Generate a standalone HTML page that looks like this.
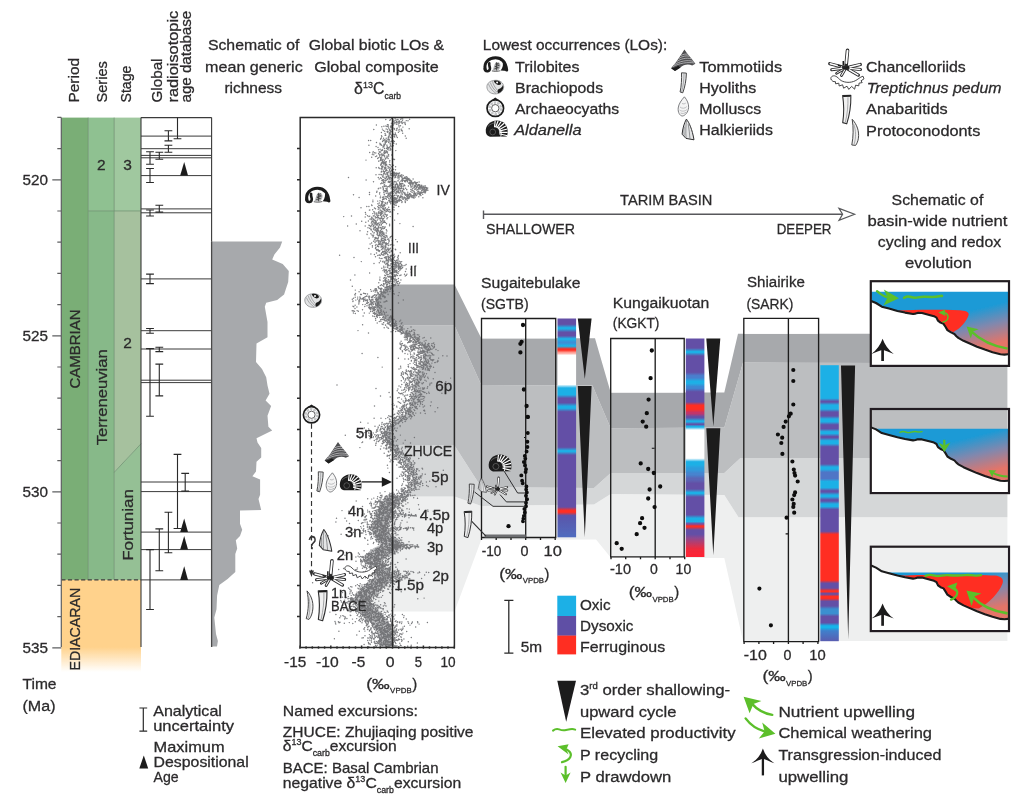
<!DOCTYPE html>
<html lang="en"><head><meta charset="utf-8"><title>Cambrian carbon isotope and Tarim Basin redox figure</title>
<style>
html,body{margin:0;padding:0;background:#fff}
svg{display:block}
text{font-family:"Liberation Sans", sans-serif;fill:#2b2a2b;stroke:#2b2a2b;stroke-width:0.28px}
</style></head><body>
<svg width="1019" height="798" viewBox="0 0 1019 798">
<defs>
<filter id="soft" x="-5%" y="-5%" width="110%" height="110%"><feGaussianBlur stdDeviation="0.45"/></filter>
<linearGradient id="edi" x1="0" y1="0" x2="0" y2="1"><stop offset="0" stop-color="#ffd28c"/><stop offset="0.73" stop-color="#ffd28c"/><stop offset="1" stop-color="#ffd28c" stop-opacity="0"/></linearGradient>
<linearGradient id="cbS" x1="0" y1="0" x2="0" y2="1"><stop offset="0.0078" stop-color="#6350a6"/><stop offset="0.0265" stop-color="#6350a6"/><stop offset="0.0420" stop-color="#1fb0e6"/><stop offset="0.0471" stop-color="#1fb0e6"/><stop offset="0.0626" stop-color="#6350a6"/><stop offset="0.0791" stop-color="#6350a6"/><stop offset="0.0920" stop-color="#1fb0e6"/><stop offset="0.0953" stop-color="#1fb0e6"/><stop offset="0.1075" stop-color="#3d8fd6"/><stop offset="0.1119" stop-color="#3d8fd6"/><stop offset="0.1237" stop-color="#1fb0e6"/><stop offset="0.1268" stop-color="#1fb0e6"/><stop offset="0.1394" stop-color="#ff2d21"/><stop offset="0.1444" stop-color="#ff2d21"/><stop offset="0.1553" stop-color="#ff9c92"/><stop offset="0.1573" stop-color="#ff9c92"/><stop offset="0.1682" stop-color="#ffffff"/><stop offset="0.3016" stop-color="#ffffff"/><stop offset="0.3172" stop-color="#1fb0e6"/><stop offset="0.3487" stop-color="#1fb0e6"/><stop offset="0.3643" stop-color="#6350a6"/><stop offset="0.3853" stop-color="#6350a6"/><stop offset="0.4008" stop-color="#1fb0e6"/><stop offset="0.4104" stop-color="#1fb0e6"/><stop offset="0.4260" stop-color="#6350a6"/><stop offset="0.5882" stop-color="#6350a6"/><stop offset="0.6036" stop-color="#1fb0e6"/><stop offset="0.6084" stop-color="#1fb0e6"/><stop offset="0.6239" stop-color="#6350a6"/><stop offset="0.8615" stop-color="#6350a6"/><stop offset="0.8771" stop-color="#ff2d21"/><stop offset="0.8853" stop-color="#ff2d21"/><stop offset="0.9008" stop-color="#5b55aa"/><stop offset="1.0000" stop-color="#4f6cbf"/></linearGradient>
<linearGradient id="cbK" x1="0" y1="0" x2="0" y2="1"><stop offset="0.0078" stop-color="#6350a6"/><stop offset="0.0439" stop-color="#6350a6"/><stop offset="0.0594" stop-color="#1fb0e6"/><stop offset="0.0642" stop-color="#1fb0e6"/><stop offset="0.0796" stop-color="#6350a6"/><stop offset="0.1547" stop-color="#6350a6"/><stop offset="0.1703" stop-color="#4a7fce"/><stop offset="0.1799" stop-color="#4a7fce"/><stop offset="0.1954" stop-color="#1fb0e6"/><stop offset="0.2050" stop-color="#1fb0e6"/><stop offset="0.2206" stop-color="#3f86d2"/><stop offset="0.2279" stop-color="#3f86d2"/><stop offset="0.2435" stop-color="#6350a6"/><stop offset="0.2902" stop-color="#6350a6"/><stop offset="0.3057" stop-color="#ff2d21"/><stop offset="0.3240" stop-color="#ff2d21"/><stop offset="0.3388" stop-color="#c2356a"/><stop offset="0.3432" stop-color="#c2356a"/><stop offset="0.3579" stop-color="#6350a6"/><stop offset="0.3629" stop-color="#6350a6"/><stop offset="0.3773" stop-color="#1fb0e6"/><stop offset="0.3815" stop-color="#1fb0e6"/><stop offset="0.3914" stop-color="#6350a6"/><stop offset="0.3935" stop-color="#6350a6"/><stop offset="0.4022" stop-color="#1fb0e6"/><stop offset="0.4056" stop-color="#1fb0e6"/><stop offset="0.4188" stop-color="#ffffff"/><stop offset="0.5483" stop-color="#ffffff"/><stop offset="0.5638" stop-color="#1fb0e6"/><stop offset="0.5780" stop-color="#1fb0e6"/><stop offset="0.5936" stop-color="#2f9bdc"/><stop offset="0.6009" stop-color="#2f9bdc"/><stop offset="0.6165" stop-color="#4684cf"/><stop offset="0.6238" stop-color="#4684cf"/><stop offset="0.6394" stop-color="#5a66b6"/><stop offset="0.6467" stop-color="#5a66b6"/><stop offset="0.6622" stop-color="#6350a6"/><stop offset="0.6892" stop-color="#6350a6"/><stop offset="0.7047" stop-color="#1fb0e6"/><stop offset="0.7095" stop-color="#1fb0e6"/><stop offset="0.7249" stop-color="#6350a6"/><stop offset="0.8069" stop-color="#6350a6"/><stop offset="0.8224" stop-color="#1fb0e6"/><stop offset="0.8375" stop-color="#1fb0e6"/><stop offset="0.8477" stop-color="#7a4fa0"/><stop offset="0.8493" stop-color="#7a4fa0"/><stop offset="0.8580" stop-color="#ff2d21"/><stop offset="0.8619" stop-color="#ff2d21"/><stop offset="0.8760" stop-color="#6350a6"/><stop offset="0.8961" stop-color="#6350a6"/><stop offset="0.9117" stop-color="#8a4a92"/><stop offset="0.9634" stop-color="#f02a3c"/><stop offset="1.0000" stop-color="#ff2233"/></linearGradient>
<linearGradient id="cbR" x1="0" y1="0" x2="0" y2="1"><stop offset="0.0054" stop-color="#1fb0e6"/><stop offset="0.1199" stop-color="#1fb0e6"/><stop offset="0.1305" stop-color="#6350a6"/><stop offset="0.1337" stop-color="#6350a6"/><stop offset="0.1442" stop-color="#1fb0e6"/><stop offset="0.1587" stop-color="#1fb0e6"/><stop offset="0.1696" stop-color="#6350a6"/><stop offset="0.1841" stop-color="#6350a6"/><stop offset="0.1949" stop-color="#1fb0e6"/><stop offset="0.2051" stop-color="#1fb0e6"/><stop offset="0.2159" stop-color="#6350a6"/><stop offset="0.2301" stop-color="#6350a6"/><stop offset="0.2409" stop-color="#1fb0e6"/><stop offset="0.2475" stop-color="#1fb0e6"/><stop offset="0.2583" stop-color="#6350a6"/><stop offset="0.2627" stop-color="#6350a6"/><stop offset="0.2736" stop-color="#1fb0e6"/><stop offset="0.2844" stop-color="#1fb0e6"/><stop offset="0.2953" stop-color="#6350a6"/><stop offset="0.3580" stop-color="#6350a6"/><stop offset="0.3688" stop-color="#1fb0e6"/><stop offset="0.3768" stop-color="#1fb0e6"/><stop offset="0.3877" stop-color="#4f74c6"/><stop offset="0.4105" stop-color="#4f74c6"/><stop offset="0.4214" stop-color="#1fb0e6"/><stop offset="0.4438" stop-color="#1fb0e6"/><stop offset="0.4547" stop-color="#6350a6"/><stop offset="0.4594" stop-color="#6350a6"/><stop offset="0.4703" stop-color="#1fb0e6"/><stop offset="0.4764" stop-color="#1fb0e6"/><stop offset="0.4873" stop-color="#6350a6"/><stop offset="0.4920" stop-color="#6350a6"/><stop offset="0.5029" stop-color="#1fb0e6"/><stop offset="0.5120" stop-color="#1fb0e6"/><stop offset="0.5228" stop-color="#6350a6"/><stop offset="0.6018" stop-color="#6350a6"/><stop offset="0.6127" stop-color="#ff2d21"/><stop offset="0.7793" stop-color="#ff2d21"/><stop offset="0.7902" stop-color="#6350a6"/><stop offset="0.8076" stop-color="#6350a6"/><stop offset="0.8174" stop-color="#ff2d21"/><stop offset="0.8202" stop-color="#ff2d21"/><stop offset="0.8277" stop-color="#6350a6"/><stop offset="0.8296" stop-color="#6350a6"/><stop offset="0.8380" stop-color="#ff2d21"/><stop offset="0.8446" stop-color="#ff2d21"/><stop offset="0.8554" stop-color="#6350a6"/><stop offset="0.8725" stop-color="#6350a6"/><stop offset="0.8833" stop-color="#3a8fd0"/><stop offset="0.8996" stop-color="#3a8fd0"/><stop offset="0.9105" stop-color="#6350a6"/><stop offset="0.9333" stop-color="#6350a6"/><stop offset="0.9442" stop-color="#12b4ea"/><stop offset="0.9511" stop-color="#12b4ea"/><stop offset="0.9620" stop-color="#3f80cc"/><stop offset="1.0000" stop-color="#5a5db0"/></linearGradient>
<linearGradient id="sea0" gradientUnits="userSpaceOnUse" x1="930" y1="291.8" x2="946" y2="356.0"><stop offset="0" stop-color="#1b9ad6"/><stop offset="0.42" stop-color="#1b9ad6"/><stop offset="0.7" stop-color="#8088ae"/><stop offset="1" stop-color="#e47468"/></linearGradient>
<linearGradient id="sea1" gradientUnits="userSpaceOnUse" x1="930" y1="418.2" x2="946" y2="482.4"><stop offset="0" stop-color="#1b9ad6"/><stop offset="0.42" stop-color="#1b9ad6"/><stop offset="0.7" stop-color="#8088ae"/><stop offset="1" stop-color="#e47468"/></linearGradient>
<linearGradient id="sea2" gradientUnits="userSpaceOnUse" x1="930" y1="556.4" x2="946" y2="620.6"><stop offset="0" stop-color="#1b9ad6"/><stop offset="0.42" stop-color="#1b9ad6"/><stop offset="0.7" stop-color="#8088ae"/><stop offset="1" stop-color="#e47468"/></linearGradient>
<marker id="gh" viewBox="0 0 10 10" refX="5" refY="5" markerWidth="4.2" markerHeight="4.2" orient="auto-start-reverse"><path d="M0 0L10 5L0 10L2.8 5Z" fill="#5bbf2b"/></marker>
<clipPath id="domeclip"><path d="M0.6 12.4C-0.6 5.6 5 0.4 11.6 0.4C18 0.4 22.4 5.2 22.4 11.6C22.4 13.6 22 15.2 21.4 16.4L4.6 16.6C2.4 16 1 14.6 0.6 12.4Z"/></clipPath>
</defs>
<rect width="1019" height="798" fill="#fff"/>
<g filter="url(#soft)">
<g id="bands">
<path d="M368.8 611.4 L367.1 609.4 L365.3 607.4 L364.0 605.4 L362.7 603.3 L361.5 601.3 L361.3 599.3 L362.8 597.3 L364.3 595.3 L365.8 593.3 L368.2 591.2 L370.7 589.2 L373.3 587.2 L375.8 585.2 L378.3 583.2 L380.8 581.2 L383.1 579.1 L385.3 577.1 L383.7 575.1 L382.1 573.1 L380.5 571.1 L378.9 569.1 L377.6 567.1 L376.6 565.0 L375.5 563.0 L374.7 561.0 L374.0 559.0 L373.3 557.0 L375.3 555.0 L379.6 552.9 L384.0 550.9 L388.9 548.9 L394.2 546.9 L394.1 544.9 L391.2 542.9 L388.0 540.8 L384.5 538.8 L382.7 536.8 L381.5 534.8 L380.7 532.8 L380.3 530.8 L380.1 528.8 L380.4 526.7 L380.6 524.7 L380.9 522.7 L381.5 520.7 L382.3 518.7 L383.1 516.7 L383.8 514.6 L384.5 512.6 L385.1 510.6 L385.8 508.6 L387.0 506.6 L388.4 504.6 L389.8 502.5 L391.7 500.5 L394.7 498.5 L397.8 496.5 L454.5 496.5 L481.3 506.0 L594.0 504.5 L610.7 494.0 L724.3 495.0 L738.5 517.2 L1007.4 517.2 L1007.4 641.0 L743.0 641.0 L724.3 558.0 L610.7 557.6 L596.0 539.6 L481.3 539.8 L454.5 611.4Z" fill="#eeefef"/>
<path d="M397.8 496.5 L400.9 494.5 L404.2 492.4 L407.5 490.4 L410.3 488.3 L411.8 486.3 L413.3 484.3 L413.4 482.2 L413.0 480.2 L412.6 478.1 L412.2 476.1 L411.6 474.1 L410.8 472.0 L410.0 470.0 L409.2 467.9 L408.3 465.9 L406.4 463.9 L404.6 461.8 L402.7 459.8 L400.9 457.7 L399.2 455.7 L397.5 453.7 L395.7 451.6 L393.6 449.6 L391.6 447.5 L389.6 445.5 L454.5 445.5 L481.3 487.2 L594.0 488.0 L610.7 473.0 L724.3 473.0 L740.5 458.0 L1007.4 458.0 L1007.4 517.2 L738.5 517.2 L724.3 495.0 L610.7 494.0 L594.0 504.5 L481.3 506.0 L454.5 496.5Z" fill="#d5d7d8"/>
<path d="M389.6 445.5 L388.2 443.5 L386.8 441.5 L385.4 439.5 L385.3 437.5 L385.2 435.5 L385.0 433.5 L385.5 431.5 L386.2 429.5 L386.9 427.5 L389.3 425.5 L392.1 423.5 L394.9 421.5 L397.7 419.5 L400.5 417.5 L403.2 415.5 L406.0 413.5 L407.2 411.5 L407.9 409.5 L408.7 407.5 L409.4 405.5 L410.2 403.5 L411.1 401.5 L411.9 399.5 L412.8 397.5 L413.6 395.5 L413.8 393.5 L413.8 391.5 L413.9 389.5 L414.0 387.5 L414.0 385.4 L413.9 383.4 L413.8 381.4 L413.8 379.4 L413.8 377.4 L415.0 375.4 L416.1 373.4 L417.2 371.4 L418.3 369.4 L419.5 367.4 L420.7 365.4 L421.9 363.4 L422.6 361.4 L422.7 359.4 L422.8 357.4 L422.9 355.4 L423.0 353.4 L422.6 351.4 L422.0 349.4 L421.4 347.4 L420.9 345.4 L418.9 343.4 L416.3 341.4 L413.7 339.4 L411.1 337.4 L408.5 335.4 L405.6 333.4 L402.6 331.4 L399.6 329.4 L396.6 327.4 L393.7 325.4 L454.5 325.4 L481.3 385.1 L592.5 385.6 L610.7 428.3 L724.3 427.5 L743.0 362.6 L1007.4 363.2 L1007.4 458.0 L740.5 458.0 L724.3 473.0 L610.7 473.0 L594.0 488.0 L481.3 487.2 L454.5 445.5Z" fill="#bcbec0"/>
<path d="M393.7 325.4 L391.1 323.3 L388.4 321.3 L385.9 319.2 L383.4 317.2 L381.2 315.1 L379.3 313.1 L377.5 311.0 L376.2 309.0 L375.6 306.9 L375.0 304.9 L374.6 302.8 L375.4 300.8 L376.3 298.8 L377.3 296.7 L379.4 294.6 L381.4 292.6 L383.5 290.5 L385.6 288.5 L387.8 286.4 L390.1 284.4 L454.5 284.4 L481.3 338.3 L595.0 338.3 L610.7 392.6 L724.3 392.6 L738.0 333.8 L1007.4 333.8 L1007.4 363.2 L743.0 362.6 L724.3 427.5 L610.7 428.3 L592.5 385.6 L481.3 385.1 L454.5 325.4Z" fill="#a7a9ac"/>
</g>
<g id="timescale">
<rect x="61.3" y="117.6" width="26.9" height="462.3" fill="#7aae76"/>
<rect x="88.2" y="117.6" width="26" height="93.3" fill="#8fc191"/>
<rect x="88.2" y="210.9" width="26" height="369.0" fill="#87b989"/>
<rect x="114.2" y="117.6" width="26.8" height="93.3" fill="#a0c89f"/>
<path d="M114.2 210.9H141V443.8L114.2 472.3Z" fill="#a6c19e"/>
<path d="M114.2 472.3L141 443.8V579.9H114.2Z" fill="#95c095"/>
<rect x="61.3" y="579.9" width="79.7" height="92.1" fill="url(#edi)"/>
<g stroke="#6f9070" stroke-width="0.8" fill="none"><path d="M88.2 117.6V579.9M114.2 117.6V579.9M88.2 210.9H141M114.2 472.3L141 443.8"/></g>
<path d="M61.3 579.9H141" stroke="#3d3d3d" stroke-width="1.1" stroke-dasharray="4.2 2.4" fill="none"/>
<path d="M61.3 117.6V646.9M57.3 117.4H61.3M57.3 148.6H61.3M52.3 179.8H61.3M57.3 211.0H61.3M57.3 242.2H61.3M57.3 273.4H61.3M57.3 304.6H61.3M52.3 335.8H61.3M57.3 367.0H61.3M57.3 398.2H61.3M57.3 429.4H61.3M57.3 460.6H61.3M52.3 491.8H61.3M57.3 523.0H61.3M57.3 554.2H61.3M57.3 585.4H61.3M57.3 616.6H61.3M52.3 647.8H61.3" stroke="#5e5f61" stroke-width="1.2" fill="none"/>
<text x="22.5" y="185.1" font-size="15.2" textLength="25.5" lengthAdjust="spacingAndGlyphs">520</text>
<text x="22.5" y="341.1" font-size="15.2" textLength="25.5" lengthAdjust="spacingAndGlyphs">525</text>
<text x="22.5" y="497.1" font-size="15.2" textLength="25.5" lengthAdjust="spacingAndGlyphs">530</text>
<text x="22.5" y="653.1" font-size="15.2" textLength="25.5" lengthAdjust="spacingAndGlyphs">535</text>
<text x="22.5" y="689.0" font-size="15.2" textLength="34.0" lengthAdjust="spacingAndGlyphs">Time</text>
<text x="22.5" y="710.5" font-size="15.2" textLength="33.0" lengthAdjust="spacingAndGlyphs">(Ma)</text>
<text x="79.4" y="102.5" font-size="15" textLength="44.6" lengthAdjust="spacingAndGlyphs" transform="rotate(-90 79.4 102.5)">Period</text>
<text x="106.6" y="102.5" font-size="15" textLength="41.3" lengthAdjust="spacingAndGlyphs" transform="rotate(-90 106.6 102.5)">Series</text>
<text x="130.8" y="102.5" font-size="15" textLength="36.8" lengthAdjust="spacingAndGlyphs" transform="rotate(-90 130.8 102.5)">Stage</text>
<text x="162.3" y="102.5" font-size="15" textLength="44.0" lengthAdjust="spacingAndGlyphs" transform="rotate(-90 162.3 102.5)">Global</text>
<text x="177.6" y="102.5" font-size="15" textLength="91.7" lengthAdjust="spacingAndGlyphs" transform="rotate(-90 177.6 102.5)">radioisotopic</text>
<text x="191.2" y="102.5" font-size="15" textLength="91.7" lengthAdjust="spacingAndGlyphs" transform="rotate(-90 191.2 102.5)">age database</text>
<text x="80.3" y="388.5" font-size="15" textLength="79.0" lengthAdjust="spacingAndGlyphs" transform="rotate(-90 80.3 388.5)">CAMBRIAN</text>
<text x="80.3" y="670.6" font-size="15" textLength="83.0" lengthAdjust="spacingAndGlyphs" transform="rotate(-90 80.3 670.6)">EDIACARAN</text>
<text x="106.6" y="445.3" font-size="15.5" textLength="96.0" lengthAdjust="spacingAndGlyphs" transform="rotate(-90 106.6 445.3)">Terreneuvian</text>
<text x="132.8" y="560.8" font-size="15.5" textLength="71.8" lengthAdjust="spacingAndGlyphs" transform="rotate(-90 132.8 560.8)">Fortunian</text>
<text x="101.2" y="170.2" font-size="15.5" text-anchor="middle">2</text>
<text x="127.6" y="170.2" font-size="15.5" text-anchor="middle">3</text>
<text x="127.6" y="348.0" font-size="15.5" text-anchor="middle">2</text>
<g stroke="#3a3a3a" stroke-width="1.1" fill="none">
<path d="M141 117.6V646.9M211.6 117.6V646.9M141 117.6H211.6"/>
<path d="M141 136.1H211.6M141 148.7H211.6M141 155.4H211.6M141 157.8H211.6M141 175.6H211.6M141 208.9H211.6M141 212.8H211.6M141 278.9H211.6M141 330.7H211.6M141 349H211.6M141 380.2H211.6M141 382.6H211.6M141 482H211.6M141 491.6H211.6M141 532.1H211.6M141 549.6H211.6M141 579.9H211.6" stroke-width="1.0"/>
<path d="M177.5 117.6V138.7M173.6 138.7H181.4M168.4 130.7V140.9M164.5 140.9H172.3M164.5 130.7H172.3M168.4 145.2V152.3M164.5 152.3H172.3M164.5 145.2H172.3M159.3 152.3V159.2M155.4 159.2H163.20000000000002M155.4 152.3H163.20000000000002M150 151.7V164.2M146.1 164.2H153.9M146.1 151.7H153.9M150 168.5V182.5M146.1 182.5H153.9M146.1 168.5H153.9M159.3 205.2V212.1M155.4 212.1H163.20000000000002M155.4 205.2H163.20000000000002M150 210V216M146.1 216H153.9M146.1 210H153.9M150 274.1V283.6M146.1 283.6H153.9M146.1 274.1H153.9M150 328.5V333.3M146.1 333.3H153.9M146.1 328.5H153.9M159.3 347.3V351.6M155.4 351.6H163.20000000000002M155.4 347.3H163.20000000000002M150 348.6V416.2M146.1 416.2H153.9M146.1 348.6H153.9M159.3 364.1V395.9M155.4 395.9H163.20000000000002M155.4 364.1H163.20000000000002M177.5 454.4V528.5M173.6 528.5H181.4M173.6 454.4H181.4M185.2 473.4V491.1M181.29999999999998 491.1H189.1M181.29999999999998 473.4H189.1M168.4 512.3V552.8M164.5 552.8H172.3M164.5 512.3H172.3M159.3 528.9V570.7M155.4 570.7H163.20000000000002M155.4 528.9H163.20000000000002M150 549.6V609.5M146.1 609.5H153.9M146.1 549.6H153.9" stroke-width="1.1" stroke="#2a2a2a"/>
</g>
<path d="M180.2 175.6L184.2 162.0L188 175.6Z" fill="#1a1a1a"/>
<path d="M180.2 532.1L184.2 518.5L188 532.1Z" fill="#1a1a1a"/>
<path d="M180.2 549.6L184.2 536.0L188 549.6Z" fill="#1a1a1a"/>
<path d="M180.2 579.9L184.2 566.3L188 579.9Z" fill="#1a1a1a"/>
<path d="M211 241.5 L282.2 241.5 L280 247.6 L274.4 254.5 L272.2 259.4 L282.7 264.1 L288.8 271 L288.2 282 L284.1 294.4 L277.2 300 L266.2 302.7 L264.8 306.8 L267.5 322 L267.5 337.2 L256.5 343.5 L256 362 L262 368.9 L266.2 377.2 L267.5 385.4 L269.5 393.7 L265.6 400.6 L271.1 406.1 L267.5 415.8 L268.4 426.8 L272.2 430.5 L256.5 438.3 L257.5 442.4 L261.2 448 L261.2 457.6 L256.5 461.7 L256 471.4 L252.4 476.3 L260.1 479.6 L260.1 494.8 L258.5 499 L261.2 510 L240 510.5 L240 523.7 L242.2 529.8 L240 536.1 L235.8 540.3 L237.2 548.6 L235.3 554 L235.3 572 L227.6 578.9 L219.3 585 L217.1 595.4 L216.5 609.2 L214.3 617.5 L216 634 L217.9 640.9 L217 646.6 L211 646.6Z" fill="#a7a9ac"/>
<path d="M211.6 241.5V646.9" stroke="#4a4a4a" stroke-width="1.3"/>
<text x="207.9" y="50.2" font-size="15" textLength="91.5" lengthAdjust="spacingAndGlyphs">Schematic of</text>
<text x="205.1" y="72.2" font-size="15" textLength="97.6" lengthAdjust="spacingAndGlyphs">mean generic</text>
<text x="224.4" y="92.8" font-size="15" textLength="57.7" lengthAdjust="spacingAndGlyphs">richness</text>
</g>
<g id="chart">
<path d="M397.0 497 L392.5 500 L389.5 503 L387.4 506 L385.7 509 L384.7 512 L383.7 515 L382.6 518 L381.4 521 L380.7 524 L380.3 527 L380.1 530 L380.8 533 L382.2 536 L384.8 539 L390.0 542 L394.3 545 L391.3 548 L383.8 551 L377.3 554 L373.3 557 L374.3 560 L375.5 563 L377.1 566 L378.9 569 L381.2 572 L383.6 575 L384.5 578 L381.0 581 L377.3 584 L373.5 587 L369.8 590 L366.0 593 L363.8 596 L361.5 599 L361.9 602 L363.8 605 L365.9 608 L368.5 611 L371.0 614 L374.6 617 L378.3 620 L380.1 623 L382.0 626 L383.5 629 L384.9 632 L385.7 635 L386.2 638 L386.6 641 L386.9 644 L387.2 647" stroke="#808285" stroke-opacity="0.5" stroke-width="14" stroke-linejoin="round" fill="none"/>
<path d="M401.9 118.7h0M395.1 118.7h0M391.9 118.7h0M391.6 118.6h0M409.6 119.2h0M400.6 119.2h0M402.8 119.0h0M385.8 119.5h0M398.1 119.8h0M390.4 119.7h0M397.1 119.5h0M395.8 120.3h0M393.2 120.0h0M389.8 120.3h0M408.0 120.8h0M406.3 120.6h0M402.5 120.6h0M399.5 120.9h0M396.6 121.4h0M394.4 121.0h0M399.1 121.3h0M401.6 121.8h0M399.9 121.7h0M399.6 121.5h0M393.3 121.8h0M405.0 122.3h0M399.4 122.0h0M396.0 122.3h0M398.1 122.0h0M397.0 122.7h0M401.1 122.6h0M394.7 122.8h0M403.1 122.5h0M391.4 123.3h0M404.8 123.0h0M393.1 123.1h0M399.2 122.9h0M394.9 123.8h0M399.1 123.5h0M402.2 123.5h0M393.0 123.8h0M393.3 123.9h0M398.2 124.1h0M396.6 124.2h0M405.4 124.1h0M387.4 124.7h0M405.3 124.4h0M388.0 124.9h0M391.4 125.1h0M388.3 124.9h0M393.1 125.3h0M391.0 125.9h0M400.5 125.8h0M398.9 125.8h0M390.5 126.2h0M385.9 125.9h0M383.9 126.3h0M390.6 126.3h0M381.8 126.8h0M391.6 126.5h0M387.0 126.6h0M388.1 126.4h0M399.2 127.0h0M402.9 127.1h0M392.9 127.1h0M391.4 127.9h0M390.7 127.6h0M392.1 127.6h0M397.2 128.3h0M392.7 128.1h0M388.5 128.0h0M396.7 128.8h0M394.5 128.6h0M394.2 128.4h0M409.2 128.7h0M401.6 129.1h0M386.2 129.0h0M389.7 129.2h0M399.8 129.3h0M373.8 129.5h0M394.3 129.5h0M391.2 129.6h0M387.7 129.8h0M401.5 130.4h0M398.2 130.0h0M396.3 130.2h0M390.0 130.8h0M390.6 130.6h0M389.8 130.8h0M402.4 131.0h0M384.7 131.2h0M399.6 131.1h0M387.1 131.6h0M390.7 131.8h0M392.0 131.4h0M387.9 131.5h0M398.4 132.2h0M387.4 132.3h0M381.4 132.4h0M388.0 132.0h0M390.7 132.7h0M389.6 132.7h0M395.3 132.9h0M385.1 133.4h0M390.1 133.2h0M402.7 133.2h0M392.7 133.8h0M390.1 133.6h0M389.2 133.6h0M390.0 133.9h0M395.4 134.3h0M389.2 134.1h0M393.0 134.4h0M393.3 134.3h0M390.6 134.6h0M395.9 134.7h0M394.6 134.7h0M385.8 135.2h0M391.6 135.2h0M385.6 135.0h0M385.1 135.3h0M389.2 135.5h0M381.5 135.6h0M392.8 135.9h0M405.3 136.0h0M396.5 136.0h0M394.3 136.3h0M389.1 136.1h0M388.4 136.9h0M381.8 136.5h0M389.0 136.7h0M394.7 137.0h0M390.4 137.2h0M391.6 137.0h0M397.3 137.4h0M381.4 137.9h0M390.7 137.6h0M388.3 137.6h0M388.4 137.8h0M386.2 138.3h0M406.2 138.2h0M383.6 138.3h0M383.6 138.2h0M391.9 138.8h0M388.1 138.9h0M380.7 138.6h0M389.1 139.2h0M380.6 139.3h0M387.7 139.1h0M388.2 139.7h0M386.0 139.9h0M384.6 139.7h0M383.4 140.4h0M368.6 140.4h0M383.1 140.0h0M389.5 139.9h0M391.7 140.9h0M393.4 140.7h0M386.5 140.7h0M370.7 140.4h0M384.9 141.0h0M388.0 141.2h0M382.6 141.4h0M390.0 141.5h0M385.8 141.7h0M394.4 141.4h0M391.6 141.4h0M393.3 142.3h0M388.7 142.4h0M386.5 142.1h0M376.5 142.5h0M385.4 142.6h0M385.1 142.8h0M385.4 143.0h0M390.2 143.2h0M390.2 143.1h0M379.9 143.2h0M390.2 143.9h0M393.8 143.5h0M392.7 143.7h0M380.8 144.2h0M383.9 144.3h0M396.3 144.0h0M385.2 143.9h0M384.7 144.6h0M384.8 144.4h0M380.1 144.7h0M384.2 144.6h0M386.9 145.3h0M384.4 145.3h0M387.0 145.3h0M390.5 145.3h0M383.1 145.9h0M390.8 145.9h0M393.4 145.6h0M390.9 146.2h0M383.3 146.2h0M393.1 146.0h0M383.3 145.9h0M392.4 146.5h0M384.0 146.8h0M387.2 146.7h0M389.6 146.9h0M382.9 147.1h0M388.0 147.4h0M383.3 147.1h0M383.1 147.1h0M387.1 147.7h0M388.6 147.7h0M378.0 147.5h0M384.4 148.4h0M390.2 148.3h0M387.3 147.9h0M390.3 148.8h0M388.1 148.8h0M386.4 148.5h0M392.3 149.1h0M382.2 149.4h0M380.1 149.3h0M387.7 149.6h0M378.6 149.8h0M390.8 149.8h0M382.7 150.3h0M389.0 150.1h0M390.4 150.1h0M381.2 150.6h0M395.8 150.6h0M384.7 150.7h0M381.5 150.6h0M386.5 150.9h0M386.0 151.0h0M384.6 151.2h0M386.8 151.8h0M386.1 151.7h0M379.3 151.8h0M373.2 151.6h0M380.6 151.9h0M379.7 152.3h0M387.5 152.0h0M383.9 152.2h0M384.3 152.8h0M385.1 152.7h0M385.9 152.5h0M374.4 152.7h0M372.8 153.0h0M387.4 152.9h0M375.8 152.9h0M378.6 153.4h0M384.3 153.7h0M384.8 153.6h0M379.1 154.3h0M381.1 154.2h0M383.2 154.1h0M381.9 153.9h0M388.4 154.7h0M372.3 154.6h0M373.8 154.7h0M388.6 154.5h0M391.7 154.9h0M383.3 155.2h0M380.0 155.1h0M382.8 155.1h0M383.2 155.5h0M379.7 155.7h0M384.6 155.6h0M382.0 155.4h0M376.7 156.0h0M388.7 155.9h0M387.0 156.0h0M387.0 156.6h0M384.6 156.7h0M375.5 156.6h0M379.8 157.1h0M371.7 157.2h0M381.8 156.9h0M387.4 157.0h0M386.6 157.8h0M378.3 157.8h0M380.6 157.7h0M388.1 158.4h0M385.4 158.3h0M381.3 158.2h0M377.7 158.5h0M380.6 158.9h0M392.5 158.6h0M392.4 158.9h0M383.0 159.2h0M393.7 159.3h0M385.5 159.0h0M380.6 159.7h0M380.8 159.5h0M394.5 159.5h0M383.0 159.6h0M366.0 160.1h0M381.5 160.0h0M384.4 160.2h0M380.3 160.5h0M382.3 160.4h0M389.8 160.5h0M382.4 161.2h0M384.0 161.3h0M378.8 161.3h0M378.6 161.1h0M386.3 161.7h0M383.3 161.9h0M385.4 161.9h0M382.0 162.3h0M389.7 162.0h0M382.9 162.2h0M385.0 162.5h0M384.2 162.6h0M385.8 162.9h0M385.3 163.1h0M381.2 163.2h0M384.8 162.9h0M382.0 163.4h0M383.5 163.5h0M385.7 163.8h0M385.4 164.2h0M384.7 164.1h0M389.4 164.4h0M383.6 164.0h0M386.6 164.5h0M380.8 164.5h0M386.4 164.9h0M390.5 164.9h0M380.8 165.3h0M393.4 165.3h0M382.9 165.9h0M385.2 165.6h0M385.9 165.5h0M387.7 166.1h0M382.0 166.3h0M383.0 166.4h0M395.6 166.7h0M391.6 166.7h0M381.7 166.4h0M382.6 166.8h0M384.9 167.3h0M388.4 167.0h0M389.8 167.4h0M385.9 167.1h0M378.8 167.5h0M382.7 167.7h0M376.2 167.7h0M384.6 167.7h0M388.1 168.3h0M390.3 168.1h0M385.9 168.3h0M381.8 168.0h0M379.2 168.4h0M381.0 168.8h0M390.3 168.5h0M385.7 168.6h0M390.0 168.9h0M382.0 169.3h0M384.6 169.0h0M386.5 169.7h0M392.3 169.7h0M389.6 169.5h0M385.8 170.3h0M383.4 170.1h0M391.5 170.4h0M387.0 170.5h0M389.4 170.8h0M386.4 170.5h0M385.9 170.5h0M385.2 171.3h0M381.6 171.2h0M390.3 171.1h0M383.5 171.4h0M384.6 171.6h0M384.2 171.7h0M390.4 171.7h0M381.8 171.8h0M383.9 172.0h0M388.7 172.0h0M381.2 172.0h0M387.0 172.4h0M384.5 172.5h0M387.5 172.6h0M387.8 172.4h0M390.1 172.9h0M393.6 173.1h0M396.9 173.3h0M391.2 173.4h0M386.8 172.9h0M384.7 173.8h0M397.0 173.5h0M392.4 173.4h0M383.6 173.6h0M385.9 174.3h0M387.8 174.0h0M390.9 174.1h0M387.4 174.3h0M379.1 174.4h0M381.7 174.8h0M380.9 174.5h0M376.0 174.7h0M387.8 175.3h0M394.7 175.1h0M383.3 174.9h0M390.2 175.0h0M391.2 175.6h0M394.1 175.4h0M391.4 175.6h0M393.1 175.7h0M386.0 176.1h0M388.8 175.9h0M382.6 176.2h0M388.2 175.9h0M386.9 176.7h0M395.7 176.6h0M382.9 176.9h0M393.0 176.8h0M383.9 177.1h0M390.0 177.3h0M390.7 177.4h0M388.4 177.1h0M389.2 177.5h0M378.3 177.5h0M386.3 177.5h0M380.6 177.7h0M385.8 178.4h0M391.6 178.1h0M384.9 178.2h0M389.6 178.4h0M385.3 178.7h0M388.1 178.5h0M381.3 178.5h0M385.3 178.5h0M388.0 179.0h0M379.2 179.0h0M391.1 179.0h0M392.3 179.3h0M389.8 179.6h0M387.3 179.5h0M383.7 179.8h0M383.2 179.8h0M386.2 180.3h0M382.6 180.0h0M366.1 180.0h0M381.9 180.4h0M384.9 180.6h0M383.1 180.9h0M385.9 180.4h0M391.5 180.8h0M388.7 181.2h0M385.2 181.1h0M398.0 181.0h0M390.3 181.2h0M373.5 181.7h0M390.1 181.5h0M391.2 181.5h0M388.4 181.5h0M390.0 182.2h0M383.8 182.0h0M389.6 181.9h0M388.3 182.3h0M391.3 182.9h0M383.5 182.8h0M389.7 182.6h0M384.9 182.7h0M382.9 183.3h0M393.7 183.1h0M381.6 182.9h0M393.9 183.0h0M400.4 183.7h0M402.8 183.4h0M391.8 183.8h0M380.8 183.8h0M400.5 184.4h0M397.5 184.3h0M396.7 184.4h0M390.6 184.1h0M384.5 184.8h0M395.5 184.5h0M393.8 184.6h0M392.4 184.5h0M391.0 185.2h0M392.1 185.1h0M384.1 184.9h0M389.7 185.2h0M386.0 185.8h0M398.3 185.9h0M391.0 185.9h0M395.4 185.5h0M388.4 186.4h0M393.1 186.4h0M384.3 186.2h0M395.5 186.2h0M382.8 186.7h0M389.7 186.8h0M387.0 186.6h0M385.0 186.5h0M397.4 187.2h0M391.4 187.2h0M393.4 187.4h0M394.9 187.3h0M380.7 187.9h0M396.1 187.9h0M394.1 187.5h0M383.1 187.8h0M399.9 188.4h0M394.1 188.0h0M379.0 188.1h0M387.3 188.0h0M391.1 188.7h0M383.4 188.8h0M378.3 188.8h0M386.0 188.5h0M383.4 188.9h0M398.7 189.0h0M394.1 189.1h0M383.4 188.9h0M395.9 189.7h0M383.3 189.7h0M387.0 189.4h0M393.6 189.5h0M395.4 190.0h0M395.6 190.0h0M385.5 190.4h0M386.2 190.4h0M387.3 190.6h0M394.6 190.7h0M384.3 190.8h0M392.7 190.9h0M385.4 191.0h0M387.2 191.0h0M377.0 191.2h0M392.9 191.3h0M385.4 191.4h0M391.4 191.9h0M387.3 191.7h0M385.7 191.5h0M383.7 192.1h0M397.8 192.2h0M391.1 191.9h0M387.8 192.1h0M379.8 192.6h0M384.0 192.7h0M390.2 192.6h0M404.0 192.7h0M386.3 193.3h0M391.1 193.3h0M389.1 193.1h0M392.9 193.0h0M388.8 193.6h0M393.0 193.4h0M395.9 193.8h0M387.9 193.8h0M379.6 193.9h0M389.9 194.4h0M388.2 194.2h0M390.1 194.0h0M384.3 194.7h0M384.3 194.4h0M388.5 194.5h0M390.1 194.4h0M394.6 195.3h0M396.9 195.3h0M400.8 195.1h0M391.0 195.3h0M387.7 195.8h0M388.9 195.7h0M391.5 195.9h0M394.0 195.8h0M390.1 196.0h0M380.5 196.1h0M389.0 196.4h0M393.0 196.2h0M385.2 196.5h0M383.2 196.6h0M391.6 196.6h0M386.6 196.7h0M392.6 197.0h0M391.3 197.1h0M387.4 197.3h0M359.1 197.4h0M380.3 197.7h0M382.4 197.6h0M383.4 197.6h0M390.4 197.8h0M388.7 198.3h0M384.2 198.3h0M390.6 197.9h0M385.7 198.3h0M392.1 198.7h0M395.2 198.8h0M390.1 198.9h0M396.3 198.4h0M384.0 199.3h0M399.9 199.2h0M386.4 199.3h0M383.4 199.3h0M391.8 199.6h0M395.4 199.4h0M394.5 199.7h0M382.6 199.5h0M400.2 200.0h0M388.9 200.2h0M372.9 200.1h0M389.6 200.2h0M380.0 200.7h0M393.4 200.8h0M388.8 200.7h0M392.1 200.6h0M377.7 201.1h0M382.3 201.2h0M383.0 201.4h0M394.6 201.0h0M396.4 201.5h0M390.9 201.8h0M372.9 201.7h0M381.4 201.6h0M390.5 202.3h0M389.6 201.9h0M382.0 202.2h0M385.1 202.4h0M387.5 202.4h0M382.8 202.7h0M387.3 202.5h0M379.3 202.9h0M385.4 203.4h0M381.9 203.3h0M393.2 203.0h0M387.3 203.0h0M385.6 203.6h0M390.7 203.7h0M393.1 203.5h0M377.9 203.7h0M394.3 204.2h0M381.5 203.9h0M387.0 204.1h0M382.2 204.1h0M381.2 204.7h0M383.7 204.9h0M384.6 204.9h0M384.2 204.5h0M381.5 205.4h0M396.2 205.2h0M371.6 204.9h0M378.8 205.3h0M382.1 205.4h0M384.9 205.6h0M384.0 205.5h0M380.0 205.4h0M382.4 206.4h0M384.2 206.1h0M398.7 206.4h0M383.1 206.3h0M377.8 206.6h0M380.4 206.7h0M366.8 206.4h0M368.9 206.5h0M382.1 207.3h0M378.4 207.3h0M393.9 206.9h0M388.7 207.3h0M394.0 207.6h0M385.3 207.7h0M381.7 207.6h0M378.8 207.8h0M374.5 208.0h0M385.5 208.0h0M379.9 208.0h0M383.6 208.0h0M382.6 208.6h0M375.5 208.7h0M383.9 208.8h0M387.6 208.9h0M388.9 209.4h0M383.1 209.3h0M384.9 209.1h0M378.2 209.2h0M389.7 209.8h0M383.9 209.4h0M386.5 209.5h0M394.1 209.9h0M380.0 210.0h0M369.8 210.0h0M380.8 210.3h0M369.4 210.1h0M385.7 210.9h0M384.3 210.4h0M387.6 210.5h0M387.4 210.7h0M384.8 210.7h0M381.6 211.1h0M378.9 211.4h0M382.2 211.2h0M388.3 211.3h0M381.1 211.3h0M383.1 211.9h0M381.9 211.6h0M386.4 211.5h0M390.3 211.4h0M373.8 211.8h0M381.9 211.9h0M381.3 211.9h0M389.5 212.1h0M374.6 212.1h0M390.8 212.1h0M385.0 212.6h0M379.2 212.8h0M365.4 212.5h0M380.6 212.5h0M378.7 212.5h0M379.6 212.9h0M375.0 213.1h0M378.7 213.2h0M376.8 212.9h0M381.2 213.2h0M372.8 213.6h0M381.8 213.5h0M382.2 213.4h0M376.8 213.8h0M374.8 213.9h0M380.4 214.1h0M384.2 214.0h0M375.0 214.0h0M385.5 214.3h0M365.8 214.2h0M381.2 214.8h0M377.0 214.6h0M386.7 214.9h0M381.1 214.8h0M387.4 214.9h0M376.7 215.0h0M378.5 215.3h0M383.2 215.3h0M386.3 215.2h0M386.3 215.3h0M367.5 215.8h0M374.1 215.6h0M383.1 215.6h0M380.3 215.5h0M377.4 215.8h0M373.3 216.0h0M384.2 216.2h0M377.7 216.4h0M369.0 216.4h0M369.8 216.1h0M390.2 216.6h0M381.8 216.6h0M381.7 216.5h0M386.4 216.6h0M375.2 216.4h0M384.6 217.1h0M365.2 217.0h0M381.5 217.1h0M371.6 217.3h0M376.4 217.4h0M375.3 217.9h0M378.4 217.4h0M377.7 217.7h0M387.8 217.6h0M377.2 217.7h0M372.8 218.1h0M380.7 218.3h0M379.5 218.2h0M372.3 218.0h0M382.1 218.1h0M387.0 218.7h0M381.2 218.4h0M383.7 218.4h0M381.1 218.5h0M371.1 218.8h0M379.1 219.0h0M382.9 219.0h0M373.4 219.1h0M380.7 219.0h0M369.9 219.1h0M374.1 219.6h0M374.1 219.8h0M382.7 219.6h0M373.9 219.8h0M371.3 219.8h0M382.8 220.3h0M375.0 220.2h0M372.8 220.0h0M383.1 220.2h0M377.4 219.9h0M374.8 220.5h0M375.1 220.9h0M384.6 220.9h0M380.4 220.8h0M375.5 220.7h0M368.4 221.0h0M361.7 221.2h0M373.0 221.3h0M381.8 221.3h0M376.2 221.2h0M383.9 221.7h0M372.2 221.8h0M372.6 221.5h0M373.5 221.9h0M371.6 221.9h0M384.7 222.2h0M373.9 222.3h0M365.8 222.2h0M383.1 222.0h0M381.0 222.3h0M375.4 222.4h0M376.4 222.8h0M383.6 222.4h0M379.0 222.8h0M385.5 222.6h0M374.5 223.1h0M382.4 223.2h0M377.4 223.4h0M380.8 223.0h0M371.3 223.1h0M378.8 223.7h0M375.6 223.6h0M372.9 223.8h0M399.9 223.6h0M386.5 223.7h0M356.3 223.9h0M389.6 224.2h0M377.6 223.9h0M377.3 224.0h0M375.0 224.2h0M372.1 224.7h0M376.8 224.6h0M381.4 224.4h0M376.4 224.7h0M379.5 224.6h0M377.1 225.3h0M369.0 225.2h0M371.7 225.1h0M381.1 225.2h0M373.8 225.3h0M379.1 225.4h0M369.4 225.5h0M373.5 225.8h0M369.1 225.6h0M389.6 225.7h0M365.2 225.9h0M370.6 226.4h0M375.2 226.3h0M413.1 226.4h0M370.8 226.0h0M382.3 226.9h0M370.9 226.8h0M373.1 226.6h0M378.4 226.7h0M383.0 226.6h0M378.7 226.9h0M385.2 226.9h0M384.1 227.1h0M375.3 227.2h0M375.7 227.3h0M368.0 227.8h0M380.5 227.5h0M377.9 227.9h0M378.9 227.5h0M374.1 227.7h0M369.6 228.2h0M384.4 228.3h0M381.4 228.1h0M376.6 228.4h0M378.9 227.9h0M381.2 228.8h0M373.6 228.7h0M373.5 228.6h0M383.8 228.6h0M382.8 228.4h0M376.9 229.2h0M370.9 229.0h0M377.5 229.2h0M377.1 229.0h0M375.2 228.9h0M370.9 229.8h0M371.3 229.8h0M386.3 229.8h0M381.5 229.4h0M373.7 229.4h0M380.4 230.4h0M378.3 230.0h0M375.5 230.0h0M375.1 230.2h0M371.6 230.0h0M375.0 230.4h0M377.4 230.5h0M378.4 230.7h0M380.5 230.7h0M376.7 230.8h0M382.3 231.4h0M379.0 231.3h0M381.1 231.2h0M376.3 231.3h0M386.9 231.0h0M376.8 231.7h0M367.6 231.8h0M372.5 231.8h0M381.5 231.9h0M382.4 231.5h0M377.1 232.2h0M382.9 232.0h0M382.4 232.3h0M377.7 232.2h0M380.3 232.3h0M379.6 232.4h0M382.2 232.9h0M377.2 232.4h0M374.2 232.8h0M373.9 232.9h0M380.7 233.3h0M384.0 233.2h0M386.2 233.0h0M383.9 233.0h0M379.6 233.3h0M383.1 233.9h0M382.2 233.6h0M370.9 233.8h0M377.6 233.5h0M377.4 233.4h0M383.8 234.2h0M384.0 234.1h0M377.0 234.2h0M367.0 234.2h0M383.1 234.2h0M367.1 234.6h0M379.3 234.7h0M381.4 234.7h0M379.8 234.7h0M377.2 234.8h0M384.8 235.1h0M373.7 235.1h0M378.1 235.4h0M380.2 235.2h0M372.0 235.0h0M382.4 235.5h0M379.2 235.8h0M379.7 235.6h0M386.1 235.5h0M373.0 235.7h0M391.5 236.2h0M383.1 236.0h0M386.9 236.0h0M381.0 236.4h0M386.3 236.0h0M381.3 236.9h0M390.5 236.7h0M384.8 236.7h0M373.2 236.8h0M383.7 236.7h0M384.7 237.0h0M383.8 237.1h0M387.3 237.1h0M378.4 237.2h0M373.0 236.9h0M376.1 237.6h0M375.2 237.5h0M385.5 237.7h0M385.7 237.7h0M390.0 237.7h0M369.1 238.1h0M376.4 238.1h0M375.4 238.3h0M382.6 238.2h0M374.9 238.0h0M383.9 238.8h0M377.4 238.5h0M381.5 238.7h0M378.2 238.8h0M375.9 238.8h0M384.8 239.1h0M387.7 239.3h0M381.3 239.1h0M388.5 239.0h0M384.4 238.9h0M385.6 239.6h0M381.2 239.9h0M384.9 239.9h0M374.6 239.8h0M381.9 239.7h0M381.6 240.4h0M389.2 240.3h0M377.5 240.1h0M383.9 240.2h0M385.8 240.2h0M382.8 240.7h0M388.9 240.5h0M392.2 240.6h0M376.1 240.6h0M378.5 240.6h0M378.1 240.9h0M379.7 240.9h0M373.6 241.3h0M376.1 241.2h0M380.1 241.1h0M389.1 241.5h0M397.3 241.7h0M381.1 241.6h0M384.3 241.8h0M380.3 241.8h0M383.0 242.0h0M384.6 242.4h0M378.4 242.0h0M384.4 242.3h0M374.9 242.1h0M383.0 242.7h0M375.1 242.6h0M380.3 242.6h0M382.3 242.6h0M386.1 242.8h0M382.3 243.0h0M379.0 243.3h0M383.7 242.9h0M379.8 243.0h0M371.6 243.0h0M379.8 243.8h0M387.5 243.6h0M386.3 243.5h0M370.1 243.9h0M385.4 243.5h0M381.7 244.1h0M380.4 244.3h0M378.6 244.3h0M380.8 243.9h0M386.6 244.4h0M382.3 244.4h0M391.2 244.5h0M376.1 244.4h0M385.9 244.7h0M379.7 244.4h0M377.9 245.0h0M388.1 245.0h0M393.8 245.1h0M383.8 245.1h0M390.2 244.9h0M388.5 245.6h0M385.4 245.7h0M372.4 245.8h0M375.4 245.6h0M381.2 245.8h0M377.3 246.3h0M377.7 245.9h0M386.0 246.1h0M381.7 246.0h0M382.4 246.1h0M378.3 246.5h0M384.0 246.8h0M378.7 246.8h0M382.5 246.4h0M381.7 246.6h0M385.5 247.0h0M382.0 247.0h0M380.9 247.1h0M372.4 247.1h0M375.9 247.4h0M375.7 247.5h0M385.6 247.6h0M386.0 247.6h0M383.9 247.8h0M383.8 247.4h0M387.9 248.0h0M392.7 248.4h0M382.3 248.3h0M382.9 248.2h0M390.5 248.1h0M385.1 248.9h0M388.1 248.9h0M390.2 248.8h0M375.5 248.4h0M385.0 248.8h0M382.9 249.1h0M376.5 249.4h0M387.1 249.2h0M395.3 249.2h0M389.3 249.3h0M381.5 249.6h0M378.0 249.4h0M385.0 249.5h0M388.5 249.7h0M395.7 249.7h0M386.2 250.2h0M392.2 250.1h0M388.4 250.2h0M376.8 250.2h0M378.5 250.3h0M378.9 250.4h0M379.8 250.7h0M388.7 250.4h0M378.2 250.7h0M391.3 250.8h0M384.8 250.9h0M390.8 251.1h0M385.0 251.2h0M382.9 251.1h0M387.0 251.1h0M387.9 251.9h0M391.8 251.4h0M383.9 251.8h0M391.7 251.5h0M382.7 251.4h0M389.5 252.3h0M385.7 252.3h0M383.9 252.3h0M386.3 252.4h0M382.5 252.2h0M381.6 252.9h0M385.6 252.6h0M385.7 252.7h0M389.9 252.7h0M400.2 252.7h0M376.5 253.0h0M384.1 252.9h0M385.2 253.4h0M386.0 253.3h0M386.0 252.9h0M385.2 253.6h0M386.7 253.4h0M385.3 253.9h0M384.0 253.8h0M381.4 253.8h0M383.9 254.0h0M387.3 254.1h0M381.2 253.9h0M394.1 254.3h0M370.9 254.0h0M381.8 254.5h0M387.6 254.5h0M387.9 254.6h0M382.9 254.9h0M374.4 254.5h0M379.9 255.3h0M391.7 255.2h0M379.2 255.0h0M393.4 255.4h0M383.9 255.1h0M398.4 255.5h0M390.3 255.4h0M380.2 255.5h0M390.4 255.4h0M377.8 255.4h0M391.2 256.0h0M394.8 256.3h0M387.8 256.3h0M388.3 256.2h0M391.2 256.0h0M386.3 256.7h0M388.8 256.9h0M375.5 256.8h0M398.2 256.8h0M390.7 256.5h0M388.2 257.2h0M386.1 257.0h0M385.8 257.2h0M389.6 257.3h0M385.3 257.0h0M384.4 257.8h0M379.4 257.9h0M390.0 257.8h0M384.7 257.4h0M393.1 257.6h0M388.6 258.4h0M393.0 258.3h0M386.6 257.9h0M385.9 258.4h0M388.6 257.9h0M393.0 258.6h0M380.9 258.6h0M390.8 258.4h0M382.0 258.5h0M390.7 258.4h0M391.3 259.3h0M386.6 259.3h0M388.6 259.3h0M388.5 259.2h0M388.3 259.1h0M389.9 259.7h0M391.7 259.6h0M392.6 259.5h0M386.5 259.8h0M390.2 259.7h0M398.0 260.0h0M390.5 260.0h0M386.1 260.2h0M397.4 260.1h0M388.3 260.2h0M387.4 260.4h0M388.2 260.8h0M390.1 260.8h0M396.1 260.8h0M380.5 260.9h0M383.1 261.1h0M391.3 261.2h0M399.2 261.3h0M386.9 260.9h0M395.6 261.2h0M388.4 261.7h0M384.9 261.5h0M401.7 261.6h0M382.6 261.7h0M395.8 261.6h0M400.7 262.0h0M397.7 262.0h0M395.2 262.2h0M384.2 262.2h0M392.8 262.1h0M379.3 262.8h0M384.5 262.7h0M388.0 262.5h0M396.6 262.8h0M398.9 262.9h0M391.8 263.1h0M384.9 262.9h0M387.9 263.3h0M386.4 263.3h0M387.8 263.2h0M391.3 263.7h0M387.3 263.6h0M390.9 263.7h0M395.5 263.5h0M374.0 263.5h0M391.1 263.9h0M385.9 264.4h0M395.8 264.0h0M395.2 264.1h0M391.3 264.1h0M387.6 264.7h0M406.1 264.5h0M401.6 264.8h0M396.0 264.5h0M388.2 264.5h0M396.4 265.2h0M395.6 265.3h0M390.2 265.2h0M392.6 265.0h0M388.2 265.0h0M388.9 265.8h0M396.3 265.7h0M403.0 265.7h0M415.8 265.9h0M404.9 265.5h0M400.0 265.9h0M398.8 265.9h0M395.8 266.4h0M383.8 266.3h0M387.5 266.0h0M399.9 266.5h0M391.2 266.6h0M392.1 266.5h0M392.9 266.5h0M395.4 266.7h0M402.6 267.4h0M387.7 267.4h0M396.0 266.9h0M396.4 267.0h0M394.7 267.0h0M399.2 267.6h0M400.9 267.7h0M391.0 267.7h0M383.9 267.5h0M398.7 267.5h0M398.9 268.0h0M399.5 268.1h0M381.8 268.3h0M399.9 268.1h0M399.9 268.2h0M401.8 268.6h0M391.0 268.6h0M393.9 268.5h0M389.2 268.5h0M390.7 268.6h0M389.8 269.0h0M394.3 269.4h0M398.5 269.3h0M400.6 269.0h0M406.2 268.9h0M386.1 269.8h0M394.3 269.4h0M392.0 269.8h0M384.0 269.5h0M393.5 269.7h0M386.6 270.0h0M392.9 270.2h0M384.9 270.2h0M399.8 270.3h0M395.2 270.3h0M385.6 270.5h0M388.7 270.5h0M389.5 270.6h0M390.2 270.6h0M383.0 270.6h0M394.4 271.2h0M384.5 271.3h0M386.3 271.1h0M396.7 271.3h0M387.1 271.2h0M396.9 271.6h0M393.1 271.9h0M405.5 271.5h0M395.4 271.5h0M398.7 271.7h0M384.5 271.9h0M395.9 272.1h0M389.8 272.0h0M387.5 271.9h0M390.4 272.1h0M396.3 272.7h0M391.3 272.7h0M393.0 272.9h0M392.3 272.6h0M386.2 272.8h0M385.8 273.1h0M390.9 273.1h0M369.6 273.0h0M392.3 273.1h0M391.2 273.2h0M389.7 273.8h0M392.1 273.9h0M390.4 273.5h0M390.9 273.6h0M398.2 273.6h0M392.1 274.1h0M387.7 274.3h0M404.5 274.3h0M386.8 274.2h0M407.0 274.1h0M387.7 274.4h0M396.3 274.7h0M394.0 274.7h0M401.0 274.9h0M388.2 274.5h0M406.3 275.2h0M397.5 275.4h0M395.6 275.1h0M394.7 275.2h0M394.2 275.1h0M399.9 275.5h0M394.2 275.5h0M395.8 275.8h0M394.6 275.5h0M385.7 275.7h0M394.2 276.1h0M390.6 276.2h0M405.2 275.9h0M387.7 276.2h0M389.5 276.2h0M391.4 276.7h0M395.4 276.8h0M394.2 276.5h0M389.8 276.6h0M393.3 276.9h0M384.4 277.4h0M390.6 277.1h0M389.8 277.1h0M388.5 277.0h0M390.9 277.1h0M392.3 277.5h0M385.5 277.9h0M386.7 277.9h0M392.6 277.6h0M391.3 277.5h0M383.8 278.3h0M392.0 278.2h0M385.7 278.2h0M392.9 278.0h0M390.8 278.3h0M392.1 278.7h0M395.0 278.9h0M398.4 278.5h0M393.1 278.5h0M393.7 278.7h0M379.8 279.1h0M395.6 279.1h0M391.3 279.3h0M394.1 279.3h0M392.1 279.0h0M388.5 279.7h0M384.9 279.6h0M396.7 279.6h0M385.7 279.4h0M390.7 279.8h0M388.2 280.0h0M394.9 280.4h0M392.5 280.3h0M400.9 279.9h0M380.0 280.2h0M396.2 280.7h0M383.3 280.9h0M385.2 280.6h0M384.1 280.9h0M386.3 280.8h0M398.4 281.2h0M389.6 281.3h0M387.8 281.2h0M392.9 281.1h0M390.6 281.2h0M392.9 281.8h0M390.1 281.4h0M397.4 281.8h0M391.0 281.4h0M385.7 281.7h0M386.8 282.2h0M394.8 282.0h0M396.4 282.2h0M387.8 282.0h0M388.5 282.0h0M378.8 282.8h0M388.5 282.8h0M388.9 282.5h0M388.9 282.4h0M399.9 282.6h0M386.0 283.1h0M385.6 283.0h0M383.6 283.4h0M397.3 283.4h0M390.0 283.1h0M389.6 283.7h0M399.1 283.4h0M395.7 283.9h0M391.8 283.4h0M384.0 283.7h0M395.7 284.0h0M393.4 284.4h0M387.7 284.0h0M384.3 284.0h0M386.2 284.1h0M381.5 284.6h0M383.7 284.6h0M386.9 284.9h0M387.5 284.4h0M394.3 284.4h0M393.8 285.2h0M398.2 285.3h0M392.9 285.0h0M398.3 285.2h0M395.5 285.1h0M389.7 285.9h0M391.5 285.7h0M380.3 285.5h0M394.7 285.7h0M382.2 285.5h0M383.7 286.2h0M383.8 286.0h0M386.6 285.9h0M386.9 286.4h0M387.5 286.4h0M387.4 286.6h0M393.2 286.5h0M388.4 286.5h0M378.4 286.8h0M387.5 286.8h0M385.1 287.3h0M389.8 287.0h0M378.1 287.0h0M387.0 287.4h0M386.5 287.2h0M378.8 287.7h0M390.5 287.7h0M385.0 287.7h0M386.2 287.8h0M386.2 287.7h0M391.9 288.1h0M391.2 287.9h0M381.4 288.2h0M381.9 288.4h0M388.9 288.1h0M378.9 288.4h0M390.4 288.5h0M375.2 288.6h0M376.3 288.8h0M380.2 288.4h0M384.9 289.2h0M380.5 289.4h0M390.5 289.4h0M388.6 289.4h0M387.5 289.0h0M386.3 289.6h0M381.0 289.4h0M375.9 289.7h0M370.6 289.6h0M385.4 289.8h0M375.6 290.4h0M376.2 289.9h0M374.5 290.0h0M376.9 290.3h0M381.1 290.0h0M387.2 290.4h0M385.8 290.6h0M376.0 290.4h0M373.3 290.9h0M376.9 290.7h0M389.9 291.4h0M381.1 291.0h0M383.8 291.0h0M393.4 291.1h0M383.5 291.0h0M381.7 291.8h0M380.1 291.5h0M381.5 291.4h0M387.6 291.7h0M380.4 291.6h0M384.8 292.0h0M384.7 292.1h0M377.3 292.1h0M375.2 292.0h0M386.2 292.1h0M399.1 292.6h0M381.2 292.5h0M384.4 292.7h0M383.2 292.5h0M385.2 292.8h0M385.6 292.9h0M381.9 292.9h0M383.4 293.0h0M378.6 293.0h0M377.8 293.0h0M381.6 293.8h0M393.3 293.6h0M364.8 293.5h0M378.6 293.8h0M380.9 293.8h0M394.4 294.0h0M360.9 294.3h0M377.1 294.4h0M388.1 294.1h0M382.2 294.4h0M375.1 294.6h0M379.3 294.4h0M379.4 294.8h0M378.9 294.4h0M388.1 294.4h0M374.5 295.0h0M383.4 295.1h0M379.0 295.0h0M376.8 295.2h0M380.7 295.3h0M376.7 295.6h0M373.7 295.8h0M376.2 295.8h0M384.0 295.9h0M398.3 295.5h0M372.5 296.1h0M384.4 296.3h0M382.3 296.1h0M380.2 296.2h0M375.8 296.0h0M385.4 296.9h0M372.0 296.8h0M372.7 296.4h0M380.3 296.9h0M382.9 296.5h0M380.0 297.2h0M384.3 297.0h0M379.2 297.1h0M378.4 297.1h0M375.9 297.3h0M374.3 297.6h0M384.8 297.7h0M376.2 297.6h0M372.2 297.5h0M363.5 297.7h0M376.0 298.3h0M380.0 298.0h0M369.3 297.9h0M369.2 298.2h0M375.9 298.3h0M381.1 298.7h0M380.1 298.6h0M378.7 298.7h0M376.4 298.7h0M376.3 298.4h0M377.1 299.1h0M373.0 299.3h0M359.5 299.3h0M381.0 299.1h0M375.5 299.4h0M372.3 299.6h0M372.5 299.5h0M378.0 299.7h0M377.1 299.9h0M375.7 299.7h0M377.0 300.2h0M377.4 300.1h0M378.0 300.0h0M376.8 300.4h0M403.3 300.0h0M386.6 300.7h0M373.0 300.6h0M386.1 300.9h0M367.6 300.8h0M365.2 300.6h0M370.2 301.1h0M363.6 301.3h0M376.6 301.0h0M386.9 301.3h0M371.2 301.3h0M378.9 301.7h0M377.1 301.7h0M373.8 301.6h0M385.1 301.8h0M374.4 301.8h0M380.5 302.2h0M367.4 301.9h0M378.4 302.3h0M384.0 302.0h0M372.7 302.2h0M372.5 302.8h0M372.8 302.5h0M368.6 302.6h0M377.2 302.5h0M371.1 302.4h0M378.8 303.3h0M373.2 303.1h0M366.5 303.3h0M398.5 303.0h0M371.0 302.9h0M378.1 303.5h0M375.4 303.6h0M367.4 303.6h0M367.5 303.6h0M372.1 303.7h0M377.4 304.0h0M377.8 304.1h0M373.4 304.4h0M370.3 304.2h0M369.9 304.2h0M369.2 304.7h0M375.5 304.7h0M371.6 304.5h0M362.7 304.6h0M379.0 304.8h0M379.5 305.1h0M377.7 305.1h0M376.7 305.2h0M377.8 305.2h0M368.8 305.1h0M379.3 305.6h0M367.0 305.7h0M377.2 305.8h0M381.4 305.7h0M380.5 305.6h0M353.0 306.3h0M372.5 306.1h0M381.3 306.2h0M369.7 306.1h0M381.4 306.0h0M364.8 306.4h0M373.0 306.8h0M374.8 306.7h0M378.5 306.8h0M377.5 306.9h0M369.8 307.4h0M381.8 307.0h0M371.4 307.3h0M368.7 307.2h0M375.5 307.3h0M374.7 307.8h0M373.9 307.5h0M374.6 307.5h0M379.5 307.7h0M370.7 307.7h0M369.3 308.2h0M385.1 308.3h0M371.1 308.4h0M372.5 308.0h0M372.9 308.2h0M369.7 308.7h0M370.3 308.8h0M374.5 308.6h0M374.2 308.6h0M380.1 308.5h0M375.3 309.4h0M373.1 309.0h0M372.7 309.0h0M372.9 309.1h0M374.4 309.0h0M370.8 309.7h0M390.6 309.8h0M390.3 309.6h0M381.1 309.7h0M370.8 309.6h0M377.6 310.2h0M373.4 310.3h0M377.5 310.0h0M373.7 310.1h0M378.3 310.1h0M374.5 310.5h0M378.3 310.8h0M381.5 310.9h0M380.7 310.6h0M378.4 310.6h0M376.3 311.3h0M378.0 311.3h0M372.4 311.2h0M383.6 311.3h0M358.3 311.3h0M378.0 311.6h0M378.4 311.6h0M370.6 311.5h0M372.7 311.6h0M380.9 311.9h0M386.3 312.2h0M374.3 312.2h0M383.1 312.1h0M380.9 312.3h0M380.6 312.1h0M376.9 312.7h0M384.6 312.6h0M374.9 312.7h0M379.8 312.7h0M378.5 312.6h0M384.6 313.2h0M364.3 312.9h0M373.3 313.2h0M369.3 313.1h0M375.0 313.3h0M375.7 313.8h0M379.8 313.9h0M374.4 313.4h0M379.1 313.5h0M381.7 313.6h0M376.9 314.2h0M374.8 314.4h0M377.9 314.1h0M380.1 314.1h0M382.1 313.9h0M379.3 314.9h0M384.3 314.5h0M382.0 314.6h0M380.2 314.8h0M377.7 314.5h0M377.5 315.2h0M381.1 315.3h0M387.9 315.3h0M385.9 315.3h0M379.1 315.4h0M377.0 315.8h0M377.9 315.5h0M379.7 315.4h0M372.7 315.9h0M376.6 315.5h0M392.5 316.3h0M363.1 316.0h0M385.9 316.2h0M391.1 315.9h0M390.6 315.9h0M377.2 316.9h0M383.4 316.7h0M376.3 316.5h0M374.3 316.5h0M390.7 316.5h0M377.3 317.3h0M390.2 317.0h0M391.3 317.1h0M391.1 317.2h0M391.2 317.4h0M383.0 317.6h0M389.4 317.5h0M392.0 317.8h0M379.9 317.6h0M382.6 317.6h0M385.7 318.1h0M385.0 317.9h0M385.6 318.1h0M383.3 317.9h0M384.7 318.1h0M391.8 318.5h0M389.1 318.8h0M384.9 318.6h0M375.6 318.5h0M391.0 318.6h0M381.4 319.3h0M384.9 319.2h0M394.2 319.4h0M391.2 319.3h0M393.1 319.3h0M388.6 319.8h0M387.1 319.7h0M380.7 319.7h0M382.6 319.5h0M383.8 319.8h0M391.1 320.0h0M400.7 320.1h0M375.7 320.2h0M388.9 320.4h0M389.1 319.9h0M385.1 320.9h0M384.8 320.6h0M385.8 320.6h0M386.8 320.8h0M393.0 320.5h0M399.8 321.1h0M399.8 321.3h0M380.9 321.2h0M393.0 321.4h0M395.7 320.9h0M392.5 321.8h0M396.0 321.4h0M390.2 321.6h0M379.3 321.5h0M387.2 321.6h0M392.9 322.2h0M387.8 322.1h0M395.6 322.3h0M389.7 322.4h0M393.2 322.3h0M383.6 322.8h0M402.0 322.8h0M377.2 322.9h0M393.0 322.9h0M383.7 322.7h0M388.0 323.0h0M388.6 323.2h0M392.7 323.4h0M395.0 323.2h0M392.9 322.9h0M394.0 323.6h0M392.7 323.7h0M387.3 323.6h0M396.4 323.8h0M401.3 323.7h0M389.7 324.2h0M382.1 323.9h0M394.8 323.9h0M388.4 323.9h0M391.5 324.0h0M390.9 324.8h0M394.8 324.4h0M395.0 324.5h0M383.1 324.6h0M362.6 324.7h0M394.5 325.1h0M385.6 325.2h0M393.8 325.3h0M396.8 325.4h0M385.5 325.0h0M403.0 325.6h0M395.1 325.5h0M395.9 325.5h0M390.1 325.6h0M393.4 325.7h0M390.9 326.0h0M392.1 326.0h0M395.9 326.0h0M394.4 326.4h0M400.6 326.0h0M399.9 326.5h0M394.3 326.7h0M400.1 326.7h0M399.6 326.5h0M401.9 326.7h0M386.8 326.9h0M393.5 327.1h0M393.0 326.9h0M402.4 327.2h0M411.0 327.0h0M384.2 327.7h0M401.8 327.4h0M388.0 327.9h0M397.4 327.5h0M396.2 327.5h0M401.1 327.9h0M396.8 328.1h0M388.5 328.2h0M397.9 328.1h0M393.7 328.3h0M394.2 328.8h0M395.5 328.6h0M395.7 328.9h0M397.4 328.8h0M407.8 328.6h0M402.4 329.0h0M400.3 329.2h0M401.9 329.0h0M404.0 329.0h0M402.0 329.2h0M401.8 329.5h0M413.3 329.7h0M396.5 329.4h0M399.4 329.5h0M402.2 329.7h0M393.1 330.4h0M398.3 330.4h0M414.8 330.2h0M401.0 330.0h0M398.0 330.1h0M399.8 330.6h0M400.8 330.4h0M407.2 330.6h0M401.2 330.6h0M397.8 330.5h0M411.7 330.5h0M398.0 331.3h0M411.7 331.2h0M406.3 330.9h0M399.1 331.3h0M402.5 331.0h0M409.2 331.2h0M395.7 331.5h0M391.1 331.7h0M406.5 331.4h0M400.5 331.8h0M410.2 331.7h0M405.9 331.8h0M414.1 332.2h0M407.1 332.1h0M403.4 331.9h0M403.7 332.4h0M400.2 332.0h0M408.7 332.9h0M403.2 332.5h0M401.4 332.7h0M406.6 332.8h0M414.3 332.7h0M409.4 333.3h0M404.4 333.3h0M405.5 333.0h0M407.0 333.1h0M402.1 333.0h0M401.9 333.2h0M409.5 333.8h0M406.7 333.4h0M407.9 333.8h0M414.8 333.9h0M409.0 333.6h0M402.9 333.6h0M410.2 334.3h0M414.0 334.1h0M405.8 334.2h0M401.1 334.0h0M407.0 334.1h0M406.1 334.8h0M410.4 334.6h0M410.0 334.9h0M414.1 334.4h0M407.9 334.7h0M417.3 334.8h0M418.8 335.0h0M406.7 335.0h0M414.8 335.0h0M412.9 334.9h0M404.8 335.0h0M408.2 334.9h0M407.2 335.6h0M408.3 335.7h0M406.7 335.5h0M411.0 335.6h0M410.4 335.4h0M406.1 335.9h0M407.3 336.0h0M408.8 336.0h0M411.3 336.4h0M405.3 336.3h0M409.8 336.2h0M414.9 336.2h0M411.0 336.7h0M415.1 336.8h0M406.7 336.8h0M419.4 336.6h0M414.2 336.9h0M408.1 336.8h0M404.2 337.1h0M406.5 337.4h0M416.1 337.4h0M407.5 337.1h0M414.4 337.2h0M417.8 337.7h0M411.8 337.8h0M424.2 337.5h0M405.2 337.8h0M412.6 337.5h0M419.0 338.4h0M430.8 337.9h0M415.8 338.3h0M422.9 338.1h0M413.1 338.1h0M418.8 337.9h0M409.8 338.6h0M417.2 338.7h0M407.4 338.5h0M410.5 338.5h0M418.4 338.5h0M414.1 339.4h0M417.7 338.9h0M413.5 339.2h0M417.4 339.1h0M412.9 339.2h0M409.5 339.8h0M416.7 339.5h0M417.5 339.5h0M405.1 339.7h0M419.5 339.7h0M416.9 339.6h0M407.5 340.1h0M410.6 340.1h0M426.0 340.4h0M418.5 340.4h0M418.6 340.2h0M415.1 340.1h0M411.9 340.7h0M409.4 340.9h0M409.9 340.4h0M417.9 340.6h0M411.1 340.9h0M415.3 341.1h0M424.2 341.1h0M411.4 341.0h0M416.9 341.4h0M414.1 340.9h0M413.2 341.7h0M410.8 341.7h0M408.8 341.5h0M418.1 341.7h0M415.5 341.4h0M408.6 342.2h0M410.3 342.1h0M420.2 342.3h0M408.6 342.1h0M416.6 342.3h0M419.3 342.4h0M419.2 342.4h0M407.7 342.8h0M422.0 342.6h0M415.2 342.5h0M416.4 342.5h0M419.2 343.0h0M433.3 343.3h0M418.9 343.2h0M433.8 342.9h0M419.4 343.2h0M425.3 343.6h0M417.8 343.8h0M421.9 343.5h0M429.1 343.6h0M428.4 343.4h0M420.5 344.3h0M416.3 344.0h0M412.9 344.4h0M416.2 344.2h0M422.5 344.0h0M420.0 344.4h0M434.5 344.7h0M424.7 344.7h0M422.7 344.7h0M427.5 344.7h0M422.2 345.0h0M428.9 345.3h0M424.0 345.0h0M421.8 345.1h0M421.0 345.1h0M413.2 345.6h0M414.7 345.9h0M418.2 345.7h0M418.9 345.7h0M412.2 345.9h0M432.7 346.3h0M415.5 346.1h0M409.9 346.3h0M424.1 346.2h0M425.0 346.0h0M434.4 346.5h0M413.8 346.8h0M411.9 346.4h0M424.9 346.8h0M427.7 346.9h0M429.7 346.8h0M434.2 347.4h0M424.1 347.4h0M419.4 347.3h0M424.8 347.1h0M407.6 347.1h0M416.6 347.4h0M416.5 347.7h0M421.1 347.5h0M411.3 347.7h0M410.7 347.4h0M419.0 347.9h0M426.4 347.5h0M415.6 347.9h0M417.6 347.9h0M413.8 348.1h0M424.9 347.9h0M433.3 348.0h0M410.5 348.9h0M413.7 348.5h0M417.1 348.4h0M421.8 348.4h0M418.6 348.8h0M418.8 349.3h0M432.1 349.1h0M412.7 349.1h0M430.8 349.4h0M428.8 349.3h0M427.8 349.9h0M436.0 349.4h0M407.1 349.7h0M414.5 349.6h0M413.3 349.6h0M405.6 350.4h0M420.3 349.9h0M411.6 350.0h0M422.4 350.2h0M414.9 350.1h0M420.3 350.0h0M427.2 350.7h0M408.9 350.6h0M438.0 350.6h0M429.0 350.6h0M423.6 350.6h0M421.7 351.2h0M424.6 351.3h0M418.1 350.9h0M427.5 351.1h0M423.3 351.4h0M422.4 351.4h0M420.7 351.5h0M422.1 351.5h0M423.2 351.6h0M420.0 351.4h0M424.3 351.5h0M424.4 351.4h0M418.3 352.4h0M420.2 352.1h0M421.4 352.3h0M427.4 352.3h0M430.0 352.2h0M422.7 352.2h0M424.2 352.6h0M422.8 352.7h0M427.8 352.8h0M418.4 352.6h0M419.3 352.7h0M420.7 353.2h0M414.0 353.0h0M418.8 353.1h0M431.5 353.3h0M431.7 353.2h0M421.1 353.2h0M362.1 353.5h0M422.1 353.6h0M432.2 353.7h0M425.2 353.7h0M414.5 353.9h0M407.7 354.1h0M425.3 354.1h0M419.8 354.1h0M419.1 354.2h0M432.4 354.3h0M425.8 354.8h0M410.7 354.7h0M424.1 354.8h0M417.9 354.4h0M432.5 354.7h0M426.7 355.4h0M433.8 354.9h0M429.2 355.3h0M425.6 354.9h0M416.8 354.9h0M413.0 355.1h0M423.1 355.8h0M430.8 355.8h0M416.7 355.5h0M442.8 355.7h0M421.1 355.7h0M418.0 355.6h0M447.0 355.9h0M425.5 355.9h0M418.0 355.9h0M418.5 356.4h0M428.0 356.0h0M424.2 356.4h0M421.1 356.8h0M418.4 356.5h0M413.9 356.8h0M412.0 356.6h0M411.0 356.8h0M419.8 357.2h0M423.5 357.4h0M429.8 357.3h0M377.9 357.4h0M412.7 357.1h0M429.9 357.0h0M416.2 357.8h0M416.3 357.7h0M425.0 357.7h0M421.3 357.4h0M421.0 357.5h0M419.2 358.0h0M424.2 358.3h0M418.3 358.3h0M425.5 358.1h0M430.4 357.9h0M438.6 358.1h0M429.6 358.5h0M414.6 358.8h0M425.9 358.6h0M408.4 358.9h0M413.1 358.5h0M421.8 358.6h0M415.6 359.1h0M408.6 359.1h0M404.9 359.0h0M421.3 359.3h0M420.4 359.1h0M425.7 359.3h0M427.9 359.8h0M430.7 359.7h0M416.9 359.7h0M432.2 359.8h0M421.3 359.5h0M433.7 359.8h0M431.5 359.9h0M425.4 359.9h0M415.1 359.9h0M433.2 360.0h0M426.1 360.1h0M415.6 360.4h0M432.6 360.7h0M420.5 360.5h0M411.4 360.5h0M437.9 360.5h0M428.2 360.7h0M418.9 361.4h0M416.7 361.0h0M428.7 361.2h0M414.3 361.0h0M411.3 361.0h0M426.3 361.2h0M426.1 361.8h0M420.9 361.5h0M424.7 361.6h0M421.9 361.5h0M426.7 361.7h0M420.7 362.0h0M435.2 362.4h0M437.1 362.0h0M414.8 362.2h0M422.4 361.9h0M428.4 362.3h0M423.9 362.5h0M427.2 362.9h0M422.1 362.4h0M434.7 362.6h0M419.3 362.6h0M427.1 362.5h0M423.7 363.4h0M413.4 363.1h0M426.0 363.1h0M420.3 363.4h0M431.9 363.1h0M420.5 363.2h0M418.9 363.5h0M410.0 363.6h0M416.4 363.8h0M418.9 363.8h0M428.0 363.6h0M424.7 364.3h0M425.6 364.2h0M423.6 364.4h0M429.4 364.0h0M419.6 364.0h0M414.6 364.6h0M420.3 364.6h0M424.5 364.8h0M415.9 364.9h0M416.3 364.5h0M408.2 364.6h0M417.9 365.4h0M425.2 365.3h0M416.6 365.3h0M430.8 365.2h0M421.1 365.0h0M426.0 365.4h0M416.8 365.6h0M427.6 365.9h0M421.3 365.7h0M416.7 365.8h0M422.6 365.5h0M426.6 365.9h0M431.2 366.4h0M429.4 366.2h0M419.1 366.1h0M417.3 366.1h0M408.4 366.3h0M423.7 366.2h0M408.2 366.4h0M420.2 366.7h0M430.2 366.7h0M430.8 366.8h0M418.8 366.7h0M433.5 367.3h0M417.4 367.2h0M382.2 367.1h0M416.8 367.3h0M408.5 367.1h0M423.9 367.0h0M427.0 367.5h0M413.7 367.5h0M423.1 367.5h0M418.9 367.4h0M421.7 367.5h0M411.2 367.5h0M400.8 368.0h0M430.0 368.3h0M425.4 368.3h0M412.6 368.1h0M427.8 368.3h0M414.2 368.3h0M399.0 368.9h0M423.4 368.7h0M422.8 368.7h0M423.4 368.4h0M428.3 368.4h0M412.2 368.7h0M416.2 369.2h0M422.5 369.3h0M414.4 369.4h0M415.5 369.0h0M413.7 369.3h0M423.2 369.1h0M429.2 369.6h0M428.2 369.5h0M414.2 369.5h0M425.3 369.7h0M414.6 369.8h0M415.0 370.3h0M406.3 370.0h0M418.4 370.3h0M427.2 370.0h0M428.4 370.0h0M418.3 370.4h0M429.4 370.5h0M410.7 370.6h0M408.3 370.7h0M418.8 370.4h0M411.7 371.0h0M411.0 371.2h0M406.6 371.4h0M418.9 371.4h0M411.7 371.0h0M414.0 371.6h0M420.5 371.8h0M409.3 371.5h0M410.1 371.8h0M402.6 371.8h0M406.8 371.7h0M416.2 372.1h0M422.9 372.0h0M420.8 372.1h0M405.3 372.4h0M419.5 372.2h0M415.5 371.9h0M416.9 372.8h0M417.0 372.8h0M411.5 372.7h0M422.5 372.9h0M413.6 372.6h0M403.5 372.9h0M424.1 373.2h0M410.1 373.1h0M405.5 373.4h0M418.0 373.0h0M401.4 372.9h0M424.2 373.5h0M411.5 373.8h0M406.5 373.6h0M426.5 373.7h0M401.7 373.8h0M411.6 373.7h0M412.7 374.0h0M418.8 374.3h0M415.0 374.2h0M407.3 374.4h0M411.0 374.1h0M413.4 374.7h0M418.2 374.5h0M422.8 374.8h0M403.2 374.5h0M423.9 374.5h0M410.2 374.4h0M401.4 375.3h0M401.1 375.2h0M423.5 375.3h0M410.6 375.2h0M410.5 375.4h0M407.7 375.1h0M415.1 375.6h0M419.8 375.7h0M411.4 375.5h0M416.1 375.6h0M421.8 375.9h0M420.2 376.0h0M412.5 376.1h0M417.3 375.9h0M412.8 376.2h0M425.4 375.9h0M420.3 376.8h0M411.1 376.6h0M423.9 376.7h0M422.2 376.6h0M402.4 376.8h0M420.0 377.3h0M408.2 377.0h0M410.6 376.9h0M409.5 377.4h0M427.8 377.2h0M421.7 377.7h0M424.5 377.4h0M407.2 377.7h0M403.1 377.5h0M417.6 377.7h0M414.2 377.9h0M421.1 378.1h0M410.0 378.3h0M450.6 378.1h0M419.9 378.3h0M403.4 378.1h0M428.2 378.6h0M433.3 378.7h0M413.0 378.9h0M407.8 378.5h0M413.4 378.8h0M405.8 378.7h0M403.6 379.0h0M409.0 379.1h0M419.8 379.0h0M413.1 378.9h0M411.8 378.9h0M405.7 379.8h0M416.1 379.4h0M417.6 379.6h0M421.1 379.5h0M420.3 379.6h0M420.4 380.1h0M420.6 380.2h0M413.9 380.1h0M425.0 380.3h0M408.2 380.1h0M417.7 380.5h0M401.3 380.8h0M413.0 380.7h0M414.8 380.8h0M409.5 380.9h0M417.6 380.6h0M426.3 381.1h0M410.0 381.0h0M409.4 381.1h0M409.7 381.3h0M404.9 381.0h0M409.8 381.3h0M410.5 381.8h0M412.1 381.5h0M412.2 381.8h0M411.9 381.4h0M445.8 381.8h0M418.5 381.5h0M411.5 382.3h0M410.3 382.1h0M416.4 382.2h0M414.4 382.1h0M419.6 382.3h0M409.3 382.9h0M419.2 382.5h0M406.5 382.7h0M418.0 382.6h0M423.4 382.7h0M410.6 382.6h0M418.6 383.3h0M418.0 382.9h0M417.0 383.1h0M431.7 383.0h0M430.1 383.2h0M421.9 383.1h0M422.1 383.7h0M422.3 383.8h0M407.5 383.8h0M416.5 383.6h0M416.0 383.5h0M416.7 383.9h0M417.0 384.0h0M415.7 384.1h0M412.4 384.0h0M409.3 383.9h0M405.6 384.1h0M417.0 384.4h0M406.4 384.8h0M401.8 384.5h0M412.8 384.7h0M429.9 384.6h0M411.7 384.6h0M405.5 385.3h0M429.8 385.1h0M407.3 385.2h0M418.3 385.0h0M409.3 385.1h0M413.1 385.3h0M414.8 385.5h0M408.7 385.6h0M413.0 385.7h0M413.3 385.9h0M418.0 385.6h0M411.0 386.2h0M399.0 386.0h0M415.9 386.0h0M407.4 385.9h0M413.5 386.1h0M419.1 386.3h0M427.7 386.7h0M415.9 386.5h0M415.5 386.4h0M412.4 386.7h0M406.0 386.6h0M416.5 387.0h0M408.2 387.1h0M409.1 387.0h0M415.3 386.9h0M410.8 387.1h0M400.7 387.0h0M413.2 387.9h0M409.6 387.5h0M422.4 387.9h0M404.8 387.8h0M406.4 387.8h0M420.3 388.1h0M412.5 388.0h0M423.7 388.3h0M413.3 388.0h0M424.4 388.0h0M424.5 388.1h0M418.8 388.7h0M408.3 388.7h0M408.1 388.4h0M410.0 388.8h0M414.5 388.7h0M423.8 389.1h0M409.1 389.2h0M416.1 389.3h0M397.9 388.9h0M404.6 389.3h0M422.9 389.3h0M411.5 389.9h0M404.1 389.5h0M412.8 389.6h0M414.4 389.9h0M412.0 389.7h0M401.9 390.3h0M403.6 390.1h0M408.6 389.9h0M420.8 390.1h0M406.1 390.2h0M419.3 390.7h0M408.7 390.8h0M415.5 390.8h0M397.2 390.7h0M417.6 390.4h0M416.5 391.1h0M417.9 391.4h0M417.2 391.2h0M421.0 390.9h0M414.6 391.0h0M418.1 391.1h0M405.3 391.8h0M423.5 391.9h0M413.2 391.8h0M415.1 391.5h0M422.7 391.5h0M416.7 391.7h0M389.1 392.4h0M418.1 392.0h0M428.7 392.1h0M419.9 392.3h0M419.6 392.1h0M418.3 392.2h0M425.0 392.4h0M424.6 392.4h0M398.7 392.7h0M403.8 392.6h0M411.2 392.5h0M420.0 392.6h0M415.7 393.2h0M429.2 393.3h0M412.3 393.0h0M402.2 393.3h0M441.9 393.3h0M400.7 393.8h0M420.8 393.8h0M401.5 393.5h0M399.9 393.5h0M426.7 393.5h0M412.8 393.8h0M413.3 393.9h0M421.7 394.3h0M419.5 394.4h0M420.7 394.3h0M410.8 394.3h0M420.5 394.2h0M403.0 394.8h0M413.1 394.6h0M413.7 394.8h0M410.1 394.6h0M413.3 394.9h0M406.0 395.3h0M415.9 395.0h0M418.9 395.0h0M415.9 395.3h0M407.6 395.0h0M413.1 395.6h0M420.7 395.8h0M404.4 395.9h0M413.0 395.9h0M410.9 395.8h0M420.3 396.2h0M404.6 396.3h0M417.8 395.9h0M409.7 396.4h0M415.5 396.3h0M422.0 396.2h0M423.5 396.4h0M411.7 396.5h0M411.1 396.6h0M412.2 396.6h0M422.1 396.5h0M416.1 396.4h0M411.8 397.1h0M424.6 397.0h0M419.6 397.0h0M411.4 397.4h0M390.2 397.0h0M416.4 397.1h0M419.6 397.5h0M416.5 397.6h0M405.3 397.9h0M399.1 397.4h0M418.5 397.5h0M397.7 397.9h0M414.9 398.2h0M411.0 398.3h0M415.3 398.1h0M412.1 398.0h0M413.0 398.4h0M405.8 398.7h0M423.8 398.8h0M405.8 398.6h0M410.4 398.6h0M421.0 399.3h0M401.6 399.1h0M418.2 398.9h0M422.3 399.1h0M414.1 399.4h0M418.8 399.8h0M406.1 399.7h0M408.5 399.8h0M408.8 399.7h0M417.4 399.6h0M413.3 399.5h0M410.1 400.0h0M419.6 400.3h0M411.7 400.1h0M411.6 400.3h0M409.3 399.9h0M418.0 399.9h0M405.5 400.4h0M407.4 400.6h0M419.8 400.8h0M406.4 400.8h0M423.8 400.6h0M413.3 401.1h0M418.4 401.2h0M413.8 401.2h0M403.2 400.9h0M409.2 401.0h0M408.4 401.0h0M405.5 401.5h0M419.1 401.8h0M398.2 401.7h0M422.5 401.7h0M420.9 401.6h0M418.2 401.7h0M431.2 401.9h0M420.5 402.2h0M415.1 402.3h0M404.8 402.2h0M420.6 402.0h0M410.8 402.3h0M412.9 402.7h0M414.7 402.6h0M399.5 402.5h0M417.0 402.8h0M404.0 402.6h0M400.7 403.3h0M409.5 403.0h0M410.6 403.4h0M420.7 403.3h0M414.9 403.0h0M415.6 403.3h0M392.8 403.4h0M414.8 403.6h0M410.7 403.7h0M412.4 403.7h0M412.6 403.8h0M420.5 404.1h0M409.3 404.1h0M422.5 404.4h0M407.5 404.0h0M407.0 404.1h0M404.7 404.3h0M406.5 404.6h0M392.3 404.4h0M415.1 404.7h0M411.6 404.6h0M417.7 404.4h0M412.7 405.2h0M394.1 405.3h0M413.6 405.2h0M412.8 405.2h0M410.8 405.2h0M403.1 405.1h0M404.8 405.6h0M406.3 405.6h0M410.8 405.7h0M403.5 405.5h0M413.2 405.6h0M430.5 405.7h0M419.7 406.1h0M424.5 405.9h0M396.7 406.1h0M374.5 406.0h0M402.5 406.1h0M404.8 406.2h0M403.6 406.9h0M401.8 406.7h0M416.0 406.8h0M414.7 406.7h0M416.5 406.8h0M401.8 407.2h0M403.5 407.0h0M396.9 407.1h0M406.6 407.1h0M412.5 407.4h0M423.2 406.9h0M406.5 407.9h0M409.5 407.7h0M437.7 407.7h0M410.7 407.8h0M415.8 407.5h0M400.0 408.3h0M404.6 408.2h0M403.0 408.0h0M415.4 408.0h0M410.9 408.4h0M402.2 408.8h0M416.8 408.4h0M417.3 408.7h0M404.6 408.7h0M408.0 408.5h0M409.8 409.4h0M393.4 409.0h0M407.7 409.2h0M405.1 408.9h0M409.2 409.3h0M401.1 409.8h0M402.1 409.6h0M413.9 409.6h0M404.2 409.7h0M408.5 409.6h0M410.7 410.3h0M405.5 410.3h0M423.8 410.4h0M402.3 410.3h0M424.5 410.3h0M406.1 410.3h0M414.7 410.5h0M407.5 410.5h0M409.2 410.6h0M398.4 410.9h0M401.1 410.9h0M400.0 410.8h0M411.1 411.0h0M424.7 411.1h0M398.2 411.0h0M406.1 411.0h0M408.1 411.1h0M435.1 411.7h0M409.4 411.8h0M405.8 411.8h0M411.9 411.6h0M407.3 411.6h0M411.6 411.4h0M408.7 412.3h0M410.1 411.9h0M403.6 411.9h0M399.1 412.1h0M402.5 412.4h0M405.2 412.2h0M401.9 412.4h0M405.7 412.9h0M410.4 412.6h0M406.3 412.6h0M413.3 412.6h0M420.5 413.0h0M397.3 412.9h0M412.4 413.0h0M400.1 413.0h0M415.8 413.1h0M406.7 413.6h0M425.2 413.4h0M408.6 413.4h0M397.9 413.5h0M402.8 413.9h0M409.3 414.1h0M413.2 414.3h0M398.8 414.2h0M405.6 414.0h0M408.5 414.2h0M394.8 414.1h0M401.4 414.6h0M409.7 414.7h0M410.4 414.8h0M402.2 414.9h0M394.3 414.5h0M402.7 414.6h0M401.6 414.9h0M411.0 415.1h0M393.0 415.1h0M392.9 414.9h0M414.4 415.4h0M411.1 415.9h0M405.4 415.7h0M388.8 415.8h0M410.3 415.6h0M400.1 415.9h0M404.3 416.3h0M391.0 416.2h0M398.9 416.3h0M410.0 416.0h0M397.3 416.2h0M391.3 416.7h0M402.4 416.5h0M412.0 416.5h0M402.9 416.5h0M405.2 416.6h0M403.5 417.2h0M399.3 417.2h0M409.0 416.9h0M411.5 417.0h0M401.4 417.0h0M396.4 417.0h0M405.1 417.6h0M406.0 417.8h0M394.9 417.7h0M394.7 417.4h0M387.8 417.5h0M395.5 418.4h0M400.3 418.0h0M407.2 418.3h0M393.7 418.2h0M381.0 418.3h0M374.1 418.3h0M400.0 418.4h0M385.7 418.6h0M410.8 418.8h0M403.8 418.7h0M402.6 418.6h0M403.0 418.8h0M394.3 419.3h0M401.3 419.3h0M404.5 419.3h0M389.4 419.0h0M398.2 419.0h0M390.0 419.4h0M397.6 419.8h0M397.9 419.6h0M406.5 419.5h0M398.5 419.5h0M405.1 419.5h0M394.1 420.2h0M396.0 420.1h0M394.1 420.3h0M397.0 420.0h0M401.9 420.0h0M400.8 420.3h0M400.4 420.7h0M395.2 420.9h0M396.0 420.5h0M402.1 420.7h0M394.2 420.4h0M393.8 420.6h0M401.5 420.9h0M400.3 421.2h0M390.1 421.0h0M390.7 421.4h0M405.5 421.1h0M399.7 421.7h0M394.9 421.7h0M405.1 421.5h0M389.5 421.8h0M399.2 421.5h0M399.2 422.3h0M393.1 422.0h0M392.4 422.1h0M392.7 422.4h0M360.6 422.3h0M391.1 422.1h0M393.8 422.6h0M402.6 422.6h0M382.1 422.4h0M398.8 422.8h0M394.4 422.9h0M389.1 423.1h0M397.7 423.1h0M396.2 423.0h0M386.9 423.2h0M395.5 423.0h0M398.1 423.8h0M388.0 423.9h0M398.6 423.5h0M386.6 423.6h0M390.5 423.7h0M388.5 423.6h0M381.6 424.1h0M390.7 424.2h0M396.1 424.0h0M383.3 424.2h0M385.4 424.0h0M384.7 424.0h0M395.6 424.8h0M393.1 424.6h0M392.9 424.8h0M393.4 424.8h0M393.4 424.5h0M392.3 424.6h0M393.5 425.1h0M388.0 425.1h0M379.4 425.3h0M392.7 424.9h0M387.6 425.3h0M394.3 425.6h0M390.7 425.7h0M384.4 425.6h0M386.9 425.9h0M400.1 425.7h0M389.4 426.1h0M391.1 426.0h0M393.6 426.4h0M387.4 426.0h0M390.4 426.3h0M381.3 426.4h0M388.0 426.5h0M382.1 426.7h0M382.0 426.5h0M400.1 426.6h0M385.4 426.9h0M390.1 426.9h0M378.1 427.0h0M391.6 427.0h0M388.5 427.1h0M387.7 427.1h0M378.2 427.8h0M385.5 427.5h0M387.6 427.9h0M385.2 427.6h0M388.5 427.6h0M397.2 428.1h0M394.9 428.0h0M382.4 428.4h0M383.8 428.1h0M364.4 427.9h0M380.8 428.1h0M389.9 428.4h0M387.4 428.5h0M384.2 428.7h0M388.6 428.8h0M387.4 428.6h0M387.8 429.1h0M377.6 429.1h0M380.9 429.2h0M392.0 429.0h0M394.0 428.9h0M380.6 428.9h0M383.6 429.6h0M387.3 429.4h0M383.8 429.5h0M387.5 429.7h0M384.5 429.5h0M380.1 429.8h0M390.1 430.1h0M387.2 430.1h0M376.6 429.9h0M389.6 430.1h0M393.0 430.4h0M391.9 430.2h0M395.9 430.5h0M384.9 430.8h0M389.7 430.6h0M376.9 430.9h0M392.7 430.5h0M380.1 430.7h0M396.5 431.0h0M385.3 431.4h0M385.0 431.2h0M377.7 431.1h0M392.2 430.9h0M385.6 431.6h0M382.0 431.5h0M386.8 431.6h0M384.1 431.9h0M386.1 431.8h0M384.3 432.4h0M388.2 432.4h0M385.1 432.2h0M381.1 432.0h0M376.1 432.3h0M381.5 432.8h0M383.4 432.7h0M389.8 432.5h0M390.3 432.8h0M385.0 432.8h0M389.4 433.3h0M383.1 433.0h0M382.7 433.1h0M387.4 432.9h0M381.4 433.0h0M386.5 432.9h0M382.6 433.5h0M390.9 433.7h0M387.0 433.6h0M381.9 433.5h0M393.4 433.6h0M384.2 433.5h0M386.8 434.4h0M384.1 433.9h0M385.5 434.1h0M390.0 434.1h0M386.7 434.2h0M384.9 434.5h0M374.8 434.8h0M389.0 434.4h0M393.2 434.6h0M377.9 434.6h0M380.2 434.7h0M400.4 435.1h0M345.3 435.3h0M386.4 435.2h0M378.4 435.2h0M382.4 435.1h0M376.2 435.1h0M376.6 435.4h0M384.0 435.5h0M385.3 435.7h0M383.7 435.9h0M390.2 435.9h0M386.0 435.5h0M384.6 435.9h0M383.6 436.4h0M387.4 436.0h0M384.4 436.1h0M394.5 436.4h0M389.0 436.5h0M373.4 436.6h0M382.2 436.8h0M375.7 436.7h0M377.8 436.9h0M389.1 436.4h0M392.8 437.0h0M388.2 437.3h0M389.2 437.2h0M395.1 437.2h0M381.3 437.4h0M385.4 437.1h0M379.9 437.8h0M385.7 437.8h0M381.2 437.4h0M386.6 437.8h0M379.1 437.9h0M390.3 438.3h0M376.9 438.2h0M395.0 437.9h0M389.3 437.9h0M388.5 438.1h0M382.2 438.4h0M382.7 438.6h0M386.9 438.6h0M394.1 438.7h0M382.8 438.4h0M389.2 438.4h0M391.7 439.4h0M377.5 438.9h0M390.8 439.4h0M386.6 439.3h0M385.6 439.3h0M397.6 439.6h0M376.1 439.4h0M384.0 439.6h0M380.0 439.8h0M387.0 439.7h0M388.0 440.3h0M383.3 440.3h0M386.1 439.9h0M405.2 440.3h0M384.6 440.4h0M389.5 440.1h0M393.6 440.9h0M387.5 440.7h0M384.9 440.8h0M379.1 440.6h0M389.3 440.4h0M378.6 441.4h0M396.3 441.0h0M385.4 441.3h0M382.7 441.2h0M376.9 441.3h0M392.9 441.2h0M388.6 441.7h0M387.4 441.7h0M389.4 441.5h0M391.2 441.7h0M385.5 441.5h0M388.8 442.4h0M392.8 442.0h0M383.6 442.0h0M393.3 442.0h0M388.5 442.3h0M384.1 442.4h0M389.1 442.7h0M386.5 442.7h0M390.1 442.6h0M361.9 442.6h0M383.1 443.0h0M387.2 443.1h0M387.3 443.3h0M392.9 443.1h0M403.2 443.1h0M390.5 443.0h0M382.1 443.5h0M376.0 443.5h0M390.6 443.6h0M389.3 443.9h0M382.5 443.7h0M389.1 444.0h0M387.8 444.1h0M392.2 444.2h0M390.7 444.2h0M392.9 444.3h0M393.2 444.1h0M393.6 444.6h0M392.4 444.7h0M387.2 444.5h0M393.4 444.7h0M389.5 444.5h0M392.2 445.1h0M396.8 445.3h0M393.7 445.2h0M386.4 445.0h0M394.1 445.3h0M375.7 445.2h0M396.2 445.6h0M397.9 445.8h0M392.1 445.6h0M390.2 445.8h0M386.8 445.8h0M385.6 445.5h0M393.0 446.1h0M389.8 446.3h0M393.2 445.9h0M381.1 446.1h0M395.3 446.0h0M389.4 446.9h0M389.8 446.5h0M394.8 446.9h0M393.0 446.6h0M397.5 446.4h0M390.2 446.5h0M402.2 447.3h0M395.1 447.1h0M388.5 447.2h0M389.6 447.0h0M394.8 447.0h0M386.4 447.1h0M389.9 447.5h0M392.9 447.5h0M391.7 447.6h0M390.8 447.8h0M383.9 447.9h0M397.9 447.7h0M398.7 448.4h0M389.8 448.0h0M386.6 448.4h0M405.4 448.0h0M396.7 448.3h0M388.4 448.0h0M392.1 448.5h0M401.7 448.8h0M385.9 448.8h0M392.8 448.4h0M392.9 448.6h0M386.8 448.9h0M397.2 448.9h0M395.5 449.3h0M397.5 449.3h0M394.0 448.9h0M401.5 449.0h0M392.9 449.6h0M395.0 449.7h0M395.2 449.4h0M392.5 449.8h0M398.9 449.6h0M390.5 449.4h0M397.5 450.0h0M397.8 450.4h0M391.5 450.0h0M396.2 450.1h0M394.8 450.1h0M396.8 450.1h0M395.6 450.6h0M402.3 450.6h0M390.4 450.7h0M392.1 450.8h0M394.6 450.6h0M392.7 450.5h0M388.3 451.3h0M399.5 451.2h0M399.4 451.4h0M390.4 451.0h0M394.1 451.0h0M402.2 451.7h0M395.4 451.6h0M395.4 451.8h0M396.6 451.7h0M399.9 451.8h0M395.1 452.4h0M388.8 452.0h0M397.7 452.3h0M401.2 452.0h0M398.7 452.0h0M398.5 452.4h0M399.9 452.6h0M402.1 452.7h0M393.1 452.7h0M396.5 452.6h0M401.6 452.7h0M395.5 452.6h0M398.6 453.2h0M403.4 453.1h0M384.2 453.3h0M400.7 453.0h0M401.4 453.1h0M401.8 453.3h0M398.6 453.5h0M403.4 453.6h0M395.8 453.8h0M397.0 453.6h0M401.6 453.9h0M403.5 454.0h0M395.8 454.0h0M393.2 453.9h0M400.7 454.2h0M397.3 454.1h0M397.4 454.6h0M390.2 454.7h0M394.4 454.6h0M402.9 454.9h0M405.3 454.5h0M396.7 455.2h0M398.0 455.0h0M399.5 455.3h0M405.8 455.0h0M395.6 455.4h0M387.3 455.3h0M399.6 455.5h0M388.5 455.6h0M389.4 455.7h0M405.7 455.4h0M393.8 455.7h0M395.9 455.8h0M400.1 456.1h0M396.1 456.1h0M398.8 456.4h0M395.3 456.0h0M387.2 456.2h0M396.7 456.5h0M394.7 456.8h0M405.4 456.5h0M395.3 456.8h0M406.0 456.6h0M394.2 456.5h0M398.9 457.2h0M407.2 457.3h0M394.0 457.0h0M398.5 457.1h0M404.4 457.0h0M401.3 457.2h0M393.8 457.7h0M402.9 457.5h0M399.4 457.5h0M406.3 457.8h0M409.9 457.8h0M399.0 457.8h0M405.9 458.0h0M410.3 458.2h0M397.2 457.9h0M389.4 458.3h0M404.4 458.2h0M400.5 458.8h0M398.7 458.9h0M395.9 458.7h0M408.2 458.8h0M408.7 458.8h0M418.8 458.5h0M395.9 459.0h0M406.5 459.3h0M396.5 459.3h0M395.0 458.9h0M393.9 459.2h0M400.8 459.7h0M409.8 459.6h0M408.3 459.5h0M397.0 459.8h0M402.8 459.7h0M402.2 459.5h0M400.4 460.4h0M409.5 460.2h0M407.3 459.9h0M405.8 460.0h0M390.9 459.9h0M400.6 460.2h0M400.0 460.5h0M399.9 460.5h0M402.6 460.5h0M392.4 460.6h0M408.6 460.9h0M402.5 460.7h0M402.9 460.9h0M404.4 461.3h0M405.1 461.1h0M399.3 460.9h0M413.3 460.9h0M400.1 461.5h0M393.3 461.7h0M409.1 461.8h0M408.2 461.4h0M399.7 461.6h0M398.2 462.3h0M398.9 462.2h0M403.8 461.9h0M409.9 462.1h0M410.2 461.9h0M405.2 461.9h0M414.4 462.6h0M411.5 462.8h0M401.1 462.8h0M401.9 462.5h0M399.9 462.4h0M403.7 462.6h0M414.9 463.0h0M405.6 463.2h0M414.5 463.0h0M401.3 463.0h0M399.2 463.2h0M408.1 463.9h0M401.0 463.5h0M400.7 463.7h0M408.1 463.8h0M403.9 463.5h0M407.0 464.3h0M410.0 463.9h0M407.2 464.2h0M412.0 464.4h0M411.9 464.2h0M411.3 464.3h0M413.9 464.5h0M403.9 464.7h0M404.6 464.7h0M401.4 464.5h0M403.8 464.8h0M411.0 464.5h0M406.0 465.3h0M387.4 465.2h0M396.8 465.0h0M405.7 465.2h0M411.7 465.3h0M406.1 465.6h0M405.6 465.8h0M406.1 465.4h0M408.5 465.7h0M402.4 465.9h0M407.0 465.8h0M407.6 466.0h0M407.2 465.9h0M413.5 466.2h0M413.4 466.4h0M411.0 466.0h0M403.3 466.2h0M405.6 466.7h0M410.2 466.5h0M400.7 466.6h0M407.0 466.8h0M405.5 466.6h0M400.7 467.2h0M399.1 467.3h0M402.7 467.4h0M409.1 467.1h0M401.2 467.2h0M412.5 467.8h0M406.1 467.4h0M410.0 467.5h0M404.3 467.6h0M410.8 467.5h0M411.8 467.5h0M408.5 468.3h0M407.7 467.9h0M413.9 468.1h0M404.5 468.1h0M422.1 468.2h0M403.3 468.9h0M417.8 468.9h0M409.9 468.9h0M404.0 468.7h0M407.8 468.5h0M409.2 468.8h0M408.2 469.3h0M407.9 469.1h0M412.2 469.3h0M408.2 469.4h0M411.4 469.2h0M403.5 469.3h0M409.1 469.8h0M407.7 469.5h0M416.7 469.7h0M405.7 469.8h0M405.0 469.6h0M414.3 469.4h0M409.9 470.1h0M408.0 470.1h0M443.3 470.2h0M413.5 470.4h0M409.3 470.1h0M412.1 470.9h0M413.5 470.6h0M416.1 470.6h0M419.1 470.8h0M413.9 470.8h0M405.3 471.4h0M406.4 471.2h0M416.4 471.4h0M406.2 471.3h0M409.9 471.0h0M407.0 471.0h0M413.8 471.8h0M408.9 471.8h0M413.5 471.8h0M402.2 471.9h0M411.2 471.8h0M407.7 472.2h0M403.2 472.3h0M411.2 472.3h0M411.9 472.0h0M404.6 472.1h0M408.6 472.5h0M389.4 472.5h0M413.7 472.8h0M415.6 472.8h0M411.0 472.7h0M408.4 472.7h0M413.1 473.1h0M410.7 473.3h0M414.1 472.9h0M403.6 473.4h0M410.7 473.2h0M408.7 473.5h0M410.1 473.8h0M416.7 473.8h0M413.3 473.5h0M408.5 473.9h0M413.2 474.0h0M422.3 473.9h0M405.0 474.2h0M425.2 474.3h0M401.1 474.3h0M411.4 474.2h0M414.2 474.4h0M417.1 474.5h0M416.0 474.6h0M414.1 474.9h0M415.8 474.7h0M411.3 474.4h0M409.7 475.1h0M405.9 475.2h0M412.3 475.2h0M413.1 475.1h0M403.5 475.2h0M413.2 475.1h0M402.0 475.5h0M408.4 475.8h0M405.5 475.6h0M421.8 475.8h0M409.5 475.7h0M407.5 475.7h0M399.7 476.2h0M410.4 475.9h0M407.4 476.3h0M420.7 476.4h0M405.5 476.2h0M420.4 475.9h0M420.1 476.7h0M416.6 476.7h0M407.5 476.8h0M408.1 476.8h0M412.4 476.5h0M409.0 477.1h0M415.9 477.3h0M420.0 477.3h0M418.6 477.1h0M413.8 477.2h0M414.3 477.7h0M409.1 477.5h0M407.1 477.7h0M409.8 477.8h0M416.7 477.6h0M397.0 478.2h0M413.2 478.1h0M418.9 478.3h0M413.0 477.9h0M421.0 478.0h0M403.3 478.2h0M415.6 478.5h0M408.5 478.8h0M410.0 478.8h0M418.6 478.5h0M415.9 478.4h0M407.8 479.0h0M413.3 479.4h0M419.2 479.3h0M409.1 478.9h0M415.8 479.2h0M405.4 479.4h0M414.4 479.7h0M403.8 479.8h0M413.7 479.4h0M409.7 479.7h0M417.1 479.5h0M415.6 480.4h0M408.0 480.3h0M411.7 480.3h0M407.4 480.0h0M386.4 480.2h0M406.1 480.1h0M407.9 480.5h0M412.1 480.6h0M412.4 480.6h0M412.3 480.4h0M409.0 480.6h0M414.8 480.7h0M413.3 481.1h0M414.7 481.4h0M413.0 481.3h0M421.2 481.0h0M429.7 481.3h0M417.3 481.1h0M410.9 481.7h0M417.7 481.9h0M403.6 481.6h0M416.1 481.8h0M413.1 481.5h0M426.4 481.9h0M421.0 482.0h0M411.6 482.4h0M407.9 482.3h0M410.6 482.1h0M415.7 482.7h0M411.6 482.7h0M409.6 482.5h0M417.2 482.5h0M413.0 482.8h0M420.2 482.4h0M414.1 483.2h0M411.7 483.3h0M420.1 483.3h0M415.3 483.0h0M414.4 483.0h0M408.5 483.3h0M416.0 483.6h0M418.0 483.6h0M422.6 483.4h0M416.8 483.5h0M418.4 483.4h0M416.2 483.9h0M411.6 484.1h0M402.5 484.0h0M410.3 484.0h0M419.8 484.0h0M414.3 484.1h0M412.7 484.8h0M420.2 484.5h0M408.4 484.7h0M415.1 484.8h0M411.0 484.4h0M409.8 484.9h0M406.0 485.2h0M426.7 485.4h0M417.9 485.3h0M414.5 485.2h0M411.0 485.0h0M414.2 485.8h0M401.8 485.5h0M418.0 485.5h0M407.2 485.8h0M411.8 485.4h0M422.8 485.4h0M407.1 486.0h0M408.1 486.2h0M414.7 486.0h0M407.2 486.0h0M414.2 486.1h0M411.7 486.2h0M428.1 486.5h0M408.3 486.6h0M408.9 486.5h0M419.8 486.7h0M407.8 486.8h0M415.5 486.9h0M408.1 487.0h0M415.5 487.3h0M415.6 487.1h0M414.9 487.3h0M410.8 487.0h0M407.7 487.6h0M415.9 487.6h0M408.3 487.4h0M409.5 487.6h0M404.1 487.6h0M409.6 487.5h0M409.9 488.1h0M408.0 487.9h0M402.0 488.2h0M405.5 488.2h0M408.5 488.0h0M414.0 488.4h0M411.4 488.8h0M404.6 488.8h0M415.8 488.8h0M411.7 488.6h0M419.0 489.2h0M415.2 489.3h0M401.9 489.2h0M411.1 489.2h0M413.2 489.1h0M401.0 489.1h0M408.4 489.7h0M402.0 489.5h0M412.8 489.9h0M403.8 489.8h0M416.9 489.4h0M409.7 490.0h0M396.6 490.0h0M411.6 490.2h0M403.1 490.0h0M409.0 490.2h0M405.3 490.6h0M402.1 490.9h0M407.0 490.6h0M407.6 490.4h0M403.3 490.7h0M414.3 490.6h0M398.5 491.1h0M402.9 491.1h0M401.3 490.9h0M407.6 491.2h0M402.7 491.0h0M402.5 491.4h0M405.3 491.6h0M410.1 491.5h0M404.2 491.9h0M401.7 491.6h0M406.1 491.7h0M385.0 491.6h0M407.6 492.2h0M403.8 492.3h0M404.2 491.9h0M403.8 492.2h0M409.8 492.3h0M410.7 492.2h0M399.0 492.8h0M408.1 492.8h0M403.9 492.4h0M406.4 492.5h0M404.4 492.6h0M403.7 493.0h0M389.6 493.1h0M401.9 493.2h0M380.1 492.9h0M397.5 493.4h0M391.1 493.7h0M400.9 493.7h0M404.5 493.8h0M399.7 493.4h0M404.1 493.8h0M400.6 493.7h0M405.0 494.2h0M402.3 494.3h0M394.3 494.3h0M408.2 494.3h0M396.9 493.9h0M404.4 494.2h0M407.8 494.9h0M407.4 494.7h0M389.4 494.7h0M401.7 494.5h0M402.6 494.8h0M393.2 495.0h0M414.9 495.3h0M408.5 495.1h0M381.9 495.3h0M410.7 495.4h0M402.2 495.5h0M398.0 495.5h0M412.9 495.5h0M391.2 495.7h0M400.5 495.7h0M406.3 495.9h0M389.6 495.8h0M395.1 495.7h0M401.4 495.9h0M410.8 495.8h0M406.7 495.6h0M380.7 495.4h0M398.0 496.4h0M386.4 496.0h0M407.9 496.0h0M392.3 496.2h0M397.5 496.0h0M402.8 496.3h0M386.3 495.9h0M404.9 496.2h0M385.8 496.2h0M391.3 495.9h0M391.2 496.2h0M397.0 496.0h0M377.7 496.8h0M392.9 496.8h0M404.2 496.6h0M393.4 496.4h0M394.1 496.6h0M399.6 496.6h0M396.8 496.4h0M381.9 496.7h0M407.9 496.6h0M390.3 496.6h0M405.1 496.8h0M404.7 496.8h0M395.6 497.1h0M395.9 497.1h0M391.6 497.0h0M406.2 497.2h0M401.7 497.1h0M387.4 496.9h0M400.3 497.2h0M403.3 497.3h0M389.7 497.0h0M385.0 496.9h0M401.4 497.3h0M406.5 497.0h0M397.7 497.8h0M379.9 497.5h0M395.5 497.8h0M413.7 497.7h0M397.1 497.4h0M402.7 497.8h0M405.6 497.9h0M397.7 497.5h0M394.4 497.5h0M395.4 497.7h0M401.9 497.5h0M401.9 497.6h0M373.8 498.1h0M403.9 498.0h0M395.8 498.1h0M384.5 498.3h0M398.2 497.9h0M381.1 498.0h0M390.0 498.3h0M388.8 498.4h0M380.9 498.0h0M393.4 498.0h0M385.1 498.1h0M399.4 498.1h0M390.7 498.9h0M390.1 498.5h0M398.0 498.7h0M385.8 498.7h0M404.0 498.5h0M377.3 498.7h0M367.7 498.7h0M395.9 498.8h0M385.4 498.5h0M400.3 498.5h0M387.6 498.8h0M393.7 498.4h0M386.0 499.2h0M400.4 498.9h0M400.1 498.9h0M384.6 499.1h0M371.7 499.1h0M391.5 499.0h0M396.4 499.1h0M402.5 499.3h0M407.4 498.9h0M395.9 499.0h0M404.8 499.0h0M398.0 499.3h0M388.6 499.5h0M400.3 499.6h0M399.3 499.9h0M383.2 499.4h0M387.6 499.7h0M390.9 499.6h0M406.0 499.6h0M388.8 499.8h0M395.9 499.6h0M403.6 499.5h0M395.6 499.7h0M387.0 499.9h0M397.5 500.0h0M379.0 500.0h0M391.2 499.9h0M391.3 500.0h0M389.4 500.3h0M398.6 500.2h0M395.0 500.2h0M389.4 500.3h0M391.3 500.0h0M390.5 499.9h0M380.7 500.0h0M388.4 500.0h0M397.4 500.8h0M379.2 500.8h0M405.0 500.8h0M379.0 500.9h0M396.2 500.6h0M401.4 500.7h0M403.7 500.4h0M387.1 500.8h0M402.7 500.4h0M405.6 500.9h0M389.1 500.5h0M378.8 500.6h0M401.7 501.4h0M393.8 501.0h0M356.2 501.0h0M388.2 501.0h0M384.6 501.3h0M394.2 501.0h0M385.8 501.0h0M401.9 501.1h0M393.0 501.1h0M375.5 500.9h0M394.3 501.1h0M396.1 501.2h0M384.3 501.4h0M379.5 501.7h0M382.6 501.9h0M378.1 501.8h0M389.9 501.7h0M402.8 501.9h0M377.6 501.8h0M393.4 501.8h0M398.8 501.7h0M381.6 501.9h0M380.9 501.5h0M376.7 501.8h0M375.2 502.2h0M382.4 502.3h0M399.2 502.1h0M380.2 501.9h0M375.6 502.3h0M386.6 502.2h0M377.5 502.4h0M370.7 502.1h0M383.8 502.4h0M392.6 502.1h0M390.6 502.3h0M393.5 502.0h0M381.1 502.6h0M392.0 502.8h0M380.3 502.6h0M392.1 502.4h0M387.1 502.8h0M389.2 502.5h0M388.0 502.8h0M396.1 502.5h0M381.5 502.5h0M394.6 502.4h0M407.9 502.7h0M391.3 502.8h0M399.6 503.4h0M395.8 503.3h0M387.6 503.2h0M397.9 503.1h0M393.2 503.2h0M389.3 503.0h0M390.6 503.4h0M388.0 503.3h0M387.0 503.0h0M389.0 503.1h0M392.6 503.2h0M369.8 503.4h0M396.9 503.6h0M401.4 503.4h0M399.7 503.8h0M384.5 503.7h0M380.0 503.4h0M392.3 503.8h0M382.4 503.5h0M374.0 503.9h0M377.1 503.7h0M388.9 503.4h0M395.1 503.7h0M381.6 503.8h0M382.4 504.3h0M389.9 504.0h0M405.8 504.1h0M398.4 504.0h0M391.6 504.2h0M391.6 504.0h0M394.3 504.4h0M391.0 504.0h0M371.3 504.0h0M385.9 504.3h0M398.4 504.4h0M389.7 504.0h0M391.3 504.7h0M383.3 504.4h0M418.5 504.8h0M392.3 504.7h0M389.2 504.8h0M393.7 504.7h0M388.0 504.6h0M376.0 504.7h0M393.8 504.7h0M379.7 504.9h0M392.3 504.6h0M393.3 504.5h0M388.5 504.9h0M395.3 505.2h0M388.2 505.1h0M387.4 504.9h0M380.8 505.2h0M384.2 504.9h0M383.0 505.3h0M402.0 505.3h0M399.1 505.0h0M388.7 505.2h0M390.6 505.4h0M371.3 505.1h0M399.0 505.5h0M388.9 505.8h0M395.3 505.5h0M380.6 505.9h0M388.6 505.8h0M394.3 505.8h0M395.9 505.6h0M388.4 505.6h0M387.8 505.6h0M382.1 505.5h0M371.2 505.7h0M390.6 505.6h0M375.6 506.3h0M395.3 506.0h0M377.2 506.4h0M383.6 506.2h0M371.5 506.1h0M383.0 506.2h0M382.5 506.1h0M403.5 506.0h0M402.8 506.2h0M398.3 506.0h0M381.4 506.3h0M385.7 506.2h0M397.5 506.8h0M386.7 506.6h0M378.6 506.6h0M395.0 506.9h0M394.2 506.5h0M383.8 506.9h0M362.5 506.4h0M392.2 506.9h0M389.0 506.5h0M395.5 506.5h0M387.2 506.5h0M394.8 506.6h0M385.0 506.9h0M385.6 507.2h0M396.2 507.1h0M379.2 506.9h0M396.3 507.1h0M378.3 507.1h0M381.9 507.0h0M383.7 506.9h0M397.9 507.1h0M386.1 506.9h0M387.8 507.2h0M375.7 506.9h0M374.6 507.5h0M381.9 507.5h0M381.0 507.6h0M393.9 507.5h0M374.8 507.8h0M383.6 507.8h0M399.3 507.5h0M394.7 507.7h0M384.3 507.8h0M392.3 507.6h0M386.7 507.7h0M381.8 507.7h0M390.6 508.0h0M390.4 507.9h0M382.2 508.1h0M398.4 508.1h0M379.3 508.0h0M384.9 507.9h0M373.3 507.9h0M374.0 508.2h0M372.1 507.9h0M391.0 508.0h0M400.3 508.0h0M394.2 508.2h0M387.8 508.8h0M386.8 508.7h0M397.5 508.5h0M379.9 508.8h0M384.3 508.6h0M382.4 508.5h0M407.0 508.7h0M385.1 508.4h0M385.1 508.5h0M380.7 508.5h0M397.7 508.7h0M387.1 508.8h0M390.8 509.0h0M419.3 509.3h0M389.6 509.1h0M379.9 509.2h0M384.3 509.3h0M393.3 509.0h0M392.1 509.0h0M378.8 509.3h0M401.9 509.2h0M387.7 509.1h0M385.6 509.3h0M409.4 509.1h0M381.6 509.5h0M385.1 509.7h0M391.6 509.8h0M378.0 509.6h0M380.1 509.7h0M389.7 509.8h0M391.0 509.8h0M379.7 509.7h0M378.5 509.7h0M386.6 509.7h0M389.0 509.9h0M391.7 509.7h0M383.3 509.9h0M388.4 510.2h0M401.6 510.1h0M387.4 510.4h0M427.8 510.0h0M399.0 510.2h0M367.6 510.1h0M378.3 510.3h0M376.8 510.0h0M391.7 509.9h0M395.5 510.2h0M388.0 510.2h0M384.9 510.5h0M375.6 510.4h0M391.2 510.4h0M401.7 510.9h0M382.9 510.5h0M402.9 510.4h0M380.3 510.8h0M374.2 510.6h0M391.8 510.5h0M383.6 510.8h0M390.0 510.7h0M389.7 510.6h0M390.4 511.1h0M348.6 511.3h0M378.2 511.1h0M394.9 510.9h0M383.4 511.0h0M379.5 511.2h0M394.1 511.4h0M380.4 511.2h0M433.3 511.2h0M386.8 511.4h0M393.0 511.2h0M391.5 511.3h0M428.0 511.4h0M385.6 511.8h0M380.0 511.9h0M380.3 511.6h0M372.6 511.5h0M384.0 511.7h0M383.0 511.8h0M369.4 511.5h0M358.2 511.8h0M378.9 511.8h0M376.1 511.5h0M395.3 511.6h0M376.7 512.1h0M381.9 512.2h0M369.7 512.1h0M409.2 512.2h0M387.9 512.1h0M367.8 511.9h0M391.3 512.2h0M393.0 512.3h0M381.0 512.0h0M396.1 512.0h0M384.0 512.1h0M380.0 511.9h0M379.7 512.8h0M393.9 512.8h0M386.6 512.7h0M403.2 512.5h0M381.1 512.5h0M376.7 512.6h0M383.2 512.9h0M385.0 512.8h0M386.3 512.5h0M380.1 512.9h0M390.2 512.5h0M374.7 512.8h0M376.5 513.2h0M382.1 513.2h0M389.9 513.3h0M376.7 513.1h0M389.0 513.1h0M388.8 513.0h0M394.6 513.3h0M383.6 513.3h0M370.2 513.3h0M374.3 513.3h0M385.7 513.3h0M375.2 513.2h0M383.3 513.8h0M400.7 513.4h0M392.1 513.6h0M381.7 513.5h0M394.1 513.7h0M389.7 513.8h0M364.3 513.9h0M381.3 513.7h0M371.6 513.8h0M384.1 513.5h0M396.9 513.9h0M387.3 513.8h0M387.7 514.3h0M383.8 514.1h0M391.9 514.3h0M401.3 513.9h0M390.2 514.1h0M379.2 514.0h0M370.5 514.2h0M389.9 514.0h0M393.2 514.3h0M379.0 514.0h0M377.4 514.1h0M379.1 514.0h0M379.3 514.8h0M370.9 514.5h0M380.4 514.6h0M387.9 514.8h0M389.3 514.9h0M404.2 514.7h0M381.7 514.6h0M379.9 514.5h0M409.7 514.8h0M392.2 514.8h0M378.4 514.6h0M375.2 514.7h0M376.5 515.0h0M394.0 515.0h0M386.3 515.1h0M388.8 514.9h0M376.3 515.0h0M383.0 515.2h0M375.9 515.4h0M361.8 515.1h0M383.4 515.2h0M379.8 515.2h0M391.6 515.1h0M375.9 515.3h0M378.9 515.7h0M366.4 515.7h0M375.9 515.7h0M387.3 515.8h0M374.4 515.7h0M395.4 515.8h0M382.4 515.4h0M409.0 515.5h0M372.0 515.5h0M378.1 515.6h0M397.7 515.8h0M371.4 515.7h0M416.1 516.2h0M376.2 516.3h0M384.1 516.1h0M365.4 516.4h0M388.0 515.9h0M361.6 516.4h0M388.6 515.9h0M377.1 516.0h0M379.4 516.2h0M389.8 516.3h0M371.5 515.9h0M404.5 516.4h0M379.0 516.9h0M389.8 516.9h0M391.9 516.6h0M391.8 516.7h0M394.8 516.6h0M382.1 516.6h0M387.2 516.6h0M385.3 516.8h0M377.5 516.8h0M387.0 516.8h0M389.2 516.9h0M385.7 516.9h0M388.7 517.3h0M382.4 517.2h0M379.6 517.4h0M370.9 517.1h0M364.9 516.9h0M388.4 517.4h0M389.0 517.4h0M382.4 517.1h0M390.8 517.0h0M394.9 517.3h0M371.6 517.2h0M389.2 516.9h0M382.6 517.8h0M365.1 517.8h0M409.0 517.7h0M381.4 517.7h0M379.9 517.8h0M379.8 517.8h0M396.8 517.8h0M390.7 517.6h0M393.4 517.6h0M370.7 517.5h0M378.7 517.4h0M394.3 517.7h0M396.6 517.9h0M384.8 518.0h0M345.0 518.2h0M376.7 518.2h0M387.1 518.2h0M380.4 518.1h0M374.5 518.0h0M380.8 517.9h0M391.1 518.3h0M384.1 518.0h0M377.1 518.3h0M336.5 518.3h0M379.4 518.6h0M392.4 518.9h0M388.2 518.6h0M375.0 518.6h0M381.1 518.4h0M386.5 518.8h0M393.0 518.7h0M382.2 518.8h0M372.3 518.5h0M382.0 518.8h0M390.4 518.7h0M386.0 518.5h0M392.9 519.1h0M377.3 519.0h0M387.7 519.0h0M378.4 519.1h0M388.4 519.3h0M390.5 519.0h0M385.3 519.3h0M381.7 519.0h0M381.5 519.3h0M366.6 519.3h0M390.1 519.1h0M373.6 518.9h0M381.1 519.8h0M365.0 519.7h0M366.0 519.7h0M384.8 519.9h0M395.6 519.8h0M379.1 519.5h0M391.2 519.7h0M396.8 519.4h0M387.8 519.6h0M377.4 519.9h0M378.9 519.5h0M364.0 519.9h0M382.6 520.0h0M373.0 520.0h0M385.9 520.1h0M385.0 520.3h0M377.9 520.2h0M378.2 520.3h0M383.9 520.2h0M382.5 520.4h0M387.6 520.4h0M379.3 520.3h0M381.5 520.2h0M386.0 520.2h0M386.7 520.6h0M392.7 520.5h0M402.0 520.4h0M381.9 520.6h0M387.0 520.5h0M380.5 520.7h0M358.3 520.5h0M375.2 520.7h0M387.1 520.5h0M383.4 520.7h0M379.5 520.8h0M370.1 520.5h0M376.6 521.0h0M380.1 521.2h0M379.0 521.4h0M381.6 521.0h0M385.4 521.3h0M387.1 521.3h0M395.0 521.2h0M379.9 521.1h0M389.7 521.0h0M346.6 521.0h0M370.0 521.2h0M376.2 521.3h0M378.4 521.7h0M372.7 521.5h0M389.9 521.6h0M377.4 521.6h0M379.8 521.8h0M389.7 521.6h0M386.5 521.4h0M374.3 521.6h0M376.5 521.8h0M391.3 521.5h0M373.0 521.7h0M380.1 521.8h0M375.2 522.1h0M365.0 522.1h0M380.2 522.0h0M407.1 522.1h0M387.3 522.0h0M335.9 522.0h0M367.2 522.0h0M371.6 522.0h0M378.1 522.0h0M375.6 521.9h0M377.5 522.2h0M385.0 522.4h0M363.1 522.6h0M362.3 522.8h0M374.6 522.4h0M394.7 522.7h0M377.9 522.6h0M385.5 522.6h0M373.8 522.9h0M390.3 522.4h0M388.6 522.8h0M385.8 522.9h0M381.5 522.6h0M380.3 522.4h0M385.7 523.0h0M349.5 523.4h0M367.3 523.1h0M377.8 522.9h0M377.2 523.1h0M373.4 523.0h0M400.8 523.0h0M374.4 523.0h0M381.7 523.1h0M384.9 523.3h0M378.9 523.0h0M374.6 523.0h0M386.7 523.5h0M385.2 523.7h0M388.8 523.6h0M377.7 523.5h0M380.3 523.6h0M372.6 523.7h0M394.3 523.8h0M387.4 523.5h0M380.1 523.8h0M361.5 523.5h0M377.0 523.5h0M394.7 523.9h0M389.1 524.1h0M380.9 524.0h0M382.0 524.0h0M385.3 524.1h0M388.0 524.0h0M379.9 524.3h0M388.4 524.1h0M375.8 524.0h0M386.2 524.1h0M375.1 524.0h0M375.6 524.2h0M379.9 524.1h0M373.7 524.8h0M372.1 524.7h0M367.3 524.4h0M394.4 524.7h0M368.8 524.4h0M377.2 524.8h0M385.9 524.5h0M371.4 524.5h0M371.3 524.5h0M371.0 524.6h0M376.5 524.6h0M377.8 524.6h0M380.7 525.4h0M400.2 525.0h0M379.2 524.9h0M371.4 525.3h0M384.2 524.9h0M380.7 524.9h0M375.3 525.0h0M375.4 525.4h0M382.3 525.1h0M375.7 525.0h0M381.5 525.0h0M386.5 525.0h0M384.1 525.8h0M372.0 525.7h0M377.6 525.4h0M387.7 525.7h0M382.7 525.6h0M385.2 525.7h0M381.7 525.7h0M382.1 525.6h0M383.4 525.8h0M389.6 525.8h0M363.5 525.9h0M378.1 525.7h0M371.9 525.9h0M375.3 526.3h0M388.0 526.1h0M371.2 526.4h0M378.6 526.2h0M385.2 526.4h0M382.4 526.2h0M384.4 526.3h0M367.4 526.1h0M388.9 526.3h0M369.4 526.4h0M381.5 526.0h0M378.7 526.7h0M384.3 526.7h0M382.9 526.9h0M360.7 526.6h0M383.5 526.9h0M377.0 526.9h0M399.7 526.7h0M382.9 526.6h0M377.8 526.7h0M374.8 526.7h0M379.7 526.8h0M387.6 526.4h0M385.3 527.2h0M373.5 527.0h0M400.7 527.4h0M388.0 527.1h0M371.1 527.0h0M376.2 527.1h0M369.1 527.3h0M380.7 527.1h0M385.5 527.3h0M372.6 527.0h0M367.4 527.3h0M371.8 527.4h0M391.1 527.8h0M387.4 527.8h0M369.9 527.5h0M384.0 527.9h0M376.8 527.6h0M386.7 527.8h0M374.8 527.5h0M386.9 527.6h0M377.7 527.8h0M380.5 527.8h0M377.9 527.7h0M374.1 527.4h0M369.5 528.4h0M361.5 528.1h0M382.4 528.3h0M383.2 528.3h0M394.7 528.3h0M371.0 528.1h0M373.5 528.2h0M383.9 527.9h0M382.9 528.3h0M382.9 528.2h0M381.5 528.3h0M375.5 528.1h0M393.6 528.7h0M363.8 528.6h0M388.2 528.7h0M392.2 528.7h0M375.2 528.5h0M390.0 528.6h0M385.6 528.8h0M384.1 528.8h0M374.4 528.7h0M387.0 528.5h0M376.7 528.4h0M374.2 528.4h0M377.1 529.2h0M381.3 529.1h0M392.0 529.0h0M388.4 529.1h0M372.6 529.0h0M390.2 528.9h0M377.8 529.0h0M368.1 529.3h0M382.0 529.2h0M369.9 529.0h0M383.6 528.9h0M383.8 529.1h0M382.8 529.7h0M385.9 529.9h0M379.0 529.7h0M373.1 529.5h0M370.8 529.5h0M386.6 529.6h0M377.4 529.5h0M379.9 529.7h0M386.1 529.9h0M382.2 529.5h0M377.1 529.7h0M400.6 529.5h0M379.5 530.1h0M383.0 530.3h0M386.4 530.0h0M363.0 530.3h0M384.9 529.9h0M371.9 530.1h0M363.6 530.0h0M375.4 530.4h0M386.4 530.0h0M380.2 530.0h0M389.8 530.2h0M371.4 530.2h0M398.8 530.6h0M377.7 530.6h0M372.7 530.8h0M388.3 530.5h0M359.8 530.6h0M365.5 530.8h0M384.0 530.8h0M386.2 530.9h0M365.3 530.7h0M384.2 530.9h0M381.0 530.7h0M379.4 530.6h0M388.0 531.1h0M374.9 531.1h0M376.2 531.1h0M375.8 530.9h0M392.8 531.3h0M388.3 531.0h0M379.4 531.3h0M382.6 531.1h0M376.6 531.2h0M385.6 531.2h0M376.9 531.0h0M368.1 531.3h0M383.8 531.8h0M377.6 531.8h0M382.1 531.4h0M363.7 531.5h0M382.4 531.8h0M381.8 531.7h0M384.6 531.5h0M373.3 531.5h0M388.9 531.5h0M395.0 531.5h0M375.4 531.4h0M368.8 531.6h0M383.8 532.3h0M373.1 532.0h0M383.2 532.4h0M369.6 532.1h0M374.1 532.1h0M353.4 532.4h0M383.6 532.2h0M380.9 532.3h0M374.7 532.4h0M373.6 532.0h0M365.6 532.1h0M387.8 532.4h0M387.9 532.8h0M379.4 532.6h0M384.1 532.7h0M370.7 532.5h0M384.1 532.5h0M376.1 532.9h0M376.2 532.8h0M375.5 532.6h0M381.6 532.4h0M362.8 532.9h0M382.0 532.6h0M386.9 532.8h0M385.4 533.3h0M379.4 533.1h0M389.3 533.2h0M395.9 532.9h0M371.2 533.1h0M369.4 533.3h0M389.1 533.2h0M361.0 533.3h0M379.5 533.3h0M361.6 532.9h0M389.1 533.0h0M385.4 533.4h0M386.1 533.5h0M374.2 533.6h0M380.9 533.8h0M375.8 533.6h0M388.2 533.4h0M383.2 533.6h0M385.7 533.7h0M375.2 533.6h0M391.4 533.7h0M378.6 533.7h0M373.2 533.4h0M395.0 533.5h0M380.9 534.4h0M382.8 534.1h0M383.9 534.0h0M381.3 534.0h0M371.1 534.2h0M392.5 534.0h0M371.4 534.0h0M378.6 533.9h0M341.1 534.3h0M373.5 533.9h0M393.1 534.1h0M370.8 534.0h0M377.8 534.9h0M389.8 534.5h0M369.9 534.7h0M386.8 534.6h0M366.0 534.5h0M397.9 534.8h0M380.5 534.8h0M385.6 534.6h0M383.2 534.5h0M381.4 534.9h0M385.1 534.5h0M373.4 534.8h0M376.8 534.9h0M378.0 535.3h0M393.1 534.9h0M375.6 535.2h0M381.0 535.3h0M396.1 535.0h0M379.7 534.9h0M381.3 535.0h0M378.0 535.3h0M379.5 534.9h0M376.1 535.2h0M379.1 535.4h0M383.3 535.7h0M385.5 535.5h0M384.7 535.9h0M377.6 535.7h0M384.6 535.7h0M379.5 535.7h0M382.0 535.5h0M328.0 535.7h0M377.5 535.8h0M380.1 535.5h0M392.5 535.8h0M385.4 535.4h0M376.1 536.0h0M384.7 536.1h0M379.9 536.4h0M377.1 535.9h0M387.9 536.1h0M377.5 536.1h0M388.2 536.1h0M379.6 536.0h0M382.6 536.2h0M379.8 536.0h0M392.5 536.3h0M390.4 536.0h0M382.2 536.4h0M384.7 536.6h0M380.5 536.6h0M378.9 536.5h0M378.2 536.8h0M371.5 536.5h0M387.2 536.5h0M386.4 536.8h0M382.5 536.5h0M386.7 536.7h0M374.2 536.7h0M382.0 536.4h0M382.0 537.2h0M387.6 537.0h0M391.1 537.2h0M379.2 537.1h0M380.1 537.4h0M377.3 537.2h0M371.1 537.4h0M393.8 537.0h0M379.5 537.2h0M375.7 537.1h0M385.3 537.1h0M381.2 537.1h0M364.7 537.7h0M377.0 537.8h0M398.9 537.7h0M394.9 537.6h0M392.1 537.9h0M388.4 537.8h0M395.4 537.4h0M391.5 537.6h0M382.6 537.6h0M401.8 537.6h0M381.0 537.5h0M388.4 537.6h0M385.3 538.1h0M388.9 538.3h0M383.0 538.3h0M380.1 537.9h0M380.6 538.3h0M389.1 538.1h0M393.0 538.4h0M393.5 538.3h0M399.5 538.2h0M388.5 538.3h0M384.0 538.0h0M389.0 538.2h0M390.1 538.9h0M378.5 538.9h0M385.3 538.7h0M387.3 538.5h0M382.4 538.5h0M390.7 538.4h0M379.8 538.4h0M381.4 538.5h0M388.4 538.4h0M372.6 538.5h0M370.9 538.9h0M365.1 538.5h0M388.6 539.0h0M397.0 539.1h0M392.1 539.2h0M377.5 539.2h0M392.6 539.0h0M383.6 539.2h0M386.1 539.4h0M379.7 539.2h0M384.2 539.4h0M389.1 539.0h0M381.5 539.4h0M384.4 539.3h0M376.9 539.5h0M375.5 539.6h0M381.3 539.4h0M383.3 539.9h0M391.7 539.7h0M385.6 539.5h0M378.6 539.4h0M383.2 539.9h0M388.8 539.9h0M390.2 539.5h0M381.7 539.7h0M378.2 539.6h0M386.7 540.2h0M395.3 540.3h0M392.7 540.0h0M400.3 539.9h0M378.5 539.9h0M380.4 540.1h0M401.8 540.1h0M393.9 540.0h0M401.0 540.3h0M390.3 540.0h0M367.7 540.3h0M390.1 540.3h0M386.7 540.9h0M398.9 540.4h0M385.7 540.7h0M381.1 540.5h0M385.0 540.5h0M390.0 540.8h0M381.9 540.5h0M395.8 540.5h0M391.5 540.6h0M387.0 540.4h0M376.3 540.8h0M388.9 540.5h0M389.7 541.0h0M395.1 541.3h0M393.1 541.3h0M396.5 541.2h0M384.1 541.3h0M379.6 541.4h0M385.3 541.0h0M390.9 541.0h0M384.8 541.3h0M388.8 541.2h0M396.7 541.1h0M392.9 540.9h0M409.0 541.7h0M386.7 541.8h0M389.8 541.6h0M386.2 541.8h0M397.5 541.8h0M381.3 541.5h0M393.4 541.6h0M390.5 541.8h0M393.9 541.6h0M390.1 541.5h0M377.0 541.8h0M393.0 541.4h0M381.3 542.4h0M399.5 542.3h0M390.8 541.9h0M396.0 541.9h0M397.1 542.3h0M401.7 542.2h0M378.7 542.0h0M382.3 542.3h0M392.1 542.3h0M397.2 541.9h0M391.6 542.3h0M392.9 542.3h0M383.7 542.8h0M402.8 542.8h0M398.4 542.9h0M398.8 542.8h0M392.6 542.7h0M373.7 542.5h0M385.7 542.8h0M379.0 542.5h0M385.8 542.6h0M391.6 542.8h0M395.4 542.6h0M393.7 542.8h0M398.9 543.3h0M392.0 543.2h0M387.0 543.3h0M403.7 543.2h0M397.9 543.0h0M401.0 542.9h0M382.6 543.1h0M386.2 543.1h0M385.4 543.4h0M393.6 543.1h0M385.9 543.3h0M389.5 543.4h0M389.0 543.8h0M384.7 543.7h0M396.3 543.8h0M386.5 543.4h0M373.3 543.6h0M397.8 543.5h0M383.0 543.8h0M391.3 543.8h0M385.6 543.8h0M395.9 543.8h0M392.7 543.4h0M432.4 543.5h0M392.1 544.1h0M389.4 544.0h0M393.9 544.4h0M378.6 544.2h0M397.5 544.0h0M394.5 544.1h0M367.9 544.3h0M382.6 544.2h0M398.1 544.0h0M384.7 544.1h0M397.5 544.2h0M390.2 544.3h0M378.2 544.6h0M381.7 544.4h0M403.2 544.6h0M417.2 544.8h0M407.3 544.5h0M398.0 544.5h0M389.1 544.8h0M392.3 544.6h0M402.1 544.5h0M386.6 544.5h0M391.3 544.5h0M396.9 544.9h0M399.5 545.2h0M381.0 544.9h0M405.6 544.9h0M393.2 545.2h0M385.5 545.2h0M390.8 545.2h0M396.0 545.0h0M392.9 545.3h0M407.0 545.2h0M390.0 545.3h0M389.4 545.1h0M405.1 545.1h0M399.1 545.5h0M390.4 545.5h0M394.4 545.5h0M399.1 545.7h0M404.8 545.5h0M401.5 545.7h0M397.3 545.7h0M387.8 545.5h0M382.3 545.6h0M389.6 545.8h0M394.7 545.7h0M401.1 545.6h0M386.6 546.3h0M380.4 546.3h0M416.2 546.3h0M403.9 546.0h0M391.5 546.0h0M398.9 546.1h0M403.8 546.3h0M403.2 546.0h0M404.2 546.2h0M381.0 546.3h0M403.4 546.4h0M380.6 546.3h0M391.9 546.6h0M385.9 546.6h0M382.1 546.8h0M396.4 546.6h0M407.3 546.7h0M384.3 546.5h0M403.0 546.8h0M393.1 546.6h0M382.0 546.6h0M402.0 546.6h0M394.2 546.8h0M399.9 546.4h0M386.8 547.1h0M387.5 546.9h0M389.4 547.4h0M397.3 547.0h0M395.9 547.3h0M393.1 547.0h0M382.3 546.9h0M406.9 547.2h0M382.8 547.3h0M406.5 547.0h0M385.5 547.1h0M399.4 547.3h0M392.1 547.7h0M380.2 547.5h0M399.6 547.6h0M390.6 547.8h0M392.5 547.7h0M388.6 547.4h0M379.2 547.8h0M393.9 547.5h0M393.7 547.8h0M386.9 547.5h0M400.8 547.4h0M393.0 547.6h0M409.9 548.0h0M387.9 548.1h0M377.4 548.2h0M381.9 548.2h0M379.5 548.0h0M381.5 547.9h0M395.3 547.9h0M383.9 548.1h0M393.5 548.3h0M383.4 548.0h0M395.5 548.2h0M408.7 548.3h0M391.0 548.7h0M409.3 548.8h0M384.0 548.8h0M390.8 548.6h0M391.6 548.7h0M375.9 548.6h0M378.4 548.8h0M397.8 548.7h0M405.9 548.6h0M387.6 548.5h0M382.2 548.5h0M397.9 548.6h0M389.5 549.0h0M401.0 549.2h0M396.9 548.9h0M387.2 549.3h0M395.6 549.4h0M385.5 549.4h0M386.0 549.4h0M376.3 549.2h0M388.5 549.4h0M384.6 549.3h0M396.4 549.4h0M393.5 549.1h0M397.2 549.5h0M378.5 549.7h0M385.7 549.5h0M392.1 549.8h0M386.0 549.5h0M388.5 549.9h0M376.1 549.6h0M396.3 549.6h0M383.1 549.8h0M379.6 549.5h0M391.0 549.7h0M392.4 549.4h0M389.9 550.0h0M371.0 550.0h0M380.0 549.9h0M382.2 550.0h0M385.1 549.9h0M381.8 550.2h0M374.9 550.2h0M380.9 550.0h0M387.2 550.3h0M377.3 550.0h0M389.6 550.3h0M393.7 549.9h0M364.1 550.8h0M380.8 550.5h0M382.7 550.8h0M379.9 550.4h0M381.9 550.7h0M376.0 550.7h0M391.3 550.5h0M377.8 550.5h0M400.4 550.7h0M383.1 550.6h0M372.7 550.8h0M389.1 550.5h0M377.1 551.1h0M381.7 551.3h0M388.8 551.3h0M378.2 551.2h0M396.6 551.3h0M377.6 551.3h0M379.8 551.0h0M383.7 551.3h0M377.3 551.1h0M383.6 551.0h0M389.7 551.1h0M373.2 551.2h0M383.2 551.8h0M381.8 551.9h0M385.4 551.7h0M392.7 551.5h0M378.3 551.7h0M378.1 551.7h0M381.5 551.8h0M382.5 551.5h0M382.9 551.6h0M375.5 551.9h0M394.6 551.7h0M380.8 551.8h0M382.1 552.3h0M383.6 552.4h0M383.3 552.2h0M377.3 552.3h0M385.4 552.1h0M383.7 552.1h0M390.6 552.3h0M391.4 552.3h0M371.3 552.2h0M382.0 552.2h0M378.7 552.3h0M389.4 552.2h0M375.8 552.7h0M386.1 552.9h0M384.0 552.9h0M382.2 552.5h0M378.1 552.7h0M378.9 552.8h0M376.7 552.5h0M381.9 552.6h0M358.4 552.9h0M398.0 552.7h0M381.5 552.9h0M387.4 552.7h0M377.0 552.9h0M394.2 553.2h0M394.5 553.0h0M394.0 553.3h0M389.4 553.3h0M373.5 553.1h0M388.8 553.0h0M368.5 553.4h0M379.5 553.0h0M376.1 553.1h0M379.4 553.3h0M369.5 553.4h0M395.0 553.9h0M366.7 553.8h0M371.0 553.8h0M375.5 553.7h0M386.1 553.5h0M378.6 553.7h0M374.8 553.9h0M384.0 553.5h0M374.0 553.5h0M384.1 553.5h0M382.0 553.6h0M372.4 553.6h0M369.7 554.0h0M370.9 554.0h0M384.2 553.9h0M378.3 554.0h0M375.3 554.3h0M378.7 554.3h0M372.2 553.9h0M359.4 554.2h0M367.6 554.3h0M386.0 554.3h0M371.2 554.1h0M382.0 554.2h0M377.8 554.8h0M379.3 554.5h0M387.6 554.8h0M378.0 554.5h0M381.0 554.7h0M375.5 554.5h0M368.2 554.5h0M366.0 554.9h0M372.0 554.9h0M375.1 554.6h0M382.3 554.7h0M370.7 554.6h0M388.0 555.0h0M387.5 555.3h0M369.3 555.3h0M375.1 555.0h0M345.0 555.2h0M376.2 555.1h0M378.5 555.0h0M380.0 555.2h0M378.8 555.2h0M377.7 555.3h0M384.8 554.9h0M380.1 555.2h0M371.5 555.8h0M371.7 555.8h0M372.3 555.7h0M383.4 555.5h0M368.6 555.8h0M378.0 555.8h0M384.2 555.4h0M365.4 555.7h0M368.3 555.5h0M385.9 555.8h0M378.1 555.4h0M381.6 555.7h0M374.2 556.3h0M358.0 556.1h0M376.6 556.0h0M386.6 555.9h0M360.7 556.4h0M370.8 556.3h0M368.3 556.0h0M365.1 556.0h0M383.3 556.1h0M377.7 555.9h0M373.5 556.2h0M374.6 556.2h0M382.0 556.8h0M363.4 556.8h0M374.6 556.7h0M378.5 556.8h0M365.8 556.5h0M374.0 556.7h0M388.8 556.4h0M362.9 556.5h0M376.6 556.6h0M376.4 556.7h0M368.0 556.8h0M374.9 556.8h0M375.0 557.2h0M371.0 557.2h0M371.8 557.4h0M383.8 557.0h0M355.9 556.9h0M366.3 557.1h0M365.1 557.0h0M370.2 557.0h0M376.1 557.4h0M361.7 556.9h0M359.2 557.0h0M367.2 557.3h0M371.2 557.6h0M368.0 557.6h0M385.4 557.5h0M372.4 557.7h0M365.2 557.6h0M385.8 557.8h0M377.1 557.7h0M362.8 557.6h0M385.0 557.9h0M390.7 557.5h0M384.3 557.4h0M381.7 557.4h0M374.0 558.1h0M378.4 557.9h0M375.8 558.4h0M382.9 557.9h0M374.3 558.2h0M370.1 558.0h0M365.9 558.4h0M388.7 558.4h0M363.7 558.0h0M389.5 558.4h0M381.3 558.2h0M372.1 558.2h0M365.6 558.5h0M406.1 558.9h0M378.0 558.9h0M370.3 558.5h0M386.5 558.5h0M368.8 558.5h0M374.9 558.5h0M388.6 558.8h0M375.8 558.9h0M379.2 558.5h0M380.2 558.9h0M376.6 558.7h0M371.0 559.1h0M380.2 559.1h0M374.1 559.2h0M370.2 559.1h0M388.2 558.9h0M379.4 558.9h0M383.2 559.1h0M380.8 559.4h0M367.8 559.1h0M378.4 559.0h0M360.7 559.3h0M377.6 558.9h0M363.4 559.4h0M364.4 559.6h0M364.3 559.5h0M367.2 559.7h0M387.4 559.6h0M378.0 559.6h0M369.1 559.9h0M388.5 559.8h0M387.8 559.8h0M379.9 559.6h0M373.3 559.7h0M379.4 559.6h0M382.4 560.3h0M375.6 560.1h0M376.8 560.2h0M367.4 560.0h0M385.4 560.3h0M368.4 560.1h0M376.8 560.0h0M378.7 560.3h0M360.6 560.1h0M374.2 560.2h0M373.9 560.2h0M366.0 559.9h0M392.3 560.7h0M366.0 560.4h0M375.4 560.9h0M361.4 560.4h0M365.1 560.4h0M370.3 560.7h0M386.1 560.7h0M367.1 560.6h0M376.3 560.8h0M375.1 560.4h0M374.5 560.8h0M366.0 560.6h0M367.1 560.9h0M364.9 561.1h0M373.6 561.0h0M380.5 561.3h0M377.5 561.0h0M379.6 561.4h0M377.8 561.2h0M362.9 561.0h0M377.5 561.1h0M364.2 561.0h0M356.0 561.3h0M369.9 561.1h0M361.0 561.9h0M378.2 561.5h0M360.7 561.5h0M366.9 561.6h0M366.2 561.7h0M385.6 561.5h0M364.9 561.9h0M374.5 561.5h0M388.5 561.6h0M383.5 561.6h0M362.2 561.7h0M371.7 561.7h0M390.8 562.4h0M370.6 562.3h0M374.8 562.3h0M370.2 562.1h0M366.9 562.2h0M368.2 562.1h0M382.5 562.0h0M387.7 562.2h0M376.8 562.4h0M362.2 562.0h0M372.5 562.2h0M370.1 562.2h0M380.2 562.6h0M367.5 562.6h0M385.8 562.7h0M371.5 562.5h0M375.7 562.9h0M371.0 562.4h0M368.2 562.8h0M370.4 562.8h0M374.9 562.8h0M374.8 562.8h0M379.9 562.8h0M368.5 562.9h0M378.0 563.2h0M365.6 563.3h0M379.2 563.4h0M371.7 563.3h0M374.6 563.3h0M383.9 563.0h0M367.2 563.0h0M377.4 563.0h0M382.5 563.3h0M369.2 563.1h0M377.6 563.4h0M382.7 563.3h0M373.5 563.8h0M367.7 563.4h0M379.3 563.6h0M376.8 563.4h0M391.0 563.7h0M384.7 563.9h0M366.8 563.7h0M365.5 563.6h0M370.6 563.6h0M370.4 563.5h0M372.6 563.6h0M373.0 563.4h0M375.9 564.3h0M361.2 563.9h0M370.9 564.2h0M372.0 564.0h0M380.6 563.9h0M380.3 564.1h0M390.2 564.4h0M386.6 564.2h0M381.9 564.3h0M390.3 564.0h0M377.1 563.9h0M370.1 564.3h0M388.4 564.8h0M385.7 564.8h0M372.8 564.4h0M380.4 564.5h0M381.3 564.9h0M395.1 564.4h0M381.9 564.4h0M375.0 564.6h0M365.3 564.9h0M386.8 564.8h0M382.7 564.8h0M383.2 564.6h0M379.9 565.0h0M374.1 565.1h0M377.9 565.3h0M374.4 565.0h0M381.3 565.1h0M385.1 565.2h0M374.1 565.3h0M386.6 565.3h0M388.3 565.3h0M376.7 565.0h0M388.2 565.1h0M381.3 565.3h0M382.5 565.8h0M383.6 565.5h0M371.1 565.5h0M385.5 565.8h0M379.2 565.5h0M375.7 565.6h0M384.8 565.6h0M382.3 565.9h0M362.0 565.6h0M365.6 565.8h0M387.7 565.6h0M382.5 565.5h0M382.8 566.0h0M384.4 566.4h0M371.2 566.2h0M363.8 566.3h0M367.4 565.9h0M382.8 566.3h0M363.3 566.2h0M382.0 566.3h0M379.0 566.1h0M379.1 566.3h0M369.6 566.2h0M370.6 566.1h0M390.4 566.5h0M377.7 566.8h0M381.5 566.9h0M378.3 566.5h0M379.4 566.6h0M385.0 566.5h0M363.9 566.9h0M384.8 566.8h0M377.0 566.8h0M369.3 566.6h0M379.5 566.6h0M383.7 566.6h0M382.4 567.3h0M376.0 567.0h0M395.6 567.1h0M377.9 567.1h0M370.2 567.2h0M383.1 567.0h0M396.2 567.1h0M365.2 567.1h0M382.7 566.9h0M381.9 567.3h0M382.1 567.1h0M371.7 567.1h0M364.6 567.5h0M369.1 567.5h0M390.2 567.4h0M382.0 567.4h0M376.1 567.8h0M366.2 567.6h0M382.9 567.6h0M374.9 567.5h0M389.3 567.7h0M374.9 567.4h0M349.3 567.8h0M379.5 567.5h0M362.5 568.3h0M375.5 568.4h0M370.2 568.0h0M380.4 567.9h0M380.9 568.1h0M382.7 567.9h0M383.2 568.3h0M385.4 568.4h0M378.6 568.2h0M357.3 568.0h0M388.5 568.1h0M390.3 568.3h0M366.9 568.4h0M374.5 568.7h0M387.3 568.4h0M371.3 568.5h0M366.5 568.9h0M343.6 568.4h0M386.6 568.8h0M389.8 568.8h0M388.0 568.6h0M380.1 568.5h0M376.0 568.7h0M376.6 568.6h0M375.5 568.9h0M377.6 569.2h0M379.9 569.0h0M379.2 569.4h0M346.4 569.3h0M387.7 569.1h0M376.5 569.0h0M379.3 569.1h0M387.9 569.0h0M397.4 569.3h0M387.4 569.0h0M381.6 569.2h0M385.1 569.5h0M389.0 569.4h0M355.7 569.7h0M356.9 569.7h0M390.2 569.5h0M376.5 569.7h0M338.7 569.5h0M383.0 569.8h0M377.4 569.7h0M377.8 569.5h0M375.2 569.8h0M379.6 569.8h0M371.7 570.1h0M377.3 570.1h0M372.6 570.4h0M390.4 570.1h0M378.7 570.4h0M377.5 570.2h0M378.1 570.1h0M374.3 569.9h0M388.8 570.2h0M371.4 570.0h0M373.4 570.1h0M389.8 570.3h0M371.9 570.7h0M382.3 570.8h0M378.3 570.5h0M374.8 570.5h0M381.4 570.4h0M370.9 570.9h0M379.2 570.8h0M383.3 570.8h0M397.7 570.7h0M398.9 570.7h0M371.2 570.5h0M379.2 570.5h0M380.0 571.2h0M365.7 571.1h0M394.5 571.4h0M375.7 571.3h0M382.7 570.9h0M374.2 571.0h0M392.7 571.3h0M376.5 570.9h0M371.6 571.0h0M373.2 571.0h0M374.3 571.1h0M387.1 571.0h0M365.9 571.5h0M398.5 571.8h0M370.6 571.5h0M384.9 571.7h0M377.7 571.8h0M382.2 571.7h0M372.1 571.5h0M389.8 571.5h0M384.5 571.7h0M380.3 571.5h0M363.7 571.9h0M394.4 571.9h0M372.3 572.0h0M380.8 572.4h0M372.9 572.2h0M395.5 572.1h0M387.4 572.0h0M389.8 572.3h0M370.9 572.1h0M399.1 572.1h0M367.4 572.0h0M379.7 572.4h0M389.0 572.0h0M389.5 571.9h0M391.5 572.9h0M376.6 572.8h0M379.4 572.5h0M385.4 572.8h0M376.7 572.5h0M389.6 572.8h0M374.7 572.5h0M381.7 572.5h0M371.4 572.7h0M377.8 572.8h0M383.4 572.4h0M381.8 572.6h0M381.7 573.3h0M386.8 573.3h0M387.1 573.1h0M374.9 573.0h0M390.0 572.9h0M378.2 573.0h0M372.8 573.1h0M377.7 573.3h0M406.5 573.0h0M393.8 573.3h0M382.7 573.2h0M377.1 573.0h0M376.9 573.6h0M373.5 573.8h0M386.1 573.4h0M388.6 573.7h0M396.7 573.6h0M360.6 573.7h0M377.7 573.7h0M374.6 573.6h0M359.0 573.4h0M379.6 573.7h0M372.3 573.9h0M384.4 573.5h0M379.6 574.4h0M409.8 573.9h0M378.0 574.3h0M372.4 574.0h0M387.7 574.2h0M386.4 574.1h0M377.1 574.1h0M369.0 574.3h0M388.7 574.4h0M379.9 574.3h0M384.7 573.9h0M386.4 574.3h0M380.7 574.9h0M387.3 574.8h0M375.3 574.7h0M379.0 574.5h0M380.4 574.5h0M389.6 574.5h0M377.6 574.6h0M382.4 574.5h0M392.4 574.5h0M392.7 574.7h0M382.1 574.5h0M374.9 574.7h0M378.0 575.1h0M377.4 574.9h0M377.6 575.1h0M395.6 574.9h0M379.6 574.9h0M397.7 575.2h0M396.8 575.0h0M374.3 575.2h0M387.5 575.1h0M385.0 575.2h0M387.1 575.1h0M383.0 575.3h0M388.3 575.5h0M386.0 575.6h0M392.2 575.7h0M381.2 575.6h0M389.5 575.6h0M368.4 575.8h0M385.5 575.4h0M390.0 575.6h0M382.3 575.9h0M397.9 575.5h0M397.5 575.8h0M379.4 575.6h0M382.8 576.1h0M367.4 576.3h0M437.6 575.9h0M357.2 575.9h0M378.7 576.3h0M377.7 576.1h0M386.0 575.9h0M382.9 576.0h0M369.9 576.0h0M384.8 575.9h0M389.0 576.1h0M377.4 576.0h0M392.0 576.9h0M383.0 576.9h0M395.7 576.8h0M383.5 576.6h0M397.3 576.5h0M372.4 576.4h0M389.0 576.7h0M374.8 576.8h0M393.5 576.7h0M393.9 576.5h0M387.8 576.8h0M382.6 576.4h0M384.2 577.1h0M382.8 577.1h0M392.5 577.4h0M399.9 577.3h0M390.1 577.4h0M402.6 577.0h0M387.1 577.2h0M380.5 577.3h0M387.5 577.0h0M404.5 577.0h0M387.7 577.3h0M390.9 577.0h0M378.4 577.6h0M403.0 577.6h0M365.6 577.7h0M390.0 577.6h0M396.0 577.7h0M385.4 577.8h0M391.7 577.7h0M400.3 577.8h0M397.7 577.8h0M399.1 577.9h0M375.3 577.6h0M381.0 577.8h0M383.6 578.1h0M379.5 578.1h0M394.3 578.1h0M388.4 578.2h0M387.3 578.2h0M388.2 578.4h0M374.5 578.1h0M399.8 578.1h0M380.7 578.0h0M379.5 578.3h0M381.0 578.2h0M383.8 578.0h0M392.4 578.6h0M380.0 578.8h0M385.6 578.8h0M375.2 578.7h0M396.2 578.9h0M398.6 578.7h0M380.4 578.9h0M385.2 578.6h0M421.6 578.5h0M382.3 578.5h0M385.3 578.6h0M383.8 578.4h0M373.7 579.4h0M409.9 579.0h0M379.0 579.1h0M382.7 579.0h0M369.8 579.4h0M399.7 579.0h0M380.4 579.2h0M379.5 578.9h0M383.3 579.4h0M372.6 579.4h0M376.8 579.1h0M379.5 579.0h0M372.0 579.8h0M381.6 579.6h0M385.3 579.4h0M382.8 579.8h0M376.8 579.6h0M381.8 579.5h0M378.4 579.5h0M370.4 579.8h0M373.9 579.8h0M401.1 579.7h0M390.9 579.9h0M384.9 579.6h0M387.4 580.2h0M379.4 580.1h0M391.0 580.4h0M369.6 580.3h0M386.2 580.1h0M381.7 579.9h0M343.8 580.1h0M377.6 580.3h0M393.5 580.3h0M382.6 580.0h0M389.4 580.0h0M379.1 580.0h0M391.5 580.6h0M384.0 580.6h0M372.4 580.7h0M380.8 580.6h0M373.6 580.4h0M383.7 580.7h0M385.7 580.9h0M372.4 580.6h0M368.3 580.8h0M392.0 580.6h0M377.8 580.5h0M371.8 580.8h0M384.0 581.2h0M386.1 581.1h0M371.4 581.4h0M378.7 581.2h0M379.5 581.0h0M396.0 581.0h0M393.7 580.9h0M382.2 581.3h0M377.5 581.0h0M375.6 581.0h0M386.3 581.0h0M372.3 581.4h0M378.2 581.8h0M374.1 581.8h0M384.2 581.6h0M394.4 581.6h0M372.3 581.4h0M379.5 581.6h0M385.1 581.8h0M380.3 581.5h0M398.0 581.4h0M374.9 581.9h0M392.5 581.4h0M369.4 581.7h0M379.4 582.3h0M382.2 582.2h0M376.9 582.4h0M391.3 582.3h0M387.2 582.2h0M380.2 582.2h0M371.8 582.1h0M379.5 582.1h0M390.1 582.2h0M384.2 581.9h0M396.6 582.0h0M388.1 582.1h0M381.4 582.5h0M312.6 582.7h0M376.8 582.7h0M382.4 582.7h0M398.5 582.8h0M380.8 582.5h0M382.9 582.5h0M376.8 582.6h0M372.2 582.8h0M387.7 582.9h0M383.9 582.6h0M375.9 582.8h0M377.9 583.3h0M376.7 583.2h0M385.0 583.0h0M367.6 583.0h0M375.3 583.0h0M371.4 582.9h0M371.9 583.1h0M384.9 583.3h0M371.2 583.2h0M393.4 583.2h0M382.9 582.9h0M386.5 583.1h0M379.8 583.7h0M373.5 583.5h0M366.9 583.7h0M381.5 583.5h0M390.8 583.6h0M380.0 583.7h0M360.2 583.8h0M376.7 583.5h0M375.9 583.6h0M376.3 583.9h0M386.6 583.5h0M377.4 583.4h0M394.6 584.3h0M370.8 584.1h0M381.2 584.0h0M376.2 584.1h0M370.6 584.0h0M392.7 584.3h0M369.5 584.4h0M367.8 584.2h0M381.8 584.4h0M374.2 584.3h0M366.1 584.2h0M376.5 584.3h0M386.2 584.5h0M357.4 584.6h0M367.9 584.7h0M376.9 584.5h0M375.6 584.6h0M369.4 584.7h0M362.0 584.9h0M389.5 584.9h0M382.3 584.7h0M364.7 584.6h0M371.1 584.8h0M364.2 584.4h0M385.2 585.0h0M368.3 585.1h0M381.0 585.4h0M379.6 585.2h0M385.8 585.1h0M366.8 585.1h0M366.8 585.2h0M377.2 585.1h0M368.8 585.2h0M371.8 585.0h0M372.9 585.0h0M381.0 585.1h0M386.8 585.7h0M359.7 585.8h0M366.8 585.4h0M382.0 585.6h0M375.0 585.8h0M358.7 585.6h0M355.7 585.7h0M379.5 585.7h0M378.9 585.4h0M390.4 585.8h0M377.9 585.8h0M375.4 585.9h0M364.3 586.2h0M381.3 586.3h0M386.9 586.0h0M359.6 586.3h0M369.0 586.4h0M372.2 586.0h0M374.6 586.4h0M382.7 586.2h0M371.8 586.1h0M376.1 586.2h0M379.5 586.3h0M375.2 586.3h0M376.9 586.6h0M381.1 586.5h0M351.9 586.9h0M365.8 586.8h0M389.1 586.7h0M371.2 586.4h0M390.1 586.5h0M366.6 586.8h0M393.3 586.7h0M361.9 586.8h0M375.6 586.9h0M370.1 586.4h0M383.2 587.2h0M384.6 587.0h0M374.6 587.0h0M370.2 587.2h0M372.2 587.2h0M378.3 587.1h0M397.6 587.1h0M372.0 587.0h0M372.7 587.1h0M381.0 587.3h0M366.4 587.2h0M367.8 587.3h0M367.6 587.7h0M371.1 587.7h0M369.7 587.6h0M381.7 587.6h0M373.4 587.6h0M375.2 587.5h0M362.6 587.7h0M371.1 587.8h0M375.5 587.7h0M376.4 587.5h0M375.3 587.5h0M371.0 587.9h0M364.4 588.2h0M369.5 588.4h0M357.9 588.1h0M371.7 588.1h0M348.9 588.3h0M363.5 587.9h0M384.7 588.2h0M369.6 588.0h0M368.7 588.0h0M376.7 588.4h0M373.5 588.0h0M360.1 588.0h0M358.4 588.7h0M373.3 588.8h0M369.6 588.7h0M380.2 588.6h0M373.0 588.5h0M367.6 588.7h0M378.3 588.8h0M370.6 588.8h0M361.8 588.7h0M381.6 588.6h0M368.7 588.4h0M369.0 588.7h0M380.7 589.3h0M361.7 589.0h0M388.6 589.2h0M375.4 589.4h0M387.7 589.0h0M374.2 589.4h0M374.3 589.4h0M360.5 589.3h0M359.9 589.1h0M379.7 589.4h0M376.5 589.0h0M372.0 589.3h0M366.2 589.8h0M366.4 589.4h0M362.0 589.4h0M375.2 589.6h0M363.6 589.8h0M368.7 589.4h0M380.3 589.5h0M362.6 589.8h0M349.7 589.6h0M392.0 589.6h0M363.6 589.4h0M379.2 589.8h0M398.4 590.3h0M361.5 590.4h0M363.7 590.2h0M374.5 590.0h0M380.6 590.3h0M367.2 590.3h0M368.5 590.2h0M350.9 590.1h0M382.1 590.2h0M376.9 589.9h0M373.4 590.1h0M378.3 590.4h0M383.7 590.7h0M374.9 590.7h0M365.2 590.4h0M374.9 590.5h0M378.8 590.7h0M376.7 590.6h0M367.7 590.7h0M369.2 590.8h0M366.0 590.7h0M373.9 590.7h0M374.1 590.8h0M369.2 590.6h0M378.2 591.0h0M378.3 591.4h0M373.2 590.9h0M365.7 591.3h0M364.6 591.1h0M373.4 590.9h0M363.6 591.3h0M366.6 591.4h0M369.1 591.0h0M366.7 591.1h0M369.4 591.0h0M351.2 590.9h0M374.5 591.7h0M366.6 591.9h0M372.3 591.8h0M376.8 591.6h0M369.8 591.7h0M359.8 591.9h0M364.4 591.7h0M360.7 591.8h0M382.7 591.6h0M367.5 591.4h0M374.1 591.6h0M363.0 591.5h0M359.1 592.0h0M364.2 592.0h0M357.0 592.1h0M380.4 592.3h0M358.5 592.3h0M371.7 592.0h0M361.7 592.2h0M365.1 592.4h0M350.1 592.0h0M373.4 592.1h0M358.6 592.0h0M360.6 591.9h0M365.2 592.9h0M368.3 592.6h0M373.0 592.7h0M352.3 592.9h0M368.6 592.8h0M365.0 592.6h0M369.9 592.6h0M366.2 592.7h0M342.6 592.6h0M370.6 592.8h0M360.1 592.9h0M374.4 592.7h0M361.3 593.2h0M370.5 593.1h0M364.8 593.2h0M360.6 593.0h0M373.7 593.4h0M366.2 593.4h0M352.4 592.9h0M370.0 593.2h0M363.9 593.3h0M390.5 593.2h0M369.3 593.4h0M378.8 593.2h0M360.5 593.6h0M358.9 593.6h0M356.3 593.8h0M359.5 593.5h0M374.5 593.5h0M370.4 593.6h0M364.6 593.8h0M349.9 593.7h0M360.5 593.7h0M370.2 593.9h0M372.7 593.6h0M370.2 593.5h0M364.5 594.3h0M356.5 594.2h0M371.5 594.4h0M377.4 593.9h0M365.1 594.4h0M376.5 594.1h0M372.3 594.4h0M370.1 594.3h0M374.8 594.3h0M369.9 594.3h0M366.4 594.2h0M366.2 593.9h0M372.3 594.5h0M372.1 594.4h0M359.2 594.7h0M378.0 594.8h0M353.1 594.6h0M364.3 594.6h0M361.9 594.5h0M366.1 594.8h0M371.8 594.6h0M361.0 594.6h0M353.2 594.6h0M366.5 594.8h0M357.1 595.3h0M365.7 595.0h0M358.6 595.2h0M364.0 595.3h0M374.9 595.1h0M362.6 595.2h0M360.5 595.1h0M355.3 595.0h0M353.9 595.3h0M377.3 595.2h0M372.8 595.0h0M356.3 595.0h0M382.6 595.6h0M366.6 595.5h0M375.2 595.5h0M375.9 595.7h0M351.2 595.6h0M359.7 595.6h0M369.0 595.7h0M377.6 595.6h0M371.5 595.4h0M357.0 595.8h0M364.3 595.9h0M371.4 595.7h0M361.7 596.2h0M362.9 596.4h0M360.6 595.9h0M366.0 596.1h0M360.9 596.3h0M366.1 596.1h0M358.5 595.9h0M361.5 596.0h0M371.5 596.3h0M361.3 595.9h0M358.8 596.3h0M369.7 596.0h0M362.3 596.5h0M368.3 596.6h0M358.0 596.8h0M355.8 596.8h0M367.1 596.8h0M366.8 596.7h0M364.3 596.4h0M348.3 596.6h0M376.2 596.6h0M373.9 596.5h0M361.7 596.5h0M376.9 596.8h0M361.3 597.3h0M342.5 597.3h0M362.1 597.2h0M362.1 597.3h0M381.2 597.3h0M370.9 597.2h0M379.0 597.4h0M355.6 597.3h0M363.2 597.2h0M355.3 597.4h0M377.1 597.2h0M357.7 597.3h0M369.5 597.5h0M360.1 597.6h0M360.6 597.7h0M367.2 597.7h0M355.6 597.8h0M369.2 597.8h0M351.3 597.8h0M361.4 597.5h0M365.7 597.4h0M357.8 597.6h0M346.6 597.4h0M373.2 597.5h0M424.1 598.1h0M350.3 598.2h0M368.3 598.1h0M373.9 598.4h0M361.9 598.4h0M365.1 597.9h0M357.1 597.9h0M370.4 598.1h0M352.3 597.9h0M366.2 598.4h0M356.8 597.9h0M356.3 597.9h0M352.2 598.6h0M417.8 598.8h0M353.9 598.5h0M356.6 598.8h0M370.7 598.7h0M367.2 598.8h0M351.6 598.6h0M348.8 598.6h0M361.6 598.8h0M373.6 598.8h0M350.7 598.9h0M347.9 598.7h0M356.8 598.9h0M352.6 599.0h0M369.7 599.1h0M365.0 599.2h0M369.9 598.9h0M368.0 599.3h0M363.4 599.0h0M360.7 599.3h0M362.6 599.2h0M371.4 599.3h0M365.8 599.1h0M367.6 599.4h0M355.5 599.8h0M352.2 599.7h0M369.3 599.8h0M375.8 599.5h0M355.3 599.5h0M365.8 599.7h0M359.8 599.7h0M350.6 599.8h0M357.5 599.8h0M356.2 599.6h0M351.8 599.6h0M360.5 599.8h0M367.7 600.1h0M360.6 600.4h0M344.7 600.1h0M368.5 600.1h0M353.4 600.0h0M364.1 600.1h0M355.7 600.0h0M350.8 600.1h0M352.7 600.3h0M359.8 600.2h0M366.5 599.9h0M356.9 600.1h0M369.6 600.9h0M370.9 600.4h0M351.0 600.4h0M352.3 600.7h0M354.2 600.7h0M359.7 600.7h0M340.8 600.5h0M364.0 600.7h0M351.0 600.7h0M362.7 600.7h0M358.1 600.8h0M354.9 600.8h0M359.2 601.3h0M378.8 601.1h0M359.2 601.2h0M368.0 601.1h0M350.3 601.2h0M372.0 600.9h0M348.9 600.9h0M366.2 601.4h0M372.8 600.9h0M362.8 601.4h0M360.9 601.1h0M368.8 601.0h0M365.7 601.5h0M348.0 601.8h0M370.9 601.5h0M361.3 601.5h0M353.4 601.5h0M369.2 601.6h0M349.2 601.8h0M365.0 601.8h0M366.0 601.5h0M349.6 601.6h0M359.7 601.5h0M356.9 601.9h0M341.4 602.0h0M361.6 602.3h0M359.1 602.4h0M366.4 602.2h0M362.0 602.0h0M363.1 601.9h0M365.7 602.1h0M363.1 602.0h0M356.3 602.2h0M359.3 602.3h0M359.8 602.4h0M362.5 602.2h0M369.9 602.5h0M362.1 602.9h0M370.2 602.8h0M367.5 602.9h0M356.4 602.7h0M384.4 602.6h0M359.5 602.7h0M374.8 602.8h0M362.9 602.9h0M360.1 602.5h0M369.4 602.5h0M346.3 602.5h0M359.7 603.3h0M362.7 603.1h0M347.2 602.9h0M368.0 603.3h0M345.6 603.1h0M355.2 603.4h0M363.7 602.9h0M385.1 603.3h0M354.6 603.1h0M355.9 603.2h0M367.8 603.2h0M360.3 603.3h0M358.7 603.8h0M371.1 603.4h0M366.7 603.5h0M362.7 603.4h0M371.7 603.8h0M373.5 603.8h0M362.0 603.8h0M369.8 603.6h0M364.4 603.6h0M370.7 603.9h0M369.4 603.4h0M354.0 603.6h0M368.8 604.1h0M370.7 603.9h0M363.2 604.3h0M353.4 604.1h0M361.3 604.4h0M355.2 604.3h0M348.9 603.9h0M372.4 604.4h0M370.1 604.4h0M355.7 604.4h0M370.7 604.0h0M372.5 604.4h0M370.8 604.7h0M353.0 604.6h0M362.0 604.5h0M380.6 604.8h0M367.1 604.7h0M364.3 604.8h0M373.6 604.8h0M359.1 604.6h0M371.4 604.6h0M357.9 604.7h0M375.9 604.7h0M364.0 604.4h0M362.2 605.3h0M360.2 605.2h0M374.4 605.2h0M377.7 605.2h0M370.8 605.3h0M361.1 605.1h0M362.7 605.3h0M369.3 605.3h0M359.1 605.4h0M370.3 605.0h0M373.6 604.9h0M384.8 605.1h0M363.0 605.8h0M367.7 605.9h0M365.8 605.8h0M361.1 605.5h0M367.0 605.8h0M365.1 605.6h0M360.2 605.8h0M373.4 605.8h0M363.4 605.5h0M356.2 605.8h0M342.9 605.6h0M376.2 605.6h0M363.8 606.1h0M368.5 606.1h0M351.8 606.3h0M367.2 606.1h0M386.0 606.0h0M364.3 606.4h0M374.2 606.3h0M378.3 606.1h0M369.3 605.9h0M353.1 606.1h0M383.4 605.9h0M371.3 606.3h0M367.5 606.5h0M359.2 606.8h0M362.2 606.4h0M367.6 606.6h0M350.1 606.9h0M353.5 606.7h0M354.4 606.7h0M361.8 606.5h0M365.0 606.7h0M362.7 606.9h0M379.5 606.5h0M350.9 606.6h0M377.0 607.1h0M364.9 607.1h0M372.8 607.0h0M364.2 607.1h0M362.3 607.2h0M364.3 607.4h0M394.1 606.9h0M370.6 607.1h0M357.6 607.2h0M367.5 607.0h0M363.2 607.2h0M368.2 607.3h0M377.9 607.7h0M375.5 607.7h0M380.7 607.8h0M378.9 607.7h0M365.7 607.6h0M367.9 607.7h0M360.3 607.6h0M368.1 607.6h0M355.4 607.4h0M371.0 607.9h0M364.1 607.9h0M320.0 607.4h0M380.8 608.1h0M370.1 608.2h0M365.4 608.1h0M367.2 607.9h0M362.4 608.3h0M369.3 608.1h0M373.0 608.0h0M373.2 608.0h0M369.0 608.3h0M363.8 608.0h0M361.4 608.0h0M375.7 607.9h0M357.5 608.6h0M373.7 608.5h0M366.7 608.8h0M383.4 608.6h0M365.4 608.9h0M369.6 608.7h0M366.3 608.6h0M361.5 608.6h0M382.1 608.6h0M369.8 608.8h0M376.4 608.8h0M366.6 608.7h0M377.7 609.2h0M368.6 609.1h0M357.9 609.2h0M375.6 609.2h0M355.3 609.3h0M366.9 609.0h0M370.7 609.1h0M352.4 609.3h0M348.1 609.0h0M351.4 609.1h0M360.3 609.2h0M364.1 609.3h0M368.0 609.5h0M354.2 609.5h0M366.9 609.4h0M355.4 609.5h0M383.1 609.8h0M356.9 609.8h0M375.5 609.8h0M343.7 609.7h0M353.8 609.7h0M355.8 609.6h0M370.0 609.8h0M372.0 609.5h0M372.4 610.1h0M367.9 610.3h0M368.0 610.0h0M348.6 610.3h0M350.0 610.0h0M362.3 610.4h0M360.8 610.0h0M377.7 610.4h0M359.8 610.3h0M370.6 609.9h0M366.6 610.1h0M364.6 610.2h0M369.8 610.4h0M371.1 610.7h0M364.6 610.9h0M356.1 610.4h0M392.0 610.7h0M360.3 610.6h0M348.8 610.7h0M355.4 610.5h0M367.3 610.4h0M357.9 610.5h0M376.2 610.7h0M369.0 610.5h0M387.2 611.0h0M371.2 611.0h0M372.4 611.4h0M377.8 611.0h0M373.0 611.3h0M372.6 611.2h0M376.3 611.3h0M368.7 611.0h0M357.0 611.3h0M387.5 611.2h0M355.5 611.0h0M376.1 611.4h0M366.2 611.5h0M376.4 611.8h0M355.9 611.6h0M358.0 611.4h0M351.1 611.5h0M381.6 611.5h0M376.0 611.5h0M366.5 611.9h0M355.7 611.8h0M374.2 611.5h0M374.4 611.7h0M367.6 611.6h0M372.3 612.1h0M366.1 612.0h0M388.1 612.2h0M329.9 612.1h0M362.7 612.3h0M375.5 612.3h0M366.6 612.0h0M367.4 612.2h0M372.4 612.2h0M380.1 612.0h0M370.3 612.1h0M384.3 612.3h0M359.3 612.5h0M363.9 612.6h0M369.7 612.5h0M373.5 612.8h0M374.6 612.6h0M367.4 612.7h0M371.8 612.7h0M365.0 612.4h0M378.5 612.6h0M385.8 612.7h0M362.3 612.5h0M366.7 612.8h0M374.6 613.0h0M356.6 613.1h0M362.3 613.0h0M358.6 613.0h0M375.8 612.9h0M360.4 613.0h0M367.5 613.1h0M369.9 613.0h0M378.7 613.1h0M381.1 613.1h0M368.7 613.1h0M367.6 613.2h0M365.8 613.8h0M365.4 613.8h0M370.4 613.8h0M376.4 613.6h0M372.3 613.4h0M375.9 613.6h0M377.2 613.4h0M365.8 613.6h0M368.7 613.5h0M371.8 613.7h0M360.9 613.7h0M381.6 613.8h0M363.7 614.4h0M390.8 614.1h0M361.0 614.3h0M383.0 613.9h0M378.8 614.1h0M379.4 614.0h0M380.9 614.0h0M364.0 614.3h0M371.4 614.3h0M378.0 614.0h0M367.8 614.3h0M380.2 614.0h0M362.3 614.5h0M366.3 614.8h0M357.8 614.6h0M364.5 614.7h0M380.6 614.9h0M375.0 614.9h0M367.2 614.6h0M363.2 614.5h0M373.5 614.6h0M376.2 614.4h0M381.1 614.7h0M385.1 614.6h0M369.0 615.4h0M369.3 615.1h0M395.0 614.9h0M357.2 615.4h0M369.2 615.0h0M370.1 615.3h0M365.3 615.0h0M389.5 614.9h0M378.3 615.0h0M388.6 615.2h0M363.8 615.3h0M362.4 615.1h0M365.0 615.6h0M391.7 615.8h0M375.5 615.4h0M369.0 615.7h0M382.9 615.6h0M360.6 615.8h0M366.0 615.7h0M364.3 615.6h0M371.6 615.4h0M382.4 615.8h0M375.3 615.5h0M381.0 615.8h0M380.3 616.0h0M376.2 616.3h0M367.6 616.2h0M386.5 616.2h0M362.6 615.9h0M379.4 616.3h0M377.7 616.3h0M371.9 616.4h0M382.8 616.4h0M373.7 616.3h0M387.3 616.4h0M380.9 616.1h0M345.0 616.7h0M367.1 616.9h0M371.6 616.5h0M378.8 616.4h0M361.0 616.5h0M378.9 616.7h0M369.9 616.6h0M359.2 616.7h0M368.8 616.8h0M393.7 616.8h0M374.9 616.8h0M381.7 616.6h0M388.2 617.3h0M371.9 617.0h0M389.9 617.0h0M382.0 617.1h0M381.4 617.2h0M376.7 617.3h0M387.5 617.2h0M366.2 617.1h0M373.6 617.1h0M367.3 616.9h0M375.1 617.3h0M371.9 617.3h0M364.3 617.4h0M380.3 617.8h0M385.0 617.8h0M368.4 617.5h0M387.8 617.5h0M376.6 617.8h0M370.1 617.8h0M383.2 617.8h0M365.1 617.5h0M387.6 617.7h0M383.9 617.6h0M373.3 617.7h0M371.0 618.0h0M371.1 618.0h0M383.6 618.0h0M365.8 618.2h0M361.4 617.9h0M377.6 617.9h0M377.7 618.3h0M378.2 617.9h0M379.4 618.0h0M374.8 618.2h0M374.2 618.0h0M368.0 618.2h0M370.7 618.6h0M360.9 618.5h0M378.0 618.5h0M382.6 618.7h0M371.8 618.9h0M379.5 618.7h0M363.1 618.9h0M390.5 618.6h0M382.6 618.5h0M380.0 618.7h0M382.9 618.5h0M386.8 618.8h0M383.7 619.2h0M369.5 619.0h0M379.7 619.3h0M378.8 619.4h0M359.6 619.4h0M370.8 619.1h0M394.1 619.0h0M387.2 619.3h0M371.2 619.4h0M370.7 619.1h0M386.5 619.4h0M383.0 619.1h0M390.7 619.8h0M372.5 619.8h0M377.5 619.8h0M366.8 619.8h0M384.0 619.8h0M387.3 619.6h0M372.9 619.7h0M379.7 619.7h0M369.2 619.7h0M382.6 619.5h0M384.9 619.6h0M382.4 619.7h0M365.6 620.0h0M376.3 620.3h0M382.1 620.0h0M375.7 620.2h0M375.1 620.3h0M374.0 620.3h0M373.8 620.0h0M376.4 620.3h0M367.4 620.1h0M379.5 620.3h0M383.0 619.9h0M376.2 619.9h0M370.0 620.4h0M396.0 620.8h0M378.5 620.5h0M381.9 620.9h0M390.7 620.5h0M377.2 620.8h0M376.5 620.9h0M371.3 620.7h0M381.5 620.8h0M362.3 620.8h0M366.0 620.7h0M375.2 620.5h0M383.2 621.0h0M368.5 621.2h0M375.6 621.3h0M383.1 621.0h0M379.3 620.9h0M367.5 621.2h0M387.9 621.1h0M360.2 621.3h0M366.2 620.9h0M381.7 621.3h0M391.1 621.3h0M390.3 621.4h0M355.3 621.7h0M379.5 621.6h0M367.5 621.5h0M383.1 621.8h0M375.3 621.8h0M408.0 621.7h0M365.1 621.4h0M370.9 621.5h0M384.6 621.7h0M384.2 621.8h0M395.3 621.5h0M397.4 621.7h0M388.2 622.3h0M401.9 622.0h0M383.9 621.9h0M368.4 622.3h0M399.2 622.1h0M380.0 622.2h0M400.0 622.0h0M370.6 621.9h0M388.0 622.0h0M371.3 622.2h0M387.2 622.3h0M380.0 621.9h0M391.8 622.7h0M372.9 622.8h0M365.8 622.4h0M427.4 622.5h0M397.2 622.6h0M384.2 622.9h0M379.3 622.6h0M380.0 622.5h0M362.0 622.8h0M386.2 622.5h0M399.5 622.8h0M380.6 622.7h0M381.3 623.0h0M344.3 623.3h0M368.2 623.3h0M392.4 623.2h0M382.3 623.2h0M382.3 623.3h0M388.0 623.2h0M368.2 623.1h0M378.7 622.9h0M377.9 622.9h0M386.2 623.1h0M366.0 623.0h0M376.5 623.6h0M373.0 623.7h0M384.4 623.4h0M384.0 623.5h0M374.2 623.5h0M388.6 623.7h0M391.9 623.5h0M373.8 623.5h0M385.0 623.6h0M352.8 623.5h0M371.7 623.4h0M384.3 623.9h0M366.9 623.9h0M372.9 624.3h0M373.8 624.0h0M374.8 624.1h0M391.1 624.3h0M387.6 624.3h0M384.2 624.0h0M389.1 623.9h0M377.2 624.1h0M383.9 624.4h0M373.8 624.3h0M383.1 624.4h0M380.8 624.5h0M389.5 624.4h0M372.7 624.8h0M366.8 624.8h0M372.3 624.7h0M367.8 624.8h0M377.6 624.6h0M388.6 624.8h0M390.8 624.7h0M396.9 624.8h0M386.9 624.9h0M383.0 624.8h0M386.1 625.0h0M393.4 624.9h0M376.7 625.3h0M380.5 625.3h0M392.0 625.0h0M389.6 625.2h0M389.0 625.0h0M388.1 625.2h0M381.0 625.0h0M393.6 625.4h0M382.0 625.1h0M378.4 625.1h0M379.1 625.5h0M381.8 625.6h0M390.9 625.5h0M386.2 625.8h0M387.7 625.4h0M376.0 625.8h0M373.0 625.7h0M379.8 625.4h0M377.3 625.5h0M366.3 625.8h0M377.0 625.9h0M372.1 625.6h0M377.5 626.1h0M391.5 626.0h0M395.7 626.0h0M369.1 626.3h0M385.6 626.1h0M377.6 626.1h0M377.8 626.1h0M389.7 626.4h0M388.4 626.0h0M391.0 626.2h0M389.0 626.2h0M396.9 626.0h0M376.8 626.8h0M390.4 626.5h0M368.2 626.8h0M372.7 626.4h0M388.4 626.5h0M375.2 626.4h0M375.6 626.8h0M386.4 626.4h0M384.5 626.7h0M382.3 626.8h0M385.0 626.6h0M388.6 626.4h0M378.3 627.2h0M395.1 627.2h0M373.4 627.2h0M367.8 627.2h0M386.8 627.0h0M389.7 627.0h0M374.7 627.2h0M415.7 627.0h0M402.9 627.1h0M379.9 627.1h0M373.0 626.9h0M394.4 627.1h0M391.0 627.7h0M387.6 627.7h0M376.7 627.9h0M380.1 627.4h0M382.1 627.5h0M383.1 627.5h0M386.9 627.9h0M381.9 627.6h0M364.7 627.6h0M379.6 627.4h0M374.9 627.4h0M375.4 627.6h0M382.0 628.2h0M382.3 628.2h0M376.2 628.3h0M384.6 628.2h0M387.1 628.0h0M371.3 628.0h0M381.6 627.9h0M388.4 628.0h0M394.6 628.1h0M370.7 628.1h0M390.8 628.1h0M386.4 628.4h0M387.6 628.5h0M387.8 628.8h0M379.3 628.9h0M377.7 628.7h0M403.0 628.7h0M392.2 628.5h0M381.8 628.7h0M379.0 628.6h0M374.0 628.7h0M380.8 628.7h0M381.9 628.5h0M386.8 628.8h0M385.3 628.9h0M380.6 629.0h0M393.0 629.0h0M367.9 629.2h0M401.7 629.1h0M371.0 629.1h0M392.0 629.1h0M363.8 629.0h0M380.0 629.4h0M396.6 629.0h0M384.3 629.0h0M389.6 629.0h0M398.5 629.9h0M370.7 629.6h0M383.0 629.5h0M374.7 629.5h0M381.2 629.8h0M390.7 629.4h0M376.5 629.8h0M367.5 629.6h0M388.4 629.7h0M383.5 629.7h0M402.2 629.6h0M377.1 629.5h0M395.2 630.1h0M394.9 630.0h0M378.9 630.3h0M389.6 630.3h0M392.2 630.2h0M369.7 630.3h0M396.4 630.2h0M385.4 630.4h0M384.9 630.3h0M383.6 630.0h0M376.3 630.1h0M394.9 630.3h0M369.4 630.9h0M376.1 630.5h0M383.0 630.5h0M381.8 630.9h0M380.3 630.7h0M393.4 630.9h0M384.3 630.6h0M387.7 630.7h0M386.8 630.6h0M383.0 630.7h0M392.6 630.4h0M401.6 630.5h0M392.7 631.3h0M386.0 631.3h0M359.3 631.2h0M371.8 631.2h0M384.3 631.3h0M381.8 631.1h0M384.5 631.2h0M395.0 631.1h0M364.9 631.1h0M382.1 631.2h0M371.7 631.3h0M383.7 630.9h0M393.9 631.7h0M377.6 631.6h0M386.8 631.9h0M397.0 631.6h0M394.6 631.9h0M391.8 631.7h0M381.3 631.4h0M388.0 631.4h0M386.9 631.5h0M388.6 631.7h0M406.7 631.5h0M384.8 631.8h0M386.4 632.3h0M380.2 632.3h0M377.7 632.0h0M397.6 632.4h0M375.7 632.1h0M381.1 632.2h0M372.4 632.1h0M380.3 632.3h0M390.4 632.0h0M375.9 632.1h0M381.7 631.9h0M395.8 632.1h0M375.6 632.9h0M385.6 632.6h0M392.9 632.7h0M389.8 632.5h0M371.5 632.8h0M397.1 632.4h0M383.1 632.6h0M382.7 632.7h0M385.3 632.4h0M390.2 632.4h0M392.0 632.6h0M380.8 632.9h0M392.2 633.0h0M383.9 633.0h0M393.0 633.0h0M376.2 633.2h0M387.4 633.0h0M402.9 633.1h0M384.3 633.1h0M374.4 633.2h0M378.0 633.4h0M376.4 633.3h0M382.4 633.1h0M394.7 632.9h0M373.9 633.5h0M391.1 633.7h0M400.9 633.8h0M377.3 633.6h0M372.9 633.5h0M391.4 633.5h0M390.1 633.5h0M395.5 633.8h0M382.5 633.5h0M383.7 633.8h0M381.6 633.6h0M382.5 633.6h0M388.6 634.3h0M391.4 634.3h0M387.4 634.1h0M399.8 634.0h0M390.9 634.0h0M401.9 634.4h0M381.7 634.2h0M387.2 634.0h0M389.9 634.0h0M384.1 634.0h0M384.5 634.1h0M390.2 634.2h0M372.1 634.9h0M374.3 634.7h0M394.9 634.8h0M369.4 634.6h0M380.7 634.8h0M379.0 634.7h0M385.4 634.8h0M393.2 634.8h0M385.4 634.5h0M391.6 634.8h0M383.3 634.4h0M380.8 634.6h0M394.0 635.1h0M374.5 634.9h0M390.4 635.1h0M378.3 635.3h0M396.9 635.0h0M389.8 635.2h0M356.8 634.9h0M389.1 635.2h0M384.0 635.3h0M380.9 635.3h0M394.3 635.2h0M387.3 634.9h0M389.8 635.5h0M370.5 635.6h0M388.0 635.4h0M389.8 635.6h0M379.1 635.5h0M381.1 635.4h0M389.3 635.6h0M365.0 635.8h0M386.0 635.7h0M390.6 635.7h0M386.4 635.9h0M399.3 635.5h0M372.1 636.3h0M384.5 636.2h0M383.5 635.9h0M374.6 635.9h0M398.1 636.4h0M385.9 636.4h0M389.3 636.1h0M376.2 636.1h0M389.8 636.0h0M379.2 636.0h0M387.7 636.3h0M386.4 636.0h0M385.5 636.4h0M381.3 636.6h0M388.7 636.8h0M378.6 636.6h0M392.3 636.8h0M400.8 636.7h0M383.4 636.6h0M376.9 636.5h0M372.1 636.7h0M385.2 636.8h0M387.0 636.6h0M390.3 636.7h0M382.9 636.9h0M388.1 637.0h0M370.0 636.9h0M385.9 637.1h0M387.7 637.0h0M393.5 637.0h0M379.1 637.2h0M383.7 637.4h0M401.2 637.3h0M381.9 637.2h0M392.2 637.3h0M396.2 637.3h0M387.1 637.7h0M375.3 637.5h0M377.8 637.5h0M391.1 637.7h0M394.6 637.5h0M379.7 637.8h0M383.4 637.6h0M380.4 637.9h0M411.3 637.5h0M363.3 637.7h0M372.2 637.7h0M391.5 637.6h0M374.2 638.3h0M384.5 638.1h0M382.6 638.0h0M382.6 638.0h0M362.0 638.0h0M390.8 638.1h0M384.2 638.4h0M367.8 638.0h0M385.8 638.1h0M369.0 638.1h0M392.3 638.2h0M370.8 637.9h0M379.4 638.7h0M373.6 638.7h0M384.9 638.4h0M382.1 638.5h0M384.1 638.6h0M394.9 638.5h0M388.7 638.8h0M394.8 638.8h0M393.6 638.8h0M394.0 638.9h0M390.6 638.9h0M334.4 638.7h0M392.0 639.1h0M379.6 639.2h0M371.6 639.0h0M403.9 638.9h0M380.4 639.3h0M398.6 638.9h0M385.2 639.0h0M401.7 639.4h0M374.0 639.2h0M386.4 639.2h0M394.6 639.0h0M381.6 639.0h0M396.1 639.9h0M385.1 639.6h0M388.6 639.4h0M398.3 639.8h0M393.6 639.6h0M380.5 639.6h0M399.7 639.5h0M381.5 639.5h0M389.2 639.4h0M396.3 639.7h0M380.3 639.7h0M393.3 639.7h0M381.6 640.3h0M384.4 640.3h0M386.8 639.9h0M393.1 640.1h0M396.7 640.2h0M392.2 640.0h0M395.3 640.0h0M393.7 640.3h0M369.6 640.1h0M385.1 640.2h0M396.8 640.0h0M402.0 640.4h0M378.5 640.8h0M394.1 640.7h0M387.7 640.6h0M386.0 640.5h0M371.2 640.8h0M379.3 640.7h0M394.6 640.6h0M379.6 640.7h0M385.8 640.9h0M386.2 640.4h0M367.7 640.4h0M397.8 640.6h0M386.8 641.2h0M401.7 641.3h0M380.5 641.2h0M392.0 641.0h0M381.4 640.9h0M374.8 641.3h0M385.4 641.2h0M389.0 641.4h0M394.0 641.0h0M394.8 641.3h0M383.9 641.2h0M383.4 641.2h0M388.8 641.5h0M390.1 641.6h0M385.8 641.7h0M390.6 641.4h0M394.5 641.6h0M389.5 641.9h0M376.7 641.4h0M408.3 641.8h0M379.4 641.6h0M387.2 641.6h0M378.7 641.7h0M386.0 641.9h0M388.1 641.9h0M371.5 642.3h0M379.0 642.4h0M387.9 642.3h0M378.9 641.9h0M377.5 642.3h0M388.9 642.1h0M385.7 641.9h0M390.1 642.0h0M395.3 642.4h0M391.9 642.3h0M374.1 642.0h0M392.6 642.9h0M387.8 642.7h0M381.4 642.8h0M393.4 642.5h0M383.7 642.7h0M388.1 642.8h0M379.7 642.7h0M386.1 642.7h0M383.0 642.7h0M368.5 642.4h0M379.1 642.5h0M385.7 642.4h0M380.0 643.3h0M375.3 643.3h0M417.4 642.9h0M390.8 643.1h0M384.7 642.9h0M389.9 643.0h0M383.5 643.1h0M374.7 643.0h0M383.5 643.2h0M377.3 643.1h0M383.5 643.1h0M399.8 643.3h0M369.9 643.6h0M392.5 643.8h0M368.9 643.6h0M391.3 643.7h0M385.0 643.9h0M375.3 643.8h0M378.4 643.5h0M376.1 643.5h0M368.6 643.8h0M383.0 643.7h0M391.5 643.4h0M395.9 643.6h0M393.3 644.3h0M364.1 644.4h0M386.1 644.1h0M385.9 644.2h0M387.4 644.3h0M381.5 644.2h0M379.6 644.1h0M388.5 644.1h0M391.2 644.1h0M387.4 643.9h0M380.2 644.1h0M384.5 644.2h0M388.0 644.5h0M392.0 644.7h0M370.2 644.4h0M383.4 644.7h0M383.3 644.6h0M381.1 644.7h0M384.9 644.7h0M386.1 644.7h0M392.0 644.5h0M392.3 644.6h0M390.8 644.5h0M389.7 644.7h0M391.9 645.1h0M390.0 645.1h0M380.0 645.2h0M382.2 645.2h0M381.0 645.1h0M386.4 645.1h0M411.2 645.3h0M400.4 645.2h0M392.4 644.9h0M389.2 645.3h0M400.3 645.1h0M377.5 645.1h0M392.7 645.7h0M394.8 645.9h0M385.7 645.7h0M382.4 645.6h0M393.0 645.6h0M390.4 645.6h0M388.0 645.7h0M401.1 645.6h0M375.8 645.6h0M390.6 645.7h0M395.0 645.5h0M375.5 645.7h0M389.4 646.3h0M389.4 646.3h0M395.6 646.2h0M407.8 646.3h0M396.5 645.9h0M376.4 646.3h0M394.7 646.0h0M407.7 646.3h0M387.4 646.3h0M393.7 646.0h0M397.1 645.9h0M392.8 645.9h0M387.9 646.6h0M368.9 646.6h0M376.1 646.5h0M388.4 646.5h0M394.8 177.8h0M416.7 184.8h0M396.4 175.3h0M423.1 187.9h0M402.0 176.7h0M406.0 177.1h0M402.4 180.9h0M404.3 180.4h0M392.5 169.2h0M419.6 185.5h0M393.2 173.4h0M419.4 186.7h0M404.4 177.4h0M420.0 186.1h0M414.5 181.9h0M395.8 177.2h0M395.5 169.7h0M393.5 169.2h0M421.2 187.2h0M396.0 174.9h0M392.3 171.5h0M406.6 180.3h0M395.3 176.1h0M398.5 175.5h0M416.3 183.8h0M394.1 172.3h0M400.6 175.4h0M409.9 180.2h0M409.3 180.3h0M407.5 180.3h0M424.4 188.3h0M421.4 186.6h0M418.0 185.4h0M400.6 175.7h0M412.7 183.0h0M402.9 180.6h0M392.1 169.1h0M401.8 180.4h0M399.1 173.2h0M409.5 182.2h0M422.2 189.6h0M411.0 184.2h0M414.9 182.5h0M422.0 187.2h0M403.2 175.4h0M397.8 176.7h0M394.7 172.6h0M405.8 178.7h0M407.5 181.8h0M395.5 169.8h0M424.0 187.5h0M405.0 178.3h0M399.5 172.9h0M392.3 173.1h0M424.5 188.5h0M398.5 174.0h0M416.4 183.8h0M402.5 178.8h0M407.2 179.5h0M417.7 185.8h0M402.8 178.3h0M413.1 178.9h0M422.7 188.1h0M410.0 184.2h0M397.9 177.9h0M418.5 184.5h0M426.8 190.1h0M420.4 186.8h0M408.9 182.6h0M412.4 185.9h0M392.0 171.0h0M392.9 174.1h0M418.5 185.5h0M414.9 181.9h0M402.0 180.1h0M394.5 173.4h0M395.4 177.2h0M416.1 182.7h0M394.7 173.2h0M421.9 185.6h0M405.6 181.7h0M413.3 182.6h0M392.9 172.0h0M393.0 174.4h0M415.4 185.4h0M425.7 189.7h0M419.7 184.6h0M394.4 175.7h0M399.5 177.1h0M418.1 185.5h0M415.4 183.7h0M393.4 172.1h0M426.4 188.5h0M422.9 189.6h0M400.1 175.2h0M404.4 177.5h0M413.5 183.7h0M422.9 188.9h0M424.2 187.9h0M426.5 190.1h0M411.8 182.6h0M416.5 187.1h0M403.6 178.8h0M415.2 184.1h0M397.1 173.5h0M392.1 169.2h0M392.1 169.7h0M395.0 175.2h0M398.5 176.1h0M402.6 178.9h0M398.3 173.5h0M392.6 171.1h0M422.1 186.4h0M410.7 180.6h0M414.0 186.0h0M401.1 176.5h0M420.2 185.8h0M410.8 181.7h0M408.4 179.7h0M411.7 182.6h0M405.2 177.0h0M411.7 181.0h0M398.3 175.7h0M419.2 185.6h0M412.7 184.2h0M425.1 185.8h0M409.5 182.4h0M411.9 183.3h0M394.0 174.8h0M407.1 179.0h0M422.8 188.0h0M408.0 178.8h0M404.8 178.2h0M392.2 174.7h0M394.4 173.8h0M420.8 188.1h0M407.3 181.2h0M427.7 188.0h0M415.9 182.4h0M427.2 190.1h0M407.5 178.8h0M398.7 174.0h0M424.2 187.1h0M398.3 177.6h0M393.4 172.3h0M415.1 182.1h0M396.0 173.2h0M401.1 175.6h0M422.3 187.6h0M397.0 174.7h0M420.5 187.3h0M396.8 173.9h0M427.9 190.2h0M395.0 173.7h0M423.4 187.5h0M425.4 189.7h0M410.7 183.1h0M405.6 180.5h0M419.7 187.4h0M418.3 187.9h0M392.5 170.0h0M396.5 174.8h0M421.2 186.6h0M409.4 180.4h0M406.6 179.2h0M393.6 175.2h0M421.7 185.7h0M426.4 187.8h0M413.3 184.0h0M406.9 178.1h0M410.6 182.2h0M399.1 178.9h0M408.8 183.2h0M409.9 179.5h0M410.3 183.1h0M401.9 177.8h0M410.9 181.8h0M394.4 173.4h0M417.7 185.2h0M401.8 174.8h0M426.5 189.1h0M402.5 179.6h0M400.0 175.9h0M421.3 186.9h0M407.3 177.8h0M411.5 182.2h0M396.9 173.0h0M401.9 179.7h0M393.0 175.3h0M414.4 185.7h0M411.7 196.5h0M420.9 195.5h0M421.9 192.3h0M392.6 199.3h0M424.9 191.6h0M405.5 201.1h0M399.5 201.1h0M406.8 196.6h0M414.7 193.2h0M405.0 197.7h0M426.1 190.5h0M414.5 194.9h0M426.3 188.5h0M407.0 198.3h0M402.1 201.7h0M401.9 202.5h0M392.8 201.7h0M408.6 198.6h0M424.0 191.6h0M406.7 195.2h0M418.9 193.8h0M404.1 197.1h0M409.1 196.2h0M410.2 194.5h0M413.7 195.0h0M408.6 197.7h0M407.2 196.8h0M423.3 192.0h0M423.8 192.3h0M414.3 192.8h0M423.7 192.1h0M393.1 199.9h0M424.6 192.1h0M398.0 201.5h0M394.5 204.7h0M393.7 204.2h0M420.2 192.8h0M394.9 202.1h0M427.0 188.8h0M407.2 198.4h0M407.3 195.9h0M398.2 200.3h0M406.9 196.3h0M417.6 194.1h0M407.2 196.6h0M416.1 195.7h0M411.9 197.4h0M420.4 194.6h0M409.9 196.9h0M416.4 195.2h0M404.6 197.8h0M393.0 202.5h0M409.3 197.8h0M392.6 203.3h0M393.2 198.3h0M419.7 194.7h0M417.7 193.1h0M399.0 199.7h0M407.7 197.8h0M420.5 192.4h0M408.9 195.0h0M394.0 204.8h0M405.9 199.4h0M400.2 200.3h0M405.0 200.9h0M399.3 197.3h0M420.5 192.3h0M407.2 200.3h0M395.3 201.5h0M412.6 195.8h0M410.2 194.9h0M393.6 201.4h0M409.1 198.2h0M413.1 197.7h0M407.9 198.4h0M423.3 189.7h0M419.0 192.9h0M411.7 196.7h0M415.7 193.7h0M394.6 201.3h0M419.9 194.2h0M413.8 193.2h0M407.6 197.6h0M413.9 194.8h0M412.9 196.0h0M394.2 199.5h0M414.3 194.9h0M396.1 202.8h0M403.0 199.2h0M408.9 198.5h0M401.3 196.4h0M407.2 196.4h0M421.7 190.5h0M396.5 201.0h0M399.5 197.3h0M405.5 199.3h0M420.3 193.2h0M392.5 202.2h0M392.0 201.2h0M398.7 200.2h0M395.0 205.1h0M414.4 195.9h0M394.0 198.8h0M402.2 198.6h0M394.1 203.0h0M401.7 196.6h0M407.5 194.8h0M422.2 192.5h0M411.3 194.9h0M399.5 199.8h0M421.0 191.9h0M409.5 194.1h0M418.6 191.1h0M415.6 194.4h0M396.9 202.2h0M404.4 197.3h0M413.6 197.3h0M421.4 192.8h0M401.4 200.5h0M394.5 197.7h0M413.5 195.6h0M397.3 202.6h0M406.1 199.3h0M420.5 194.1h0M401.3 196.9h0M415.3 197.1h0M397.7 201.6h0M410.8 196.1h0M424.0 189.6h0M416.7 195.2h0M417.8 191.8h0M425.2 190.3h0M397.5 200.7h0M407.6 196.8h0M425.0 189.7h0M392.1 198.3h0M405.3 202.5h0M408.1 195.9h0M402.0 196.3h0M405.7 197.9h0M392.2 200.6h0M404.3 197.9h0M395.9 203.5h0M426.1 188.5h0M395.2 201.9h0M415.3 194.8h0M393.6 201.1h0M392.5 203.4h0M411.4 195.1h0M397.4 198.0h0M413.1 188.0h0M419.1 193.7h0M395.0 187.4h0M415.3 186.1h0M402.2 196.7h0M407.8 192.3h0M411.1 187.3h0M425.3 192.5h0M404.7 177.8h0M415.2 189.2h0M398.9 186.6h0M418.8 187.4h0M416.7 189.9h0M402.9 180.5h0M406.0 194.7h0M395.4 201.9h0M401.5 188.5h0M400.6 197.6h0M398.1 192.7h0M425.6 190.0h0M395.7 199.4h0M404.1 184.7h0M422.8 190.0h0M424.9 187.2h0M400.8 186.5h0M414.6 186.8h0M400.6 190.9h0M396.9 174.1h0M419.4 188.0h0M418.6 188.9h0M404.2 197.5h0M412.5 190.6h0M408.4 185.9h0M414.4 191.9h0M413.7 190.9h0M417.1 186.5h0M399.3 198.7h0M401.2 196.6h0M414.1 197.9h0M401.6 183.5h0M394.4 201.1h0M402.2 190.6h0M397.9 191.4h0M421.7 185.2h0M410.8 189.4h0M394.0 204.1h0M412.4 188.7h0M401.0 192.7h0M410.3 183.9h0M402.7 197.2h0M398.1 180.5h0M403.5 199.0h0M418.9 191.8h0M397.4 187.1h0M397.5 185.9h0M405.0 192.9h0M394.9 181.4h0M422.3 187.1h0M398.4 191.6h0M395.8 189.3h0M394.5 200.6h0M396.1 181.9h0M394.6 190.5h0M425.8 190.2h0M409.8 183.8h0M416.1 186.9h0M425.1 193.1h0M414.0 195.2h0M394.1 197.7h0M401.7 185.6h0M421.2 187.1h0M422.9 197.7h0M394.2 187.8h0M412.1 192.5h0M417.3 182.4h0M401.4 187.3h0M402.8 183.4h0M399.1 192.1h0M410.8 195.1h0M399.7 184.2h0M401.7 188.6h0M425.5 192.0h0M403.2 188.4h0M405.6 188.2h0M407.8 194.3h0M398.5 195.8h0M414.3 187.6h0M405.1 193.9h0M411.9 190.1h0M396.4 193.1h0M403.2 186.3h0M403.4 189.4h0M421.0 193.4h0M418.6 188.6h0M425.8 191.3h0M414.8 189.2h0M406.7 189.4h0M397.2 191.0h0M398.2 190.9h0M402.4 190.5h0M415.5 186.1h0M415.5 182.6h0M404.5 194.0h0M397.3 191.7h0M417.2 185.5h0M421.8 189.9h0M399.1 189.9h0M419.0 188.5h0M410.2 193.8h0M395.0 192.7h0M416.1 188.2h0M418.8 196.7h0M404.6 181.4h0M420.1 189.3h0M410.6 185.8h0M398.5 188.2h0M406.8 189.8h0M396.4 188.8h0M405.4 195.3h0M419.8 186.2h0M401.8 186.9h0M400.9 196.1h0M407.3 193.9h0M399.7 185.6h0M400.7 181.1h0M409.7 193.5h0M417.6 189.8h0M402.0 184.1h0M394.9 185.9h0M423.6 186.2h0M397.9 188.6h0M397.9 185.0h0M397.6 196.5h0M396.7 199.8h0M401.3 185.3h0M408.9 178.5h0M403.6 188.3h0M396.3 191.8h0M404.1 185.5h0M399.7 183.5h0M402.6 180.8h0M402.1 193.8h0M419.5 192.6h0M400.6 196.4h0M407.1 195.0h0M410.9 191.5h0M402.3 181.4h0M399.2 187.6h0M411.7 182.4h0M422.7 194.2h0M421.9 188.2h0M400.5 197.2h0M423.4 189.9h0M403.9 189.4h0M416.1 192.9h0M400.3 188.5h0M398.5 187.2h0M419.1 181.9h0M408.1 194.3h0M420.2 193.1h0M395.0 195.6h0M419.8 186.3h0M401.2 192.0h0M399.4 193.0h0M394.2 188.2h0M424.2 190.2h0M396.5 183.3h0M403.7 192.3h0M404.9 185.7h0M394.1 191.4h0M411.2 186.2h0M399.6 182.3h0M412.2 190.5h0M420.6 186.0h0M416.7 187.6h0M425.7 187.3h0M396.8 189.4h0M400.4 190.1h0M406.7 176.6h0M401.3 185.4h0M402.5 191.7h0M402.2 194.2h0M425.0 190.8h0M401.5 186.7h0M394.1 181.6h0M394.6 190.2h0M395.7 186.9h0M423.3 189.1h0M418.3 185.1h0M417.2 186.8h0M399.6 511.2h0M404.4 515.7h0M405.7 513.7h0M392.0 513.2h0M392.0 515.9h0M392.9 515.0h0M416.2 515.2h0M415.0 515.4h0M409.8 515.2h0M404.5 515.4h0M408.4 514.8h0M399.2 515.9h0M401.9 514.5h0M398.5 515.2h0M400.4 512.5h0M405.1 514.7h0M398.8 515.6h0M394.5 514.9h0M412.8 515.5h0M414.2 516.1h0M411.4 514.3h0M415.5 514.8h0M392.4 514.6h0M393.3 516.3h0M406.2 515.0h0M402.8 514.0h0M392.3 513.1h0M402.4 516.5h0M393.1 514.3h0M412.4 515.7h0M413.5 515.8h0M400.9 514.8h0M405.7 516.1h0M408.2 515.2h0M398.1 513.9h0M398.6 515.7h0M395.8 513.0h0M397.9 517.2h0M405.7 514.8h0M397.1 514.0h0M411.5 515.3h0M405.0 515.9h0M403.3 513.1h0M410.7 516.0h0M394.1 513.4h0M406.7 529.9h0M395.0 526.8h0M406.9 528.2h0M405.0 528.2h0M408.3 527.2h0M397.2 528.6h0M388.6 528.9h0M397.8 527.9h0M407.6 529.2h0M406.0 527.9h0M395.3 529.3h0M396.4 529.9h0M396.1 527.7h0M397.2 529.7h0M399.4 529.5h0M413.8 527.9h0M400.8 528.8h0M400.7 529.3h0M391.4 525.1h0M406.9 530.1h0M392.8 531.8h0M406.2 527.9h0M400.4 528.8h0M406.1 528.5h0M410.5 527.7h0M390.9 530.9h0M408.6 528.1h0M393.8 530.4h0M391.9 529.4h0M403.5 528.6h0M413.3 528.8h0M407.5 528.8h0M407.5 528.8h0M413.2 528.4h0M388.4 532.4h0M400.1 527.5h0M392.5 527.9h0M412.3 527.8h0M396.4 528.1h0M413.8 530.1h0M401.2 527.4h0M392.4 526.5h0M393.3 527.5h0M398.1 527.6h0M398.0 527.7h0M406.3 544.4h0M395.7 548.3h0M406.2 545.5h0M410.2 546.1h0M393.5 544.0h0M394.7 544.8h0M393.8 548.6h0M403.1 547.5h0M402.6 548.5h0M408.2 548.0h0M408.0 547.6h0M395.9 544.0h0M401.7 544.7h0M408.8 547.7h0M402.5 549.2h0M395.6 542.3h0M395.3 547.9h0M393.8 546.7h0M393.3 546.8h0M402.3 546.0h0M395.3 545.0h0M399.1 545.4h0M400.2 547.8h0M395.6 544.5h0M395.4 546.8h0M417.9 547.0h0M411.2 546.7h0M415.3 548.0h0M396.9 548.0h0M415.2 547.5h0M400.4 546.6h0M415.6 546.1h0M404.5 547.1h0M400.8 547.5h0M412.2 546.2h0M418.1 546.5h0M396.5 546.9h0M399.1 545.3h0M393.3 545.1h0M394.1 546.3h0M392.7 549.9h0M396.2 545.5h0M392.4 549.9h0M412.3 546.6h0M397.7 546.7h0M393.4 546.0h0M404.1 544.7h0M410.2 547.4h0M414.2 545.9h0M409.0 544.7h0M406.5 548.8h0M414.1 546.4h0M410.9 544.6h0M392.1 550.6h0M411.0 547.3h0M393.6 547.1h0M417.6 546.2h0M403.0 548.2h0M396.2 547.9h0M417.6 545.1h0M394.4 544.3h0M399.4 546.6h0M415.6 547.0h0M397.5 545.6h0M392.4 545.0h0M418.7 546.9h0M398.3 546.2h0M398.6 545.2h0M397.5 547.0h0M395.4 547.7h0M405.2 548.1h0M392.2 549.7h0M400.9 544.0h0M398.8 546.8h0M400.6 545.5h0M398.4 547.3h0M411.2 546.5h0M400.4 545.2h0M407.7 547.0h0M405.8 547.8h0M405.6 545.3h0M400.7 548.3h0M417.1 546.7h0M411.1 544.6h0M394.8 547.9h0M406.0 545.5h0M412.8 544.8h0M401.0 544.9h0M395.4 545.2h0M397.8 545.2h0M409.0 573.4h0M413.7 572.4h0M405.3 571.3h0M403.9 571.2h0M395.0 570.7h0M399.4 574.4h0M398.4 574.4h0M394.6 573.8h0M407.7 572.6h0M426.3 572.2h0M419.4 572.0h0M424.6 575.0h0M408.2 571.3h0M392.0 575.7h0M412.9 571.8h0M392.7 570.4h0M419.7 572.6h0M406.5 571.6h0M418.0 573.0h0M392.2 572.3h0M394.1 572.0h0M406.8 573.6h0M411.0 571.5h0M396.8 571.9h0M404.9 575.0h0M396.0 572.5h0M428.7 572.4h0M409.5 573.3h0M390.6 582.9h0M403.5 576.7h0M395.1 576.2h0M390.4 572.6h0M390.6 578.3h0M391.9 578.7h0M398.7 576.0h0M397.1 577.0h0M408.2 574.7h0M400.2 575.1h0M409.2 578.6h0M406.6 575.9h0M392.1 576.1h0M407.4 577.2h0M394.1 577.7h0M406.1 575.5h0M396.1 579.2h0M398.6 574.7h0M390.2 575.1h0M394.7 576.3h0M400.5 577.2h0M404.9 578.8h0M405.1 576.0h0M401.6 579.3h0M406.5 577.6h0M398.4 573.1h0M402.1 580.0h0M401.8 577.9h0M408.1 575.3h0M397.8 575.5h0M397.2 579.8h0M405.7 577.6h0M399.9 581.2h0M407.2 577.7h0M390.9 580.8h0M400.8 580.0h0M391.8 578.4h0M402.3 575.7h0M398.7 573.5h0M394.5 574.6h0M399.8 579.8h0M400.6 573.8h0M403.3 576.3h0M396.9 571.5h0M390.5 578.9h0M394.8 580.9h0M391.4 574.7h0M393.0 581.0h0M395.6 578.8h0M408.7 574.5h0M413.0 347.3h0M401.7 343.9h0M423.6 345.6h0M429.2 346.4h0M425.5 348.8h0M406.8 339.8h0M426.0 348.7h0M400.5 349.1h0M411.2 345.3h0M405.3 348.5h0M409.2 351.2h0M408.3 348.7h0M405.1 346.2h0M429.4 350.0h0M404.3 349.5h0M422.3 344.8h0M415.3 344.2h0M413.9 342.9h0M403.6 345.5h0M425.4 347.1h0M427.2 346.8h0M416.5 344.5h0M429.0 350.1h0M400.6 349.3h0M425.2 346.5h0M400.5 348.0h0M427.6 346.4h0M418.8 345.7h0M415.5 344.5h0M405.3 348.0h0M405.0 353.5h0M424.5 347.7h0M422.0 345.3h0M405.7 347.8h0M423.9 346.8h0M414.5 345.0h0M401.4 345.9h0M411.7 349.5h0M424.1 345.4h0M410.4 353.0h0M428.3 348.5h0M425.3 342.9h0M401.1 347.2h0M400.1 343.7h0M426.0 351.7h0M406.0 347.6h0M406.0 347.6h0M428.4 345.3h0M414.4 348.4h0M402.5 351.7h0M422.1 348.2h0M431.6 345.4h0M413.4 347.9h0M425.1 344.5h0M413.1 347.5h0M415.5 347.3h0M404.8 344.9h0M419.5 345.5h0M401.9 345.4h0M425.7 346.0h0M418.1 352.1h0M430.3 349.0h0M426.2 346.3h0M414.3 344.4h0M429.8 347.6h0M420.3 348.1h0M412.6 350.4h0M400.2 348.8h0M411.1 345.5h0M402.4 343.5h0M401.1 341.2h0M402.3 350.8h0M400.3 344.4h0M412.8 342.6h0M430.6 348.5h0M406.2 346.3h0M410.6 346.9h0M431.9 343.7h0M400.0 348.3h0M420.0 344.5h0M400.1 343.0h0M411.1 351.2h0M413.2 348.8h0M409.2 342.3h0M413.4 346.3h0M406.2 349.7h0M427.0 349.4h0M415.9 343.7h0M405.0 346.4h0M414.2 346.4h0M369.5 296.4h0M370.5 300.1h0M359.1 291.7h0M355.5 293.4h0M353.2 310.8h0M368.1 296.3h0M372.0 297.8h0M353.6 311.1h0M354.5 311.2h0M352.2 310.7h0M359.0 302.8h0M365.2 296.7h0M365.2 304.6h0M358.8 303.9h0M360.5 289.7h0M371.3 291.2h0M361.4 294.5h0M354.8 294.8h0M366.2 300.4h0M369.6 296.3h0M352.3 299.2h0M371.4 297.5h0M371.5 304.9h0M355.1 305.3h0M353.4 313.0h0M354.9 274.9h0M370.4 301.6h0M355.3 290.1h0M365.6 299.1h0M362.4 299.0h0M353.0 301.0h0M361.1 299.0h0M355.1 295.0h0M359.4 300.6h0M357.6 299.0h0M371.7 302.2h0M364.4 299.2h0M359.7 300.9h0M352.3 286.2h0M367.5 294.0h0M357.7 297.1h0M357.1 310.6h0M362.5 309.7h0M368.9 297.5h0M365.6 293.8h0M369.8 304.3h0M364.6 297.1h0M355.0 308.4h0M360.4 298.0h0M356.9 307.0h0M366.8 303.0h0M363.5 293.3h0M362.6 298.4h0M366.4 296.3h0M359.3 301.2h0M367.2 299.8h0M363.7 300.0h0M369.9 304.5h0M352.9 301.4h0M366.6 295.9h0M353.8 306.8h0M355.8 300.1h0M360.6 294.5h0M363.5 298.8h0M353.5 298.2h0M369.4 299.4h0M355.3 313.4h0M358.7 300.9h0M371.0 303.4h0M355.2 297.3h0M383.7 437.4h0M370.0 438.7h0M364.9 432.6h0M359.7 434.0h0M361.2 432.7h0M376.2 442.9h0M378.2 436.9h0M373.2 433.0h0M362.6 442.0h0M359.9 447.6h0M357.6 430.7h0M360.0 437.9h0M370.5 433.9h0M358.3 437.2h0M368.9 433.2h0M359.3 437.6h0M369.0 435.4h0M372.2 435.0h0M370.8 437.6h0M383.4 436.4h0M368.6 429.0h0M368.7 432.1h0M381.4 439.0h0M378.4 436.0h0M382.5 435.5h0M370.4 435.9h0M384.8 435.9h0M374.3 440.4h0M373.1 437.5h0M369.6 436.6h0M394.3 257.3h0M395.7 261.0h0M399.9 270.1h0M393.4 269.2h0M397.4 272.7h0M394.8 264.8h0M394.5 266.7h0M393.5 259.6h0M393.7 266.6h0M392.1 260.5h0M396.9 270.4h0M397.5 265.9h0M393.0 277.1h0M392.2 272.4h0M395.9 272.1h0M394.4 260.5h0M393.9 262.8h0M397.4 262.2h0M392.1 266.1h0M396.2 262.7h0M392.9 263.0h0M392.1 270.1h0M396.2 264.5h0M399.5 267.9h0M399.1 267.2h0M393.2 266.9h0M396.0 267.1h0M394.2 271.4h0M396.3 264.9h0M396.2 267.7h0M396.1 270.2h0M398.6 266.6h0M394.2 265.2h0M393.7 269.7h0M399.8 263.9h0M395.1 268.3h0M395.3 264.6h0M393.7 258.8h0M396.1 272.4h0M401.7 264.7h0M392.2 274.6h0M399.6 266.8h0M398.3 264.5h0M393.7 259.8h0M398.1 267.8h0M397.6 257.3h0M393.3 262.1h0M394.9 264.7h0M398.1 267.9h0M398.3 267.2h0M396.6 260.2h0M392.4 265.2h0M392.1 273.2h0M392.3 274.5h0M394.5 272.5h0M398.4 266.2h0M393.8 264.2h0M394.6 270.5h0M400.3 266.3h0M400.6 261.9h0M400.7 263.4h0M398.0 263.7h0M398.2 258.7h0M398.7 265.3h0M392.9 268.8h0M399.9 270.2h0M393.4 262.3h0M401.6 266.0h0M400.6 266.7h0M397.5 263.1h0M340.7 616.0h0M342.8 615.6h0M340.0 622.3h0M352.5 619.1h0M339.1 622.7h0M338.4 621.7h0M335.5 622.9h0M356.7 618.6h0M358.9 620.4h0M338.9 631.3h0M335.9 614.5h0M361.8 619.1h0M345.1 618.4h0M349.3 622.6h0M360.3 621.4h0M339.8 617.7h0M350.8 615.6h0M344.6 618.9h0M345.2 617.6h0M346.9 618.4h0M364.0 616.6h0M335.0 621.4h0M343.7 616.1h0M335.8 624.1h0M350.2 615.1h0M406.3 618.9h0M402.4 614.5h0M404.0 615.7h0M419.1 624.1h0M411.6 623.4h0M417.8 622.7h0M408.6 623.2h0M401.5 623.6h0M403.7 617.6h0M412.3 622.3h0M412.4 621.9h0M417.6 621.7h0M410.0 625.1h0M400.2 629.3h0M400.6 366.3h0M409.9 545.6h0M435.0 372.5h0M419.5 336.7h0M410.2 494.2h0M426.4 364.6h0M390.1 461.8h0M401.2 591.8h0M391.0 443.8h0M414.5 485.8h0M412.3 472.3h0M368.3 564.0h0M388.6 242.9h0M390.1 200.9h0M381.5 145.3h0M394.7 604.7h0M404.5 516.9h0M384.8 275.2h0M382.4 129.1h0M381.3 164.3h0M340.7 577.8h0M416.8 369.3h0M353.5 194.7h0M364.9 584.6h0M348.5 588.0h0M399.5 513.7h0M343.7 216.6h0M372.0 569.8h0M395.7 239.6h0M413.3 414.1h0M360.0 230.8h0M390.0 167.1h0M416.6 468.8h0M377.7 582.4h0M364.4 629.1h0M368.9 145.2h0M395.8 197.8h0M375.0 426.3h0M410.5 443.0h0M371.4 503.5h0M381.1 306.9h0M393.9 209.6h0M358.0 330.6h0M380.4 608.0h0M397.8 213.8h0M393.5 189.6h0M389.6 592.5h0M372.7 209.8h0M383.3 289.6h0M360.6 604.1h0M417.6 352.1h0M422.6 468.9h0M402.1 476.3h0M364.8 620.9h0M396.1 417.9h0M417.5 498.2h0M359.9 297.0h0M368.9 248.5h0M410.7 357.7h0M339.6 255.2h0M387.8 468.1h0M375.7 196.0h0M437.8 361.4h0M368.0 423.1h0M380.6 632.4h0M385.8 267.1h0M390.0 177.7h0M406.2 370.8h0M410.1 337.6h0M384.0 269.2h0M398.3 187.9h0M379.2 251.6h0M369.6 597.0h0M404.4 626.3h0M390.0 628.4h0M397.8 562.5h0M362.9 601.3h0M361.3 261.6h0M409.8 371.5h0M379.9 277.1h0M385.3 509.5h0M438.0 361.3h0M342.0 510.6h0M376.1 146.4h0M350.1 611.7h0M362.8 604.0h0M414.4 437.4h0M394.6 220.1h0M371.5 299.7h0M376.4 124.9h0M369.5 192.5h0M380.5 449.0h0M416.3 362.7h0M372.0 205.5h0M410.6 455.3h0M383.2 586.6h0M398.4 358.2h0M414.3 396.7h0M436.0 486.7h0M389.1 637.4h0M390.0 416.4h0M427.2 388.3h0M350.7 586.6h0M376.7 192.3h0M410.6 269.1h0M363.6 619.6h0M383.3 130.4h0M404.1 382.6h0M412.3 476.3h0M411.3 272.2h0M348.5 177.5h0M369.7 152.5h0M369.5 194.5h0M361.0 207.8h0M351.5 216.0h0M347.6 226.0h0M354.0 257.5h0M350.5 280.0h0M368.5 333.0h0M337.0 385.0h0M376.0 388.5h0M380.5 396.0h0" stroke="#6d6e71" stroke-opacity="0.9" stroke-width="1.45" stroke-linecap="round" fill="none"/>
<path d="M300.2 117.4H454.4V647.6H300.2Z M392.5 117.4V647.6M297.0 148.6H300.2M297.0 179.8H300.2M297.0 211.0H300.2M297.0 242.2H300.2M297.0 273.4H300.2M297.0 304.6H300.2M297.0 335.8H300.2M297.0 367.0H300.2M297.0 398.2H300.2M297.0 429.4H300.2M297.0 460.6H300.2M297.0 491.8H300.2M297.0 523.0H300.2M297.0 554.2H300.2M297.0 585.4H300.2M297.0 616.6H300.2M299.9 648.8000000000001v-3.4M306.1 648.8000000000001v-2.6M312.3 648.8000000000001v-2.6M318.5 648.8000000000001v-2.6M324.6 648.8000000000001v-2.6M330.8 648.8000000000001v-3.4M337.0 648.8000000000001v-2.6M343.1 648.8000000000001v-2.6M349.3 648.8000000000001v-2.6M355.5 648.8000000000001v-2.6M361.6 648.8000000000001v-3.4M367.8 648.8000000000001v-2.6M374.0 648.8000000000001v-2.6M380.2 648.8000000000001v-2.6M386.3 648.8000000000001v-2.6M392.5 648.8000000000001v-3.4M398.7 648.8000000000001v-2.6M404.8 648.8000000000001v-2.6M411.0 648.8000000000001v-2.6M417.2 648.8000000000001v-2.6M423.4 648.8000000000001v-3.4M429.5 648.8000000000001v-2.6M435.7 648.8000000000001v-2.6M441.9 648.8000000000001v-2.6M448.0 648.8000000000001v-2.6M454.2 648.8000000000001v-3.4" stroke="#2a2a2a" stroke-width="1.5" fill="none"/>
<text x="436.6" y="194.5" font-size="14.6" textLength="13.3" lengthAdjust="spacingAndGlyphs">IV</text>
<text x="408.0" y="253.3" font-size="14.6" textLength="11.0" lengthAdjust="spacingAndGlyphs">III</text>
<text x="409.8" y="275.9" font-size="14.6" textLength="7.0" lengthAdjust="spacingAndGlyphs">II</text>
<text x="435.2" y="391.4" font-size="14.6" textLength="17.0" lengthAdjust="spacingAndGlyphs">6p</text>
<text x="355.7" y="437.7" font-size="14.6" textLength="17.3" lengthAdjust="spacingAndGlyphs">5n</text>
<text x="403.9" y="456.3" font-size="14.6" textLength="48.3" lengthAdjust="spacingAndGlyphs">ZHUCE</text>
<text x="431.3" y="482.2" font-size="14.6" textLength="17.2" lengthAdjust="spacingAndGlyphs">5p</text>
<text x="347.9" y="516.2" font-size="14.6" textLength="16.3" lengthAdjust="spacingAndGlyphs">4n</text>
<text x="345.1" y="536.9" font-size="14.6" textLength="16.4" lengthAdjust="spacingAndGlyphs">3n</text>
<text x="336.8" y="560.4" font-size="14.6" textLength="16.4" lengthAdjust="spacingAndGlyphs">2n</text>
<text x="331.0" y="598.0" font-size="14.6" textLength="15.9" lengthAdjust="spacingAndGlyphs">1n</text>
<text x="331.0" y="611.1" font-size="14.6" textLength="35.3" lengthAdjust="spacingAndGlyphs">BACE</text>
<text x="419.8" y="520.3" font-size="14.6" textLength="30.1" lengthAdjust="spacingAndGlyphs">4.5p</text>
<text x="426.9" y="532.6" font-size="14.6" textLength="16.4" lengthAdjust="spacingAndGlyphs">4p</text>
<text x="426.9" y="551.5" font-size="14.6" textLength="16.4" lengthAdjust="spacingAndGlyphs">3p</text>
<text x="432.2" y="580.7" font-size="14.6" textLength="16.8" lengthAdjust="spacingAndGlyphs">2p</text>
<text x="394.2" y="590.4" font-size="14.6" textLength="29.7" lengthAdjust="spacingAndGlyphs">1.5p</text>
<text x="308.3" y="548.9" font-size="19" textLength="8.0" lengthAdjust="spacingAndGlyphs">?</text>
<text x="284.1" y="667.1" font-size="13.8" textLength="22.2" lengthAdjust="spacingAndGlyphs">-15</text>
<text x="316.1" y="667.1" font-size="13.8" textLength="22.6" lengthAdjust="spacingAndGlyphs">-10</text>
<text x="351.5" y="667.1" font-size="13.8" textLength="13.7" lengthAdjust="spacingAndGlyphs">-5</text>
<text x="385.8" y="667.1" font-size="13.8" textLength="8.8" lengthAdjust="spacingAndGlyphs">0</text>
<text x="414.8" y="667.1" font-size="13.8" textLength="7.3" lengthAdjust="spacingAndGlyphs">5</text>
<text x="440.4" y="667.1" font-size="13.8" textLength="15.1" lengthAdjust="spacingAndGlyphs">10</text>
<text font-size="14.6"><tspan x="366.2" y="688.7" textLength="23.6" lengthAdjust="spacingAndGlyphs">(‰</tspan><tspan x="390.1" y="693.4" font-size="7.9" textLength="21.6" lengthAdjust="spacingAndGlyphs">VPDB</tspan><tspan x="412.2" y="688.7" textLength="5.0" lengthAdjust="spacingAndGlyphs">)</tspan></text>
<text x="308.7" y="50.2" font-size="15" textLength="135.5" lengthAdjust="spacingAndGlyphs">Global biotic LOs &amp;</text>
<text x="314.2" y="72.2" font-size="15" textLength="124.5" lengthAdjust="spacingAndGlyphs">Global composite</text>
<text x="354.1" y="94.2" font-size="16" textLength="46.9" lengthAdjust="spacingAndGlyphs">δ<tspan font-size="9" dy="-6.5">13</tspan><tspan dy="6.5">C</tspan><tspan font-size="8.6" dy="5">carb</tspan></text>
<path d="M361.5 481.9H383" stroke="#1d1d1d" stroke-width="1.3" fill="none"/><path d="M392 481.9L381.8 477.1V486.7Z" fill="#1d1d1d"/>
<path d="M311.5 423.5V572" stroke="#333" stroke-width="1.15" stroke-dasharray="5.2 3.4" fill="none"/><path d="M311.5 577L309 570.5H314Z" fill="#333"/>
</g>
<g id="sections">
<rect x="557.5" y="318.5" width="18.6" height="218.8" fill="url(#cbS)"/>
<rect x="685.8" y="338.5" width="18.6" height="218.5" fill="url(#cbK)"/>
<rect x="820.3" y="365.2" width="18.5" height="276.0" fill="url(#cbR)"/>
<rect x="481.5" y="318.5" width="74.2" height="20" fill="#fff"/>
<rect x="610.7" y="338.5" width="73.5" height="54.1" fill="#fff"/>
<rect x="743.8" y="318.3" width="74.8" height="15.5" fill="#fff"/>
<path d="M481.5 318.5H555.7V537.5H481.5Z M525.7 318.5V537.5M481.5 537.5v2.4M496.2 537.5v2.4M511.0 537.5v2.4M525.7 537.5v2.4M540.5 537.5v2.4M555.2 537.5v2.4" stroke="#1f1f1f" stroke-width="1.35" fill="none"/>
<path d="M610.7 338.5H684.2V556.8H610.7Z M655.2 338.5V556.8M611.0 556.8v2.4M625.7 556.8v2.4M640.5 556.8v2.4M655.2 556.8v2.4M670.0 556.8v2.4M684.7 556.8v2.4" stroke="#1f1f1f" stroke-width="1.35" fill="none"/>
<path d="M743.8 318.3H818.6V641.6H743.8Z M788.4 318.3V641.6M744.1 641.6v2.4M758.9 641.6v2.4M773.6 641.6v2.4M788.4 641.6v2.4M803.1 641.6v2.4M817.9 641.6v2.4" stroke="#1f1f1f" stroke-width="1.35" fill="none"/>
<path d="M577.8 318.5H591.6L584.8 379Z M577.8 386H591.6L584.8 537.3Z M706.3 338.5H720.3L713.3 426.5Z M706.3 428.3H720.3L713.3 555.3Z M841 365.4H855.1L848.2 639.5Z" fill="#1c1a1b"/>
<path d="M523.0 325.0h0M521.6 341.8h0M520.4 343.8h0M520.4 352.4h0M523.9 389.5h0M526.6 406.0h0M527.8 416.9h0" stroke="#0d0d0d" stroke-width="4.3" stroke-linecap="round" fill="none"/>
<path d="M527.8 417.0h0M527.8 433.0h0M527.4 441.8h0M527.4 447.0h0M526.6 451.5h0M524.8 456.0h0M525.3 458.6h0M523.9 462.0h0M526.0 469.2h0M521.3 475.4h0M522.1 480.7h0M522.7 483.3h0M526.2 489.5h0M526.0 495.7h0M527.1 499.2h0M526.0 502.7h0M526.0 506.3h0M524.8 512.5h0M523.9 516.0h0M523.0 521.3h0M525.0 465.5h0M525.6 472.0h0M524.4 509.0h0M523.4 518.6h0M526.4 486.4h0M526.8 492.5h0" stroke="#0d0d0d" stroke-width="3.9" stroke-linecap="round" fill="none"/>
<path d="M508.5 526.2h0" stroke="#0d0d0d" stroke-width="4.3" stroke-linecap="round" fill="none"/>
<path d="M651.8 350.5h0M650.6 378.2h0M648.6 399.6h0M646.8 413.2h0M642.7 421.6h0M646.2 426.7h0M640.7 463.4h0M648.2 469.0h0M653.8 473.0h0M660.2 486.5h0M649.6 489.5h0M648.2 498.5h0M654.6 507.1h0M642.1 518.2h0M640.1 523.2h0M644.5 527.8h0M636.7 534.2h0M616.7 543.2h0M621.7 548.8h0" stroke="#0d0d0d" stroke-width="4.3" stroke-linecap="round" fill="none"/>
<path d="M793.3 370.0h0M793.3 381.0h0M793.3 404.5h0M790.7 413.7h0M788.9 416.3h0M785.7 421.6h0M783.6 426.9h0M777.9 434.5h0M782.2 437.7h0M781.3 443.0h0M782.4 453.9h0M792.4 461.5h0M793.8 469.5h0M794.5 473.0h0M795.1 475.6h0M797.7 481.5h0M795.1 492.4h0M794.2 495.1h0M792.4 499.5h0M793.7 503.9h0M793.3 506.9h0M794.2 512.7h0M786.6 517.7h0M759.4 588.6h0M770.9 625.3h0" stroke="#0d0d0d" stroke-width="4.2" stroke-linecap="round" fill="none"/>
<path d="M651.8 448.3h2.8M785.6 533.9h2.4M524 437.5h1.4" stroke="#111" stroke-width="1.1"/>
<text x="481.8" y="555.6" font-size="14.2" textLength="19.6" lengthAdjust="spacingAndGlyphs">-10</text>
<text x="520.4" y="555.6" font-size="14.2" textLength="8.0" lengthAdjust="spacingAndGlyphs">0</text>
<text x="543.5" y="555.6" font-size="14.2" textLength="18.3" lengthAdjust="spacingAndGlyphs">10</text>
<text x="610.0" y="574.3" font-size="14.2" textLength="21.0" lengthAdjust="spacingAndGlyphs">-10</text>
<text x="650.0" y="574.3" font-size="14.2" textLength="7.8" lengthAdjust="spacingAndGlyphs">0</text>
<text x="675.6" y="574.3" font-size="14.2" textLength="15.6" lengthAdjust="spacingAndGlyphs">10</text>
<text x="743.8" y="660.1" font-size="14.2" textLength="23.0" lengthAdjust="spacingAndGlyphs">-10</text>
<text x="783.6" y="660.1" font-size="14.2" textLength="7.9" lengthAdjust="spacingAndGlyphs">0</text>
<text x="809.2" y="660.1" font-size="14.2" textLength="16.4" lengthAdjust="spacingAndGlyphs">10</text>
<text font-size="14.6"><tspan x="499.3" y="578.6" textLength="23.2" lengthAdjust="spacingAndGlyphs">(‰</tspan><tspan x="522.8" y="583.3" font-size="7.9" textLength="21.3" lengthAdjust="spacingAndGlyphs">VPDB</tspan><tspan x="544.6" y="578.6" textLength="4.9" lengthAdjust="spacingAndGlyphs">)</tspan></text>
<text font-size="14.6"><tspan x="628.7" y="597.0" textLength="23.4" lengthAdjust="spacingAndGlyphs">(‰</tspan><tspan x="652.4" y="601.7" font-size="7.9" textLength="21.4" lengthAdjust="spacingAndGlyphs">VPDB</tspan><tspan x="674.2" y="597.0" textLength="5.0" lengthAdjust="spacingAndGlyphs">)</tspan></text>
<text font-size="14.6"><tspan x="762.4" y="681.3" textLength="23.3" lengthAdjust="spacingAndGlyphs">(‰</tspan><tspan x="786.0" y="686.0" font-size="7.9" textLength="21.3" lengthAdjust="spacingAndGlyphs">VPDB</tspan><tspan x="807.8" y="681.3" textLength="4.9" lengthAdjust="spacingAndGlyphs">)</tspan></text>
<text x="481.0" y="288.0" font-size="15.4" textLength="99.4" lengthAdjust="spacingAndGlyphs">Sugaitebulake</text>
<text x="481.0" y="308.6" font-size="15.4" textLength="47.6" lengthAdjust="spacingAndGlyphs">(SGTB)</text>
<text x="612.8" y="307.6" font-size="15.4" textLength="96.4" lengthAdjust="spacingAndGlyphs">Kungaikuotan</text>
<text x="612.8" y="328.4" font-size="15.4" textLength="46.6" lengthAdjust="spacingAndGlyphs">(KGKT)</text>
<text x="747.0" y="287.0" font-size="15.4" textLength="57.9" lengthAdjust="spacingAndGlyphs">Shiairike</text>
<text x="746.5" y="308.5" font-size="15.4" textLength="46.8" lengthAdjust="spacingAndGlyphs">(SARK)</text>
<text x="620.1" y="205.0" font-size="15" textLength="92.3" lengthAdjust="spacingAndGlyphs">TARIM BASIN</text>
<text x="486.0" y="233.6" font-size="15" textLength="89.0" lengthAdjust="spacingAndGlyphs">SHALLOWER</text>
<text x="776.7" y="233.9" font-size="15" textLength="54.8" lengthAdjust="spacingAndGlyphs">DEEPER</text>
<path d="M483.5 210.6V218.9M483.5 214.2H850" stroke="#58595b" stroke-width="1.4" fill="none"/>
<path d="M839 208.4L854.6 214.2L839 220.4L842.6 214.2Z" fill="#fff" stroke="#58595b" stroke-width="1.2" stroke-linejoin="miter"/>
<text x="891.6" y="205.0" font-size="15.4" textLength="91.7" lengthAdjust="spacingAndGlyphs">Schematic of</text>
<text x="867.5" y="225.6" font-size="15.4" textLength="140.0" lengthAdjust="spacingAndGlyphs">basin-wide nutrient</text>
<text x="877.8" y="246.7" font-size="15.4" textLength="123.4" lengthAdjust="spacingAndGlyphs">cycling and redox</text>
<text x="905.0" y="267.7" font-size="15.4" textLength="66.8" lengthAdjust="spacingAndGlyphs">evolution</text>
</g>
<g id="boxes">
<rect x="870.8" y="280.1" width="138.20000000000005" height="86.89999999999998" fill="#fff"/>
<path d="M870.8 291.8 L1009.0 291.8 L1009.0 354.3 L1007.9 354.3 L1004.5 354.6 L1000.4 354.3 L992.5 352.2 L984.8 349.6 L977.0 346.7 L969.2 343.3 L963.5 340.8 L958.3 337.9 L956.4 336.2 L954.4 334.0 L951.0 332.4 L947.4 330.1 L945.6 327.0 L943.5 323.8 L940.5 322.6 L938.0 320.7 L937.3 319.3 L936.5 317.6 L934.0 316.2 L930.2 315.2 L922.0 313.0 L917.7 312.9 L915.5 313.6 L913.0 314.0 L905.0 312.6 L897.4 310.9 L889.0 308.6 L881.8 306.7 L876.0 303.0 L871.7 301.2Z" fill="url(#sea0)"/>
<path d="M898 310.6C915 309.6 940 309.7 959.5 310.3C965 310.6 969.5 312 968.6 315C966.5 321.5 960 329 953.4 331.9L947.4 330.1L943.5 323.8L938 320.7L936.5 317.6L930.2 315.2L917.7 312.9L913 314Z" fill="#ff2d21"/>
<path d="M871.7 301.2 L876.0 303.0 L881.8 306.7 L889.0 308.6 L897.4 310.9 L905.0 312.6 L913.0 314.0 L915.5 313.6 L917.7 312.9 L922.0 313.0 L930.2 315.2 L934.0 316.2 L936.5 317.6 L937.3 319.3 L938.0 320.7 L940.5 322.6 L943.5 323.8 L945.6 327.0 L947.4 330.1 L951.0 332.4 L954.4 334.0 L956.4 336.2 L958.3 337.9 L963.5 340.8 L969.2 343.3 L977.0 346.7 L984.8 349.6 L992.5 352.2 L1000.4 354.3 L1004.5 354.6 L1007.9 354.3 L1009 354.3 L1009 367 L870.8 367 L870.8 301.2Z" fill="#fff"/>
<path d="M871.7 301.2 L876.0 303.0 L881.8 306.7 L889.0 308.6 L897.4 310.9 L905.0 312.6 L913.0 314.0 L915.5 313.6 L917.7 312.9 L922.0 313.0 L930.2 315.2 L934.0 316.2 L936.5 317.6 L937.3 319.3 L938.0 320.7 L940.5 322.6 L943.5 323.8 L945.6 327.0 L947.4 330.1 L951.0 332.4 L954.4 334.0 L956.4 336.2 L958.3 337.9 L963.5 340.8 L969.2 343.3 L977.0 346.7 L984.8 349.6 L992.5 352.2 L1000.4 354.3 L1004.5 354.6 L1007.9 354.3" stroke="#1c1a1b" stroke-width="2.1" fill="none" stroke-linejoin="round" stroke-linecap="round"/>
<path d="M877 291.2Q883 296.5 889 297.8" stroke="#5bbf2b" stroke-width="2.4" fill="none" stroke-linecap="round"/><path d="M899 298.2L883.8 289.6L887.6 297.6L883.4 305.6Z" fill="#5bbf2b"/>
<path d="M904 297.8q3.5-2 7-0.8t7 0.4t7-0.7t7 0.2t7-0.7t3-0.2" stroke="#5bbf2b" stroke-width="2.5" fill="none" stroke-linecap="round"/>
<path d="M943 322C949.5 321 949.5 313.6 944 312.8" stroke="#5bbf2b" stroke-width="1.5" fill="none" stroke-linecap="round"/><path d="M938.4 312.4L945.4 309.6L944.4 313L946 316.2Z" fill="#5bbf2b"/>
<path d="M1007.6 348.6C991 346 978 338 971 331.2" stroke="#5bbf2b" stroke-width="2.4" fill="none"/><path d="M966.6 326.6L978.6 329.2L973 331.6L970.8 338.4Z" fill="#5bbf2b"/>
<rect x="870.8" y="281.2" width="138.2" height="84.7" fill="none" stroke="#231f20" stroke-width="2.2"/>
<path d="M882.6 361V345.4" stroke="#1c1a1b" stroke-width="2.7" fill="none"/><path d="M882.6 338.79999999999995Q886.0 348.4 893.8000000000001 354.0Q887.0 351.4 882.6 349.79999999999995Q878.2 351.4 871.4 354.0Q879.2 348.4 882.6 338.79999999999995Z" fill="#1c1a1b"/>
<path d="M874.3 428.7 L1009.0 428.7 L1009.0 480.7 L1007.9 480.7 L1004.5 481.0 L1000.4 480.7 L992.5 478.6 L984.8 476.0 L977.0 473.1 L969.2 469.7 L963.5 467.2 L958.3 464.3 L956.4 462.6 L954.4 460.4 L951.0 458.8 L947.4 456.5 L945.6 453.4 L943.5 450.2 L940.5 449.0 L938.0 447.1 L937.3 445.7 L936.5 444.0 L934.0 442.6 L930.2 441.6 L922.0 439.4 L917.7 439.3 L915.5 440.0 L913.0 440.4 L905.0 439.0 L897.4 437.3 L889.0 435.0 L881.8 433.1 L876.0 429.4Z" fill="url(#sea1)"/>
<path d="M871.7 427.6 L876.0 429.4 L881.8 433.1 L889.0 435.0 L897.4 437.3 L905.0 439.0 L913.0 440.4 L915.5 440.0 L917.7 439.3 L922.0 439.4 L930.2 441.6 L934.0 442.6 L936.5 444.0 L937.3 445.7 L938.0 447.1 L940.5 449.0 L943.5 450.2 L945.6 453.4 L947.4 456.5 L951.0 458.8 L954.4 460.4 L956.4 462.6 L958.3 464.3 L963.5 467.2 L969.2 469.7 L977.0 473.1 L984.8 476.0 L992.5 478.6 L1000.4 480.7 L1004.5 481.0 L1007.9 480.7 L1009 480.7 L1009 494.2 L870.8 494.2 L870.8 427.6Z" fill="#fff"/>
<path d="M871.7 427.6 L876.0 429.4 L881.8 433.1 L889.0 435.0 L897.4 437.3 L905.0 439.0 L913.0 440.4 L915.5 440.0 L917.7 439.3 L922.0 439.4 L930.2 441.6 L934.0 442.6 L936.5 444.0 L937.3 445.7 L938.0 447.1 L940.5 449.0 L943.5 450.2 L945.6 453.4 L947.4 456.5 L951.0 458.8 L954.4 460.4 L956.4 462.6 L958.3 464.3 L963.5 467.2 L969.2 469.7 L977.0 473.1 L984.8 476.0 L992.5 478.6 L1000.4 480.7 L1004.5 481.0 L1007.9 480.7" stroke="#1c1a1b" stroke-width="2.1" fill="none" stroke-linejoin="round" stroke-linecap="round"/>
<path d="M900 432.4q2.8-1.6 5.6-0.4t5.6 0.2t5.6-0.5t5.2-0.1" stroke="#5bbf2b" stroke-width="1.4" fill="none" stroke-linecap="round"/>
<path d="M944.3 439.8V446" stroke="#5bbf2b" stroke-width="2.2" fill="none"/><path d="M944.3 452L938.4 442.6L944.3 445.4L950.4 442.6Z" fill="#5bbf2b"/>
<path d="M1007.6 476.6C1001 476.4 996 474.6 993 472.8" stroke="#5bbf2b" stroke-width="2" fill="none"/><path d="M988.4 470L996.6 470.6L993.4 472.8L992.4 477.4Z" fill="#5bbf2b"/>
<rect x="870.8" y="409.0" width="138.2" height="84.1" fill="none" stroke="#231f20" stroke-width="2.2"/>
<path d="M886.0 572.4 L1009.0 572.4 L1009.0 618.9 L1007.9 618.9 L1004.5 619.2 L1000.4 618.9 L992.5 616.8 L984.8 614.2 L977.0 611.3 L969.2 607.9 L963.5 605.4 L958.3 602.5 L956.4 600.8 L954.4 598.6 L951.0 597.0 L947.4 594.7 L945.6 591.6 L943.5 588.4 L940.5 587.2 L938.0 585.3 L937.3 583.9 L936.5 582.2 L934.0 580.8 L930.2 579.8 L922.0 577.6 L917.7 577.5 L915.5 578.2 L913.0 578.6 L905.0 577.2 L897.4 575.5 L889.0 573.2Z" fill="url(#sea2)"/>
<path d="M900 575.6C930 574.4 975 574.4 995 575.6C1001 576.2 1004 579.2 1002.6 583.2C999 593 989 603 978.6 608.6L969.2 607.9L958.3 602.5L954.4 598.6L947.4 594.7L943.5 588.4L938 585.3L936.5 582.2L930.2 579.8L917.7 577.5L913 578.6Z" fill="#ff2d21"/>
<path d="M871.7 565.8 L876.0 567.6 L881.8 571.3 L889.0 573.2 L897.4 575.5 L905.0 577.2 L913.0 578.6 L915.5 578.2 L917.7 577.5 L922.0 577.6 L930.2 579.8 L934.0 580.8 L936.5 582.2 L937.3 583.9 L938.0 585.3 L940.5 587.2 L943.5 588.4 L945.6 591.6 L947.4 594.7 L951.0 597.0 L954.4 598.6 L956.4 600.8 L958.3 602.5 L963.5 605.4 L969.2 607.9 L977.0 611.3 L984.8 614.2 L992.5 616.8 L1000.4 618.9 L1004.5 619.2 L1007.9 618.9 L1009 618.9 L1009 632.2 L870.8 632.2 L870.8 565.8Z" fill="#fff"/>
<path d="M871.7 565.8 L876.0 567.6 L881.8 571.3 L889.0 573.2 L897.4 575.5 L905.0 577.2 L913.0 578.6 L915.5 578.2 L917.7 577.5 L922.0 577.6 L930.2 579.8 L934.0 580.8 L936.5 582.2 L937.3 583.9 L938.0 585.3 L940.5 587.2 L943.5 588.4 L945.6 591.6 L947.4 594.7 L951.0 597.0 L954.4 598.6 L956.4 600.8 L958.3 602.5 L963.5 605.4 L969.2 607.9 L977.0 611.3 L984.8 614.2 L992.5 616.8 L1000.4 618.9 L1004.5 619.2 L1007.9 618.9" stroke="#1c1a1b" stroke-width="2.1" fill="none" stroke-linejoin="round" stroke-linecap="round"/>
<path d="M925.5 575.8q4-1.6 8-0.4t8 0.3t8-0.5t8 0.3t8-0.4t8 0.3t7.5-0.2" stroke="#5bbf2b" stroke-width="2.4" fill="none" stroke-linecap="round"/>
<path d="M951 599.6C957 597.6 959.6 591.4 954.6 588.4" stroke="#5bbf2b" stroke-width="2.3" fill="none" stroke-linecap="round"/><path d="M947 586.2L957.4 582.4L955.6 588L958.2 593Z" fill="#5bbf2b"/>
<path d="M1007.6 613.4C991 611 979 603.6 972.4 596.6" stroke="#5bbf2b" stroke-width="2.6" fill="none"/><path d="M966.4 590.4L981.4 593.4L974.4 596.6L971.6 606Z" fill="#5bbf2b"/>
<rect x="870.8" y="546.7" width="138.2" height="84.4" fill="none" stroke="#231f20" stroke-width="2.2"/>
<path d="M882.6 625.8V610" stroke="#1c1a1b" stroke-width="2.7" fill="none"/><path d="M882.6 603.4Q886.0 613 893.8000000000001 618.6Q887.0 616 882.6 614.4Q878.2 616 871.4 618.6Q879.2 613 882.6 603.4Z" fill="#1c1a1b"/>
</g>
<g id="legends">
<text x="482.8" y="50.2" font-size="15.2" textLength="184.5" lengthAdjust="spacingAndGlyphs">Lowest occurrences (LOs):</text>
<text x="515.1" y="71.6" font-size="15.2" textLength="64.4" lengthAdjust="spacingAndGlyphs">Trilobites</text>
<text x="515.1" y="92.8" font-size="15.2" textLength="88.0" lengthAdjust="spacingAndGlyphs">Brachiopods</text>
<text x="515.1" y="114.0" font-size="15.2" textLength="104.1" lengthAdjust="spacingAndGlyphs">Archaeocyaths</text>
<text x="514.2" y="135.0" font-size="15.2" textLength="67.3" lengthAdjust="spacingAndGlyphs" font-style="italic">Aldanella</text>
<text x="699.3" y="71.8" font-size="15.2" textLength="82.8" lengthAdjust="spacingAndGlyphs">Tommotiids</text>
<text x="699.3" y="92.8" font-size="15.2" textLength="56.9" lengthAdjust="spacingAndGlyphs">Hyoliths</text>
<text x="699.3" y="114.0" font-size="15.2" textLength="61.8" lengthAdjust="spacingAndGlyphs">Molluscs</text>
<text x="699.3" y="135.0" font-size="15.2" textLength="73.6" lengthAdjust="spacingAndGlyphs">Halkieriids</text>
<text x="866.1" y="71.8" font-size="15.2" textLength="99.7" lengthAdjust="spacingAndGlyphs">Chancelloriids</text>
<text x="866.7" y="93.4" font-size="15.2" textLength="134.8" lengthAdjust="spacingAndGlyphs" font-style="italic">Treptichnus pedum</text>
<text x="866.1" y="114.0" font-size="15.2" textLength="81.5" lengthAdjust="spacingAndGlyphs">Anabaritids</text>
<text x="866.1" y="135.6" font-size="15.2" textLength="114.2" lengthAdjust="spacingAndGlyphs">Protoconodonts</text>
<path d="M143.3 708V731.2M139.4 708H147.2M139.4 731.2H147.2" stroke="#2a2a2a" stroke-width="1.2" fill="none"/>
<path d="M139.3 768.5L143.8 755.6L148.2 768.5Z" fill="#1a1a1a"/>
<text x="153.2" y="715.5" font-size="14.6" textLength="68.7" lengthAdjust="spacingAndGlyphs">Analytical</text>
<text x="153.2" y="730.8" font-size="14.6" textLength="80.8" lengthAdjust="spacingAndGlyphs">uncertainty</text>
<text x="153.6" y="752.4" font-size="14.6" textLength="71.0" lengthAdjust="spacingAndGlyphs">Maximum</text>
<text x="153.6" y="767.0" font-size="14.6" textLength="95.1" lengthAdjust="spacingAndGlyphs">Despositional</text>
<text x="153.6" y="781.9" font-size="14.6" textLength="25.1" lengthAdjust="spacingAndGlyphs">Age</text>
<text x="282.8" y="716.2" font-size="14.6" textLength="135.2" lengthAdjust="spacingAndGlyphs">Named excursions:</text>
<text x="282.8" y="737.0" font-size="14.6" textLength="190.7" lengthAdjust="spacingAndGlyphs">ZHUCE: Zhujiaqing positive</text>
<text x="282.8" y="751.4" font-size="14.6" textLength="113.8" lengthAdjust="spacingAndGlyphs">δ<tspan font-size="8.4" dy="-6">13</tspan><tspan dy="6">C</tspan><tspan font-size="8.2" dy="4.6">carb</tspan><tspan dy="-4.6">excursion</tspan></text>
<text x="282.8" y="773.0" font-size="14.6" textLength="155.7" lengthAdjust="spacingAndGlyphs">BACE: Basal Cambrian</text>
<text x="282.8" y="788.2" font-size="14.6" textLength="178.4" lengthAdjust="spacingAndGlyphs">negative δ<tspan font-size="8.4" dy="-6">13</tspan><tspan dy="6">C</tspan><tspan font-size="8.2" dy="4.6">carb</tspan><tspan dy="-4.6">excursion</tspan></text>
<path d="M508.8 600.4V653.1M504.3 600.4H513.4M504.3 653.1H513.4" stroke="#2a2a2a" stroke-width="1.3" fill="none"/>
<text x="520.8" y="652.0" font-size="15.2" textLength="21.4" lengthAdjust="spacingAndGlyphs">5m</text>
<rect x="557.3" y="595.7" width="18.8" height="20.5" fill="#1fb0e6"/><rect x="557.3" y="616" width="18.8" height="19.8" fill="#5f4fa5"/><rect x="557.3" y="635.6" width="18.8" height="18.8" fill="#ff2d21"/>
<text x="580.0" y="609.6" font-size="15.2" textLength="30.5" lengthAdjust="spacingAndGlyphs">Oxic</text>
<text x="580.0" y="631.0" font-size="15.2" textLength="53.4" lengthAdjust="spacingAndGlyphs">Dysoxic</text>
<text x="580.0" y="652.0" font-size="15.2" textLength="85.2" lengthAdjust="spacingAndGlyphs">Ferruginous</text>
<path d="M557.3 680.7H576L566.2 721.8Z" fill="#1c1a1b"/>
<text x="580" y="695.1" font-size="15.2" textLength="150.2" lengthAdjust="spacingAndGlyphs">3<tspan font-size="8.6" dy="-6">rd</tspan><tspan dy="6"> order shallowing-</tspan></text>
<text x="580.0" y="716.5" font-size="15.2" textLength="96.4" lengthAdjust="spacingAndGlyphs">upward cycle</text>
<text x="580.0" y="738.4" font-size="15.2" textLength="155.6" lengthAdjust="spacingAndGlyphs">Elevated productivity</text>
<text x="580.0" y="759.8" font-size="15.2" textLength="78.2" lengthAdjust="spacingAndGlyphs">P recycling</text>
<text x="580.0" y="781.7" font-size="15.2" textLength="91.2" lengthAdjust="spacingAndGlyphs">P drawdown</text>
<path d="M553 730.6q3-2.4 6.2-1.2t5.6 0.8t5.2-0.9t5.2 0.3" stroke="#5bbf2b" stroke-width="2" fill="none" stroke-linecap="round"/>
<path d="M562 762.2C570 760.6 574.6 754.4 567 749.6" stroke="#5bbf2b" stroke-width="2.2" fill="none" stroke-linecap="round"/><path d="M557.6 746.2L568.6 744.2L566.4 749.4L568.6 754.6Z" fill="#5bbf2b"/>
<path d="M565.6 766.8V776" stroke="#5bbf2b" stroke-width="2.2" fill="none" stroke-linecap="round"/><path d="M565.6 783L560.6 772.6L565.6 775.4L570.6 772.6Z" fill="#5bbf2b"/>
<text x="778.4" y="716.5" font-size="15.2" textLength="136.6" lengthAdjust="spacingAndGlyphs">Nutrient upwelling</text>
<text x="778.4" y="738.4" font-size="15.2" textLength="153.6" lengthAdjust="spacingAndGlyphs">Chemical weathering</text>
<text x="778.4" y="760.0" font-size="15.2" textLength="163.0" lengthAdjust="spacingAndGlyphs">Transgression-induced</text>
<text x="778.4" y="781.7" font-size="15.2" textLength="70.0" lengthAdjust="spacingAndGlyphs">upwelling</text>
<path d="M772.3 714.9C764 713.6 756.5 709 751.5 703.4" stroke="#5bbf2b" stroke-width="2.4" fill="none" stroke-linecap="round"/><path d="M743.6 696.8L761.4 701L753.4 704L749.6 713.2Z" fill="#5bbf2b"/>
<path d="M745.6 718.4C750 724.4 757 729.4 765 731.6" stroke="#5bbf2b" stroke-width="2.4" fill="none" stroke-linecap="round"/><path d="M775.4 733.8L762.2 722.4L764.6 731.4L758.8 738.4Z" fill="#5bbf2b"/>
<path d="M762.9 775.4V756" stroke="#1c1a1b" stroke-width="2.3" fill="none"/><path d="M762.9 748.4Q766 758 774.4 763.2Q767 760.2 762.9 758.4Q758.8 760.2 751.4 763.2Q759.8 758 762.9 748.4Z" fill="#1c1a1b"/>
</g>
<g id="icons">
<g transform="translate(483.3 56.3) scale(1)"><path d="M2 13C0.2 6.4 5.6 1.5 12.2 1.5C18.4 1.5 22.4 6 23.4 13.8" stroke="#1b1b1b" stroke-width="3" fill="none" stroke-linecap="round"/><path d="M1.4 12.4C1.6 15.6 6.2 15.8 6.6 12.6C6.9 10.6 5.4 9.4 6 7" stroke="#1b1b1b" stroke-width="2.6" fill="none" stroke-linecap="round"/><path d="M19.2 4.6L24.1 14.8L17.4 14.1C19.6 11.4 20.2 7.8 19.2 4.6Z" fill="#1b1b1b"/><path d="M9 14.4C10.6 12 10.4 8.6 12.6 6C14.6 5.4 17 6.4 17.2 8.8C17.4 11 16 13.2 14.8 14.4Z" fill="#b4b5b7"/><path d="M11 12.6L15.2 11.4L11.6 10.2L16 9L12.4 7.8L15.8 6.8M13.2 6V14.2" stroke="#3a3a3a" stroke-width="0.8" fill="none"/><path d="M8.6 14.6C11 15.3 14 15.3 17 14.4" stroke="#4a4a4a" stroke-width="0.8" fill="none"/></g>
<g transform="translate(486.5 79.7) scale(1)"><path d="M8.6 0.6C13.6 0.2 17.2 3.4 17.2 7.2C17.2 11.4 13 14.4 8.2 14.2C3.6 14 0.4 11 0.4 7C0.4 3.4 3.8 0.9 8.6 0.6Z" fill="#e3e4e5" stroke="#8a8b8e" stroke-width="0.8"/><path d="M2 4.4C3.4 8 6 11.4 9.4 13.6M3.8 2.8C5 6.4 7.4 10 10.6 12.6M6 1.6C6.6 4.6 8.4 8 11 10.6" stroke="#8a8b8e" stroke-width="0.7" fill="none"/><path d="M7.2 1.2C10.6 0 14.4 1.4 14.6 4.2C13.2 6.2 9.2 5.6 7.2 1.2Z" fill="#1b1b1b"/><circle cx="10.6" cy="2.9" r="1" fill="#fff"/><path d="M16.4 5.4C17.8 8.8 15.4 12.4 11.6 13.6C10.6 12.2 10.8 10.4 12.2 9.4C14.4 9 15.8 7.4 16.4 5.4Z" fill="#1b1b1b"/></g>
<g transform="translate(495.3 108.2) scale(1.02)"><path d="M-4.2 -7.6L0 -10.4L4.2 -7.6Z" fill="#1b1b1b"/><circle r="8.1" fill="#fff" stroke="#1b1b1b" stroke-width="1.7"/><circle r="5.6" fill="none" stroke="#c3c4c6" stroke-width="2.4" stroke-dasharray="2.5 0.95"/><circle r="3.6" fill="#fff" stroke="#4a4a4a" stroke-width="0.85"/></g>
<g transform="translate(485.3 120.2) scale(1)"><path d="M0.6 12.4C-0.6 5.6 5 0.4 11.6 0.4C18 0.4 22.4 5.2 22.4 11.6C22.4 13.6 22 15.2 21.4 16.4L4.6 16.6C2.4 16 1 14.6 0.6 12.4Z" fill="#1b1b1b"/><g clip-path="url(#domeclip)"><path d="M9.2 6.8L10.1 -1.7M10.4 7.1L13.4 -1.0M11.6 7.7L16.4 0.6M12.6 8.6L19.0 2.8M13.4 9.7L21.0 5.6M13.8 10.9L22.2 8.8M14.0 12.2L22.6 12.2M13.8 13.5L22.2 15.6" stroke="#fff" stroke-width="1.15" fill="none"/><path d="M8.8 6.6C14 6 17.2 10.4 15.4 16.8" stroke="#fff" stroke-width="0.9" fill="none"/></g><circle cx="7.4" cy="11.8" r="2.9" fill="#1b1b1b" stroke="#6a6a6a" stroke-width="0.7"/><path d="M2.6 6.4C4.6 4 7.4 2.8 10 2.9" stroke="#8a8a8a" stroke-width="0.6" fill="none"/></g>
<g transform="translate(670.8 49.2) scale(1)"><path d="M13.6 0.4L16.4 4.4L21.6 10.6L24.6 14.6L21.4 16.2C17.6 14.4 12.6 15.2 9.4 18.6L4.2 21.8L0.2 19L5 13.4L10 6Z" fill="#4d4d4f"/><path d="M0.4 19L4.2 21.8L9.6 18.4L7.4 16.6C5.2 18 2.8 18.8 0.4 19Z" fill="#1b1b1b"/><path d="M3.4 15.6C8.6 12 16.4 10.4 22.6 12.2M5.6 12.6C10 9.4 16 8.2 20.6 9.6M7.8 9.4C11.4 7 15.6 6.2 18.6 7M10 6.4C12.4 5 14.8 4.6 16.8 5M2.2 17.4C8 14 17 12.6 23.6 13.8" stroke="#c9cacc" stroke-width="0.75" fill="none"/></g>
<g transform="translate(679.6 72.2) scale(1)"><path d="M1.9 0.6L6.8 0.9C6.6 8 5.4 14.6 3.2 20.6L0.5 19.8C1.8 13.6 2.2 7 1.9 0.6Z" fill="#e6e7e8" stroke="#3e3e3f" stroke-width="0.95" stroke-linejoin="round"/><path d="M4.4 1.2C4.4 7.6 3.6 14 2 19.8" stroke="#8a8b8e" stroke-width="0.7" fill="none"/></g>
<g transform="translate(677.6 96.4) scale(1)"><path d="M6.8 0.4C9.4 3.4 11.4 7.4 11 11.4C10.6 15.6 7.8 19.2 4.8 19.6C2 19.4 0.2 15.8 0.6 11.6C1 7.4 4 3.6 6.8 0.4Z" fill="#f4f4f4" stroke="#77787b" stroke-width="0.95"/><path d="M2.4 10.6C4.4 12.4 7.4 12.2 9.2 10.2M2 13.6C4.4 15.4 7.6 15 9.6 12.8M3 16.6C5 17.6 7.2 17 8.6 15.6M4.4 7C5.6 7.8 7.2 7.6 8.2 6.6" stroke="#a5a6a9" stroke-width="0.7" fill="none"/></g>
<g transform="translate(681.6 118.6) scale(1)"><path d="M4.8 0.5C7.6 4 10.6 10.6 12.4 21.2L4.4 19.8L0.5 15.6C1 10 2.6 4.4 4.8 0.5Z" fill="#e4e5e6" stroke="#2e2e2f" stroke-width="1" stroke-linejoin="round"/><path d="M4.9 1.6C4.2 7.4 4 13.4 4.5 19.4M6.6 5.4C7.4 10 8 15 8.4 20.2M2.6 8C2.2 11 2.2 14 2.6 17" stroke="#6d6e71" stroke-width="0.7" fill="none"/></g>
<g transform="translate(845.9 67.9) scale(1)"><path d="M0 0L1.6 -17.6" stroke="#2a2a2b" stroke-width="3.6" stroke-linecap="round"/><path d="M0 0L-16.2 -4.2" stroke="#2a2a2b" stroke-width="3.2" stroke-linecap="round"/><path d="M0 0L-14.2 1.8" stroke="#2a2a2b" stroke-width="3.0" stroke-linecap="round"/><path d="M0 0L14.4 -3.4" stroke="#2a2a2b" stroke-width="3.2" stroke-linecap="round"/><path d="M0 0L14.6 1.6" stroke="#2a2a2b" stroke-width="3.0" stroke-linecap="round"/><path d="M0 0L12.4 7.2" stroke="#2a2a2b" stroke-width="3.2" stroke-linecap="round"/><path d="M0 0L-4.4 7.6" stroke="#2a2a2b" stroke-width="2.8" stroke-linecap="round"/><path d="M0 0L-9.4 5.4" stroke="#2a2a2b" stroke-width="2.6" stroke-linecap="round"/><path d="M0.4 -4.9L1.6 -17.1" stroke="#fff" stroke-width="1.9" stroke-linecap="round"/><path d="M-4.5 -1.2L-15.7 -4.1" stroke="#fff" stroke-width="1.5" stroke-linecap="round"/><path d="M-4.0 0.5L-13.8 1.7" stroke="#fff" stroke-width="1.3" stroke-linecap="round"/><path d="M4.0 -1.0L14.0 -3.3" stroke="#fff" stroke-width="1.5" stroke-linecap="round"/><path d="M4.1 0.4L14.2 1.6" stroke="#fff" stroke-width="1.3" stroke-linecap="round"/><path d="M3.5 2.0L12.0 7.0" stroke="#fff" stroke-width="1.5" stroke-linecap="round"/><path d="M-1.2 2.1L-4.3 7.4" stroke="#fff" stroke-width="1.1" stroke-linecap="round"/><path d="M-2.6 1.5L-9.1 5.2" stroke="#fff" stroke-width="0.9" stroke-linecap="round"/><path d="M-2.6 -7V-2.4M-3.4 1.2L3 -1M-8 -2.6L-4.6 -1.6" stroke="#1b1b1b" stroke-width="1.5" fill="none"/></g>
<g transform="translate(830.2 75.6) scale(1)"><path d="M0.8 3.8C0 1.2 2.6 -0.4 5 0.4C7.6 1.2 8.6 3.6 11 5C15 7.2 20.4 7.4 25 5.2C27.6 4 29.8 1.4 32.8 0.6L33.8 3.2L30.8 5.2L32 7L28.8 7.6L28.6 10.2L25.4 9.6L24.4 13.6L21.4 10.8L18.6 13.8L16.8 10.6L13.4 12.6L12.4 9.2L9 10.4L8.6 7.6L5.4 8.2L5.2 6C3.2 6.4 1.6 5.4 1 3.6Z" fill="#fff" stroke="#3e3e3f" stroke-width="0.95" stroke-linejoin="round"/></g>
<g transform="translate(842.0 94.6) scale(1.03)"><path d="M0.6 1L8.6 0.6C8.8 10 7.4 19.6 4.6 28.4L0.7 27.2C2 18.6 2 9.8 0.6 1Z" fill="#f0f0f0" stroke="#2e2e2f" stroke-width="1.05" stroke-linejoin="round"/><path d="M0.9 1L8.5 0.7L8.3 2.2L1.2 2.4Z" fill="#1b1b1b"/><path d="M5.8 2.6C6 10.6 5.2 19 3.2 27" stroke="#8a8b8e" stroke-width="0.7" fill="none"/></g>
<g transform="translate(850.6 118.8) scale(1)"><path d="M1.6 0.5C6.4 5.6 8.8 12.6 7.8 19.4C7.4 22.2 6.4 24.8 5 26.6L1.2 26.2C2.8 18 3 9 1.6 0.5Z" fill="#eeeeee" stroke="#3e3e3f" stroke-width="0.95" stroke-linejoin="round"/><path d="M3.2 5.6C5.4 11.6 5.6 19 3.4 25.8" stroke="#8a8b8e" stroke-width="0.7" fill="none"/></g>
<g transform="translate(305.0 186.8) scale(1.02)"><path d="M2 13C0.2 6.4 5.6 1.5 12.2 1.5C18.4 1.5 22.4 6 23.4 13.8" stroke="#1b1b1b" stroke-width="3" fill="none" stroke-linecap="round"/><path d="M1.4 12.4C1.6 15.6 6.2 15.8 6.6 12.6C6.9 10.6 5.4 9.4 6 7" stroke="#1b1b1b" stroke-width="2.6" fill="none" stroke-linecap="round"/><path d="M19.2 4.6L24.1 14.8L17.4 14.1C19.6 11.4 20.2 7.8 19.2 4.6Z" fill="#1b1b1b"/><path d="M9 14.4C10.6 12 10.4 8.6 12.6 6C14.6 5.4 17 6.4 17.2 8.8C17.4 11 16 13.2 14.8 14.4Z" fill="#b4b5b7"/><path d="M11 12.6L15.2 11.4L11.6 10.2L16 9L12.4 7.8L15.8 6.8M13.2 6V14.2" stroke="#3a3a3a" stroke-width="0.8" fill="none"/><path d="M8.6 14.6C11 15.3 14 15.3 17 14.4" stroke="#4a4a4a" stroke-width="0.8" fill="none"/></g>
<g transform="translate(304.4 293.1) scale(1)"><path d="M8.6 0.6C13.6 0.2 17.2 3.4 17.2 7.2C17.2 11.4 13 14.4 8.2 14.2C3.6 14 0.4 11 0.4 7C0.4 3.4 3.8 0.9 8.6 0.6Z" fill="#e3e4e5" stroke="#8a8b8e" stroke-width="0.8"/><path d="M2 4.4C3.4 8 6 11.4 9.4 13.6M3.8 2.8C5 6.4 7.4 10 10.6 12.6M6 1.6C6.6 4.6 8.4 8 11 10.6" stroke="#8a8b8e" stroke-width="0.7" fill="none"/><path d="M7.2 1.2C10.6 0 14.4 1.4 14.6 4.2C13.2 6.2 9.2 5.6 7.2 1.2Z" fill="#1b1b1b"/><circle cx="10.6" cy="2.9" r="1" fill="#fff"/><path d="M16.4 5.4C17.8 8.8 15.4 12.4 11.6 13.6C10.6 12.2 10.8 10.4 12.2 9.4C14.4 9 15.8 7.4 16.4 5.4Z" fill="#1b1b1b"/></g>
<g transform="translate(311.5 414.8) scale(1.0)"><path d="M-4.2 -7.6L0 -10.4L4.2 -7.6Z" fill="#1b1b1b"/><circle r="8.1" fill="#fff" stroke="#1b1b1b" stroke-width="1.7"/><circle r="5.6" fill="none" stroke="#c3c4c6" stroke-width="2.4" stroke-dasharray="2.5 0.95"/><circle r="3.6" fill="#fff" stroke="#4a4a4a" stroke-width="0.85"/></g>
<g transform="translate(339.4 473.9) scale(0.99)"><path d="M0.6 12.4C-0.6 5.6 5 0.4 11.6 0.4C18 0.4 22.4 5.2 22.4 11.6C22.4 13.6 22 15.2 21.4 16.4L4.6 16.6C2.4 16 1 14.6 0.6 12.4Z" fill="#1b1b1b"/><g clip-path="url(#domeclip)"><path d="M9.2 6.8L10.1 -1.7M10.4 7.1L13.4 -1.0M11.6 7.7L16.4 0.6M12.6 8.6L19.0 2.8M13.4 9.7L21.0 5.6M13.8 10.9L22.2 8.8M14.0 12.2L22.6 12.2M13.8 13.5L22.2 15.6" stroke="#fff" stroke-width="1.15" fill="none"/><path d="M8.8 6.6C14 6 17.2 10.4 15.4 16.8" stroke="#fff" stroke-width="0.9" fill="none"/></g><circle cx="7.4" cy="11.8" r="2.9" fill="#1b1b1b" stroke="#6a6a6a" stroke-width="0.7"/><path d="M2.6 6.4C4.6 4 7.4 2.8 10 2.9" stroke="#8a8a8a" stroke-width="0.6" fill="none"/></g>
<g transform="translate(324.4 441.6) scale(1)"><path d="M13.6 0.4L16.4 4.4L21.6 10.6L24.6 14.6L21.4 16.2C17.6 14.4 12.6 15.2 9.4 18.6L4.2 21.8L0.2 19L5 13.4L10 6Z" fill="#4d4d4f"/><path d="M0.4 19L4.2 21.8L9.6 18.4L7.4 16.6C5.2 18 2.8 18.8 0.4 19Z" fill="#1b1b1b"/><path d="M3.4 15.6C8.6 12 16.4 10.4 22.6 12.2M5.6 12.6C10 9.4 16 8.2 20.6 9.6M7.8 9.4C11.4 7 15.6 6.2 18.6 7M10 6.4C12.4 5 14.8 4.6 16.8 5M2.2 17.4C8 14 17 12.6 23.6 13.8" stroke="#c9cacc" stroke-width="0.75" fill="none"/></g>
<g transform="translate(316.4 471.2) scale(1)"><path d="M1.9 0.6L6.8 0.9C6.6 8 5.4 14.6 3.2 20.6L0.5 19.8C1.8 13.6 2.2 7 1.9 0.6Z" fill="#e6e7e8" stroke="#3e3e3f" stroke-width="0.95" stroke-linejoin="round"/><path d="M4.4 1.2C4.4 7.6 3.6 14 2 19.8" stroke="#8a8b8e" stroke-width="0.7" fill="none"/></g>
<g transform="translate(325.6 472.4) scale(1)"><path d="M6.8 0.4C9.4 3.4 11.4 7.4 11 11.4C10.6 15.6 7.8 19.2 4.8 19.6C2 19.4 0.2 15.8 0.6 11.6C1 7.4 4 3.6 6.8 0.4Z" fill="#f4f4f4" stroke="#77787b" stroke-width="0.95"/><path d="M2.4 10.6C4.4 12.4 7.4 12.2 9.2 10.2M2 13.6C4.4 15.4 7.6 15 9.6 12.8M3 16.6C5 17.6 7.2 17 8.6 15.6M4.4 7C5.6 7.8 7.2 7.6 8.2 6.6" stroke="#a5a6a9" stroke-width="0.7" fill="none"/></g>
<g transform="translate(318.8 529.0) scale(1.05)"><path d="M4.8 0.5C7.6 4 10.6 10.6 12.4 21.2L4.4 19.8L0.5 15.6C1 10 2.6 4.4 4.8 0.5Z" fill="#e4e5e6" stroke="#2e2e2f" stroke-width="1" stroke-linejoin="round"/><path d="M4.9 1.6C4.2 7.4 4 13.4 4.5 19.4M6.6 5.4C7.4 10 8 15 8.4 20.2M2.6 8C2.2 11 2.2 14 2.6 17" stroke="#6d6e71" stroke-width="0.7" fill="none"/></g>
<g transform="translate(330.4 578.0) scale(0.98)"><path d="M0 0L1.6 -17.6" stroke="#2a2a2b" stroke-width="3.6" stroke-linecap="round"/><path d="M0 0L-16.2 -4.2" stroke="#2a2a2b" stroke-width="3.2" stroke-linecap="round"/><path d="M0 0L-14.2 1.8" stroke="#2a2a2b" stroke-width="3.0" stroke-linecap="round"/><path d="M0 0L14.4 -3.4" stroke="#2a2a2b" stroke-width="3.2" stroke-linecap="round"/><path d="M0 0L14.6 1.6" stroke="#2a2a2b" stroke-width="3.0" stroke-linecap="round"/><path d="M0 0L12.4 7.2" stroke="#2a2a2b" stroke-width="3.2" stroke-linecap="round"/><path d="M0 0L-4.4 7.6" stroke="#2a2a2b" stroke-width="2.8" stroke-linecap="round"/><path d="M0 0L-9.4 5.4" stroke="#2a2a2b" stroke-width="2.6" stroke-linecap="round"/><path d="M0.4 -4.9L1.6 -17.1" stroke="#fff" stroke-width="1.9" stroke-linecap="round"/><path d="M-4.5 -1.2L-15.7 -4.1" stroke="#fff" stroke-width="1.5" stroke-linecap="round"/><path d="M-4.0 0.5L-13.8 1.7" stroke="#fff" stroke-width="1.3" stroke-linecap="round"/><path d="M4.0 -1.0L14.0 -3.3" stroke="#fff" stroke-width="1.5" stroke-linecap="round"/><path d="M4.1 0.4L14.2 1.6" stroke="#fff" stroke-width="1.3" stroke-linecap="round"/><path d="M3.5 2.0L12.0 7.0" stroke="#fff" stroke-width="1.5" stroke-linecap="round"/><path d="M-1.2 2.1L-4.3 7.4" stroke="#fff" stroke-width="1.1" stroke-linecap="round"/><path d="M-2.6 1.5L-9.1 5.2" stroke="#fff" stroke-width="0.9" stroke-linecap="round"/><path d="M-2.6 -7V-2.4M-3.4 1.2L3 -1M-8 -2.6L-4.6 -1.6" stroke="#1b1b1b" stroke-width="1.5" fill="none"/></g>
<g transform="translate(344.2 565.6) scale(0.97)"><path d="M0.8 3.8C0 1.2 2.6 -0.4 5 0.4C7.6 1.2 8.6 3.6 11 5C15 7.2 20.4 7.4 25 5.2C27.6 4 29.8 1.4 32.8 0.6L33.8 3.2L30.8 5.2L32 7L28.8 7.6L28.6 10.2L25.4 9.6L24.4 13.6L21.4 10.8L18.6 13.8L16.8 10.6L13.4 12.6L12.4 9.2L9 10.4L8.6 7.6L5.4 8.2L5.2 6C3.2 6.4 1.6 5.4 1 3.6Z" fill="#fff" stroke="#3e3e3f" stroke-width="0.95" stroke-linejoin="round"/></g>
<g transform="translate(305.6 590.4) scale(1.0)"><path d="M1.4 0.5C6.6 6 8.4 14 6.8 21.4C6.2 24.4 5 27.2 3.4 29L0.6 28.2C3.2 19.4 3.4 9.6 1.4 0.5Z" fill="#eeeeee" stroke="#3e3e3f" stroke-width="0.95" stroke-linejoin="round"/><path d="M3 6C4.8 12.6 4.8 20.4 2.6 27.6" stroke="#8a8b8e" stroke-width="0.7" fill="none"/></g>
<g transform="translate(317.6 589.8) scale(1.09)"><path d="M0.6 1L8.6 0.6C8.8 10 7.4 19.6 4.6 28.4L0.7 27.2C2 18.6 2 9.8 0.6 1Z" fill="#f0f0f0" stroke="#2e2e2f" stroke-width="1.05" stroke-linejoin="round"/><path d="M0.9 1L8.5 0.7L8.3 2.2L1.2 2.4Z" fill="#1b1b1b"/><path d="M5.8 2.6C6 10.6 5.2 19 3.2 27" stroke="#8a8b8e" stroke-width="0.7" fill="none"/></g>
<path d="M503.8 470.6L517.6 493H525.7M500 494.6L506.4 501.9H525.7M474.6 492L493 506.3H525.7" stroke="#2e2e2f" stroke-width="1" fill="none"/>
<path d="M484.6 536H525.7" stroke="#6d6e71" stroke-width="3" fill="none"/><path d="M471.8 521.4L485.9 536.1" stroke="#2e2e2f" stroke-width="1.1" fill="none"/>
<g transform="translate(488.2 454.2) scale(1.04)"><path d="M0.6 12.4C-0.6 5.6 5 0.4 11.6 0.4C18 0.4 22.4 5.2 22.4 11.6C22.4 13.6 22 15.2 21.4 16.4L4.6 16.6C2.4 16 1 14.6 0.6 12.4Z" fill="#1b1b1b"/><g clip-path="url(#domeclip)"><path d="M9.2 6.8L10.1 -1.7M10.4 7.1L13.4 -1.0M11.6 7.7L16.4 0.6M12.6 8.6L19.0 2.8M13.4 9.7L21.0 5.6M13.8 10.9L22.2 8.8M14.0 12.2L22.6 12.2M13.8 13.5L22.2 15.6" stroke="#fff" stroke-width="1.15" fill="none"/><path d="M8.8 6.6C14 6 17.2 10.4 15.4 16.8" stroke="#fff" stroke-width="0.9" fill="none"/></g><circle cx="7.4" cy="11.8" r="2.9" fill="#1b1b1b" stroke="#6a6a6a" stroke-width="0.7"/><path d="M2.6 6.4C4.6 4 7.4 2.8 10 2.9" stroke="#8a8a8a" stroke-width="0.6" fill="none"/></g>
<g transform="translate(497.6 489.4) scale(0.66)"><path d="M0 0L1.6 -17.6" stroke="#2a2a2b" stroke-width="3.6" stroke-linecap="round"/><path d="M0 0L-16.2 -4.2" stroke="#2a2a2b" stroke-width="3.2" stroke-linecap="round"/><path d="M0 0L-14.2 1.8" stroke="#2a2a2b" stroke-width="3.0" stroke-linecap="round"/><path d="M0 0L14.4 -3.4" stroke="#2a2a2b" stroke-width="3.2" stroke-linecap="round"/><path d="M0 0L14.6 1.6" stroke="#2a2a2b" stroke-width="3.0" stroke-linecap="round"/><path d="M0 0L12.4 7.2" stroke="#2a2a2b" stroke-width="3.2" stroke-linecap="round"/><path d="M0 0L-4.4 7.6" stroke="#2a2a2b" stroke-width="2.8" stroke-linecap="round"/><path d="M0 0L-9.4 5.4" stroke="#2a2a2b" stroke-width="2.6" stroke-linecap="round"/><path d="M0.4 -4.9L1.6 -17.1" stroke="#fff" stroke-width="1.9" stroke-linecap="round"/><path d="M-4.5 -1.2L-15.7 -4.1" stroke="#fff" stroke-width="1.5" stroke-linecap="round"/><path d="M-4.0 0.5L-13.8 1.7" stroke="#fff" stroke-width="1.3" stroke-linecap="round"/><path d="M4.0 -1.0L14.0 -3.3" stroke="#fff" stroke-width="1.5" stroke-linecap="round"/><path d="M4.1 0.4L14.2 1.6" stroke="#fff" stroke-width="1.3" stroke-linecap="round"/><path d="M3.5 2.0L12.0 7.0" stroke="#fff" stroke-width="1.5" stroke-linecap="round"/><path d="M-1.2 2.1L-4.3 7.4" stroke="#fff" stroke-width="1.1" stroke-linecap="round"/><path d="M-2.6 1.5L-9.1 5.2" stroke="#fff" stroke-width="0.9" stroke-linecap="round"/><path d="M-2.6 -7V-2.4M-3.4 1.2L3 -1M-8 -2.6L-4.6 -1.6" stroke="#1b1b1b" stroke-width="1.5" fill="none"/></g>
<g transform="translate(478.0 478.0) scale(0.68)"><path d="M4.8 0.5C7.6 4 10.6 10.6 12.4 21.2L4.4 19.8L0.5 15.6C1 10 2.6 4.4 4.8 0.5Z" fill="#e4e5e6" stroke="#2e2e2f" stroke-width="1" stroke-linejoin="round"/><path d="M4.9 1.6C4.2 7.4 4 13.4 4.5 19.4M6.6 5.4C7.4 10 8 15 8.4 20.2M2.6 8C2.2 11 2.2 14 2.6 17" stroke="#6d6e71" stroke-width="0.7" fill="none"/></g>
<g transform="translate(467.4 483.4) scale(1.0)"><path d="M1.9 0.6L6.8 0.9C6.6 8 5.4 14.6 3.2 20.6L0.5 19.8C1.8 13.6 2.2 7 1.9 0.6Z" fill="#e6e7e8" stroke="#3e3e3f" stroke-width="0.95" stroke-linejoin="round"/><path d="M4.4 1.2C4.4 7.6 3.6 14 2 19.8" stroke="#8a8b8e" stroke-width="0.7" fill="none"/></g>
<g transform="translate(463.6 510.6) scale(0.95)"><path d="M0.6 1L8.6 0.6C8.8 10 7.4 19.6 4.6 28.4L0.7 27.2C2 18.6 2 9.8 0.6 1Z" fill="#f0f0f0" stroke="#2e2e2f" stroke-width="1.05" stroke-linejoin="round"/><path d="M0.9 1L8.5 0.7L8.3 2.2L1.2 2.4Z" fill="#1b1b1b"/><path d="M5.8 2.6C6 10.6 5.2 19 3.2 27" stroke="#8a8b8e" stroke-width="0.7" fill="none"/></g>
</g>
</g>
</svg>
</body></html>
